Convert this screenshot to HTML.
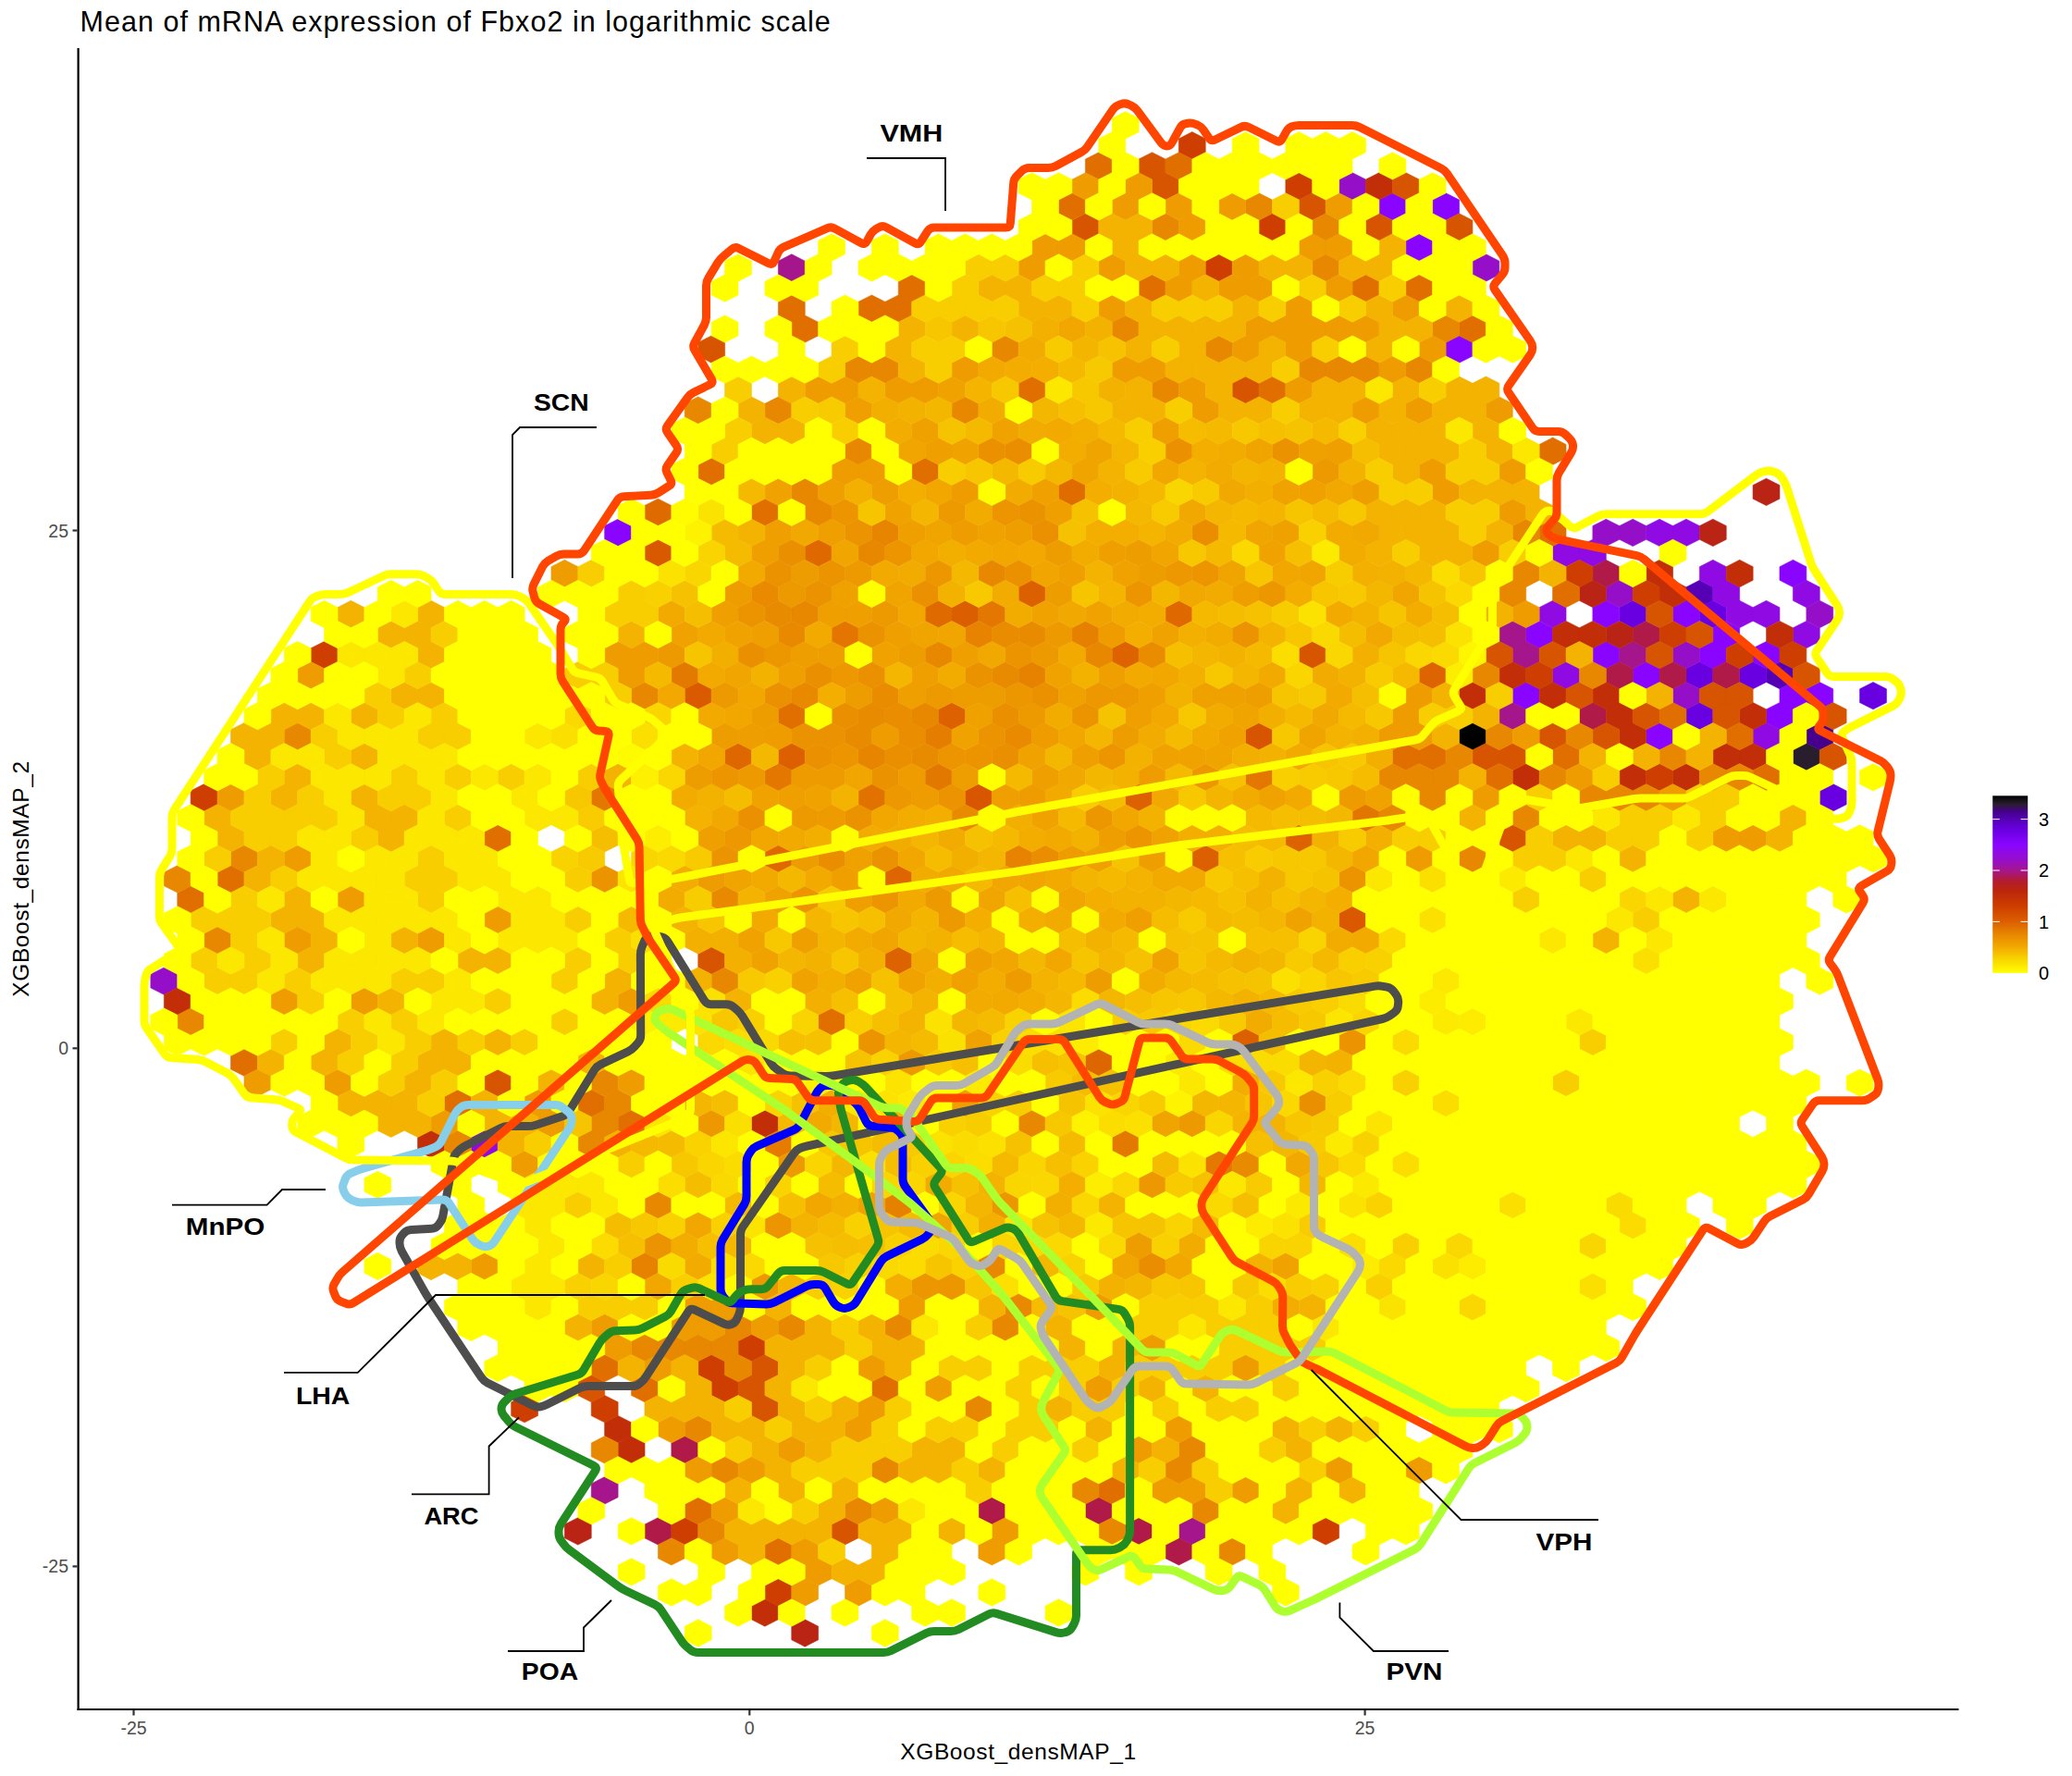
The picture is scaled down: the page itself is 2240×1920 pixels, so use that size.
<!DOCTYPE html>
<html><head><meta charset="utf-8"><title>Fbxo2</title>
<style>
html,body{margin:0;padding:0;background:#fff}
svg{display:block}
text{font-family:"Liberation Sans",sans-serif}
.tk{font-size:19.5px;fill:#4d4d4d}
.ax{font-size:24.5px;fill:#000;letter-spacing:0.6px}
.lb{font-size:26.5px;font-weight:bold;fill:#000}
.lg{font-size:20px;fill:#000}
</style></head><body>
<svg width="2240" height="1920" viewBox="0 0 2240 1920">
<rect width="2240" height="1920" fill="#fff"/>
<g stroke-width="0.6" stroke-linejoin="round">
<path fill="#000000" stroke="#000000" d="M1592.0,781.5l14.44,7.34v14.69l-14.44,7.34l-14.44,-7.34v-14.69z"/>
<path fill="#281e2d" stroke="#281e2d" d="M1952.8,803.5l14.44,7.34v14.69l-14.44,7.34l-14.44,-7.34v-14.69z"/>
<path fill="#46008c" stroke="#46008c" d="M1967.3,781.5l14.44,7.34v14.69l-14.44,7.34l-14.44,-7.34v-14.69z"/>
<path fill="#5500b4" stroke="#5500b4" d="M1837.4,627.3l14.44,7.34v14.69l-14.44,7.34l-14.44,-7.34v-14.69zM1924.0,715.4l14.44,7.34v14.69l-14.44,7.34l-14.44,-7.34v-14.69z"/>
<path fill="#6900e1" stroke="#6900e1" d="M1765.2,649.3l14.44,7.34v14.69l-14.44,7.34l-14.44,-7.34v-14.69zM1851.8,649.3l14.44,7.34v14.69l-14.44,7.34l-14.44,-7.34v-14.69zM1837.4,715.4l14.44,7.34v14.69l-14.44,7.34l-14.44,-7.34v-14.69zM1895.1,715.4l14.44,7.34v14.69l-14.44,7.34l-14.44,-7.34v-14.69zM2025.0,737.5l14.44,7.34v14.69l-14.44,7.34l-14.44,-7.34v-14.69zM1837.4,759.5l14.44,7.34v14.69l-14.44,7.34l-14.44,-7.34v-14.69zM1981.7,847.6l14.44,7.34v14.69l-14.44,7.34l-14.44,-7.34v-14.69z"/>
<path fill="#8a05ff" stroke="#8a05ff" d="M1505.4,208.7l14.44,7.34v14.69l-14.44,7.34l-14.44,-7.34v-14.69zM1563.1,208.7l14.44,7.34v14.69l-14.44,7.34l-14.44,-7.34v-14.69zM1534.2,252.8l14.44,7.34v14.69l-14.44,7.34l-14.44,-7.34v-14.69zM1577.5,362.9l14.44,7.34v14.69l-14.44,7.34l-14.44,-7.34v-14.69zM668.1,561.2l14.44,7.34v14.69l-14.44,7.34l-14.44,-7.34v-14.69zM1938.4,605.3l14.44,7.34v14.69l-14.44,7.34l-14.44,-7.34v-14.69zM1736.3,649.3l14.44,7.34v14.69l-14.44,7.34l-14.44,-7.34v-14.69zM1822.9,649.3l14.44,7.34v14.69l-14.44,7.34l-14.44,-7.34v-14.69zM1664.1,671.4l14.44,7.34v14.69l-14.44,7.34l-14.44,-7.34v-14.69zM1866.2,671.4l14.44,7.34v14.69l-14.44,7.34l-14.44,-7.34v-14.69zM1736.3,693.4l14.44,7.34v14.69l-14.44,7.34l-14.44,-7.34v-14.69zM1851.8,693.4l14.44,7.34v14.69l-14.44,7.34l-14.44,-7.34v-14.69zM1909.5,693.4l14.44,7.34v14.69l-14.44,7.34l-14.44,-7.34v-14.69zM1779.6,715.4l14.44,7.34v14.69l-14.44,7.34l-14.44,-7.34v-14.69zM1649.7,737.5l14.44,7.34v14.69l-14.44,7.34l-14.44,-7.34v-14.69zM1938.4,737.5l14.44,7.34v14.69l-14.44,7.34l-14.44,-7.34v-14.69zM1967.3,737.5l14.44,7.34v14.69l-14.44,7.34l-14.44,-7.34v-14.69zM1924.0,759.5l14.44,7.34v14.69l-14.44,7.34l-14.44,-7.34v-14.69zM1794.1,781.5l14.44,7.34v14.69l-14.44,7.34l-14.44,-7.34v-14.69z"/>
<path fill="#900ae4" stroke="#900ae4" d="M1794.1,561.2l14.44,7.34v14.69l-14.44,7.34l-14.44,-7.34v-14.69zM1822.9,561.2l14.44,7.34v14.69l-14.44,7.34l-14.44,-7.34v-14.69zM1693.0,583.2l14.44,7.34v14.69l-14.44,7.34l-14.44,-7.34v-14.69zM1721.9,583.2l14.44,7.34v14.69l-14.44,7.34l-14.44,-7.34v-14.69zM1851.8,605.3l14.44,7.34v14.69l-14.44,7.34l-14.44,-7.34v-14.69zM1866.2,627.3l14.44,7.34v14.69l-14.44,7.34l-14.44,-7.34v-14.69zM1952.8,627.3l14.44,7.34v14.69l-14.44,7.34l-14.44,-7.34v-14.69zM1678.6,649.3l14.44,7.34v14.69l-14.44,7.34l-14.44,-7.34v-14.69zM1880.7,649.3l14.44,7.34v14.69l-14.44,7.34l-14.44,-7.34v-14.69zM1909.5,649.3l14.44,7.34v14.69l-14.44,7.34l-14.44,-7.34v-14.69zM1952.8,671.4l14.44,7.34v14.69l-14.44,7.34l-14.44,-7.34v-14.69zM1693.0,715.4l14.44,7.34v14.69l-14.44,7.34l-14.44,-7.34v-14.69zM1909.5,781.5l14.44,7.34v14.69l-14.44,7.34l-14.44,-7.34v-14.69zM523.8,1222.1l14.44,7.34v14.69l-14.44,7.34l-14.44,-7.34v-14.69z"/>
<path fill="#960fc8" stroke="#960fc8" d="M1462.1,186.7l14.44,7.34v14.69l-14.44,7.34l-14.44,-7.34v-14.69zM1606.4,274.8l14.44,7.34v14.69l-14.44,7.34l-14.44,-7.34v-14.69zM1736.3,561.2l14.44,7.34v14.69l-14.44,7.34l-14.44,-7.34v-14.69zM1765.2,561.2l14.44,7.34v14.69l-14.44,7.34l-14.44,-7.34v-14.69zM1750.8,627.3l14.44,7.34v14.69l-14.44,7.34l-14.44,-7.34v-14.69zM1967.3,649.3l14.44,7.34v14.69l-14.44,7.34l-14.44,-7.34v-14.69zM1822.9,693.4l14.44,7.34v14.69l-14.44,7.34l-14.44,-7.34v-14.69zM1822.9,737.5l14.44,7.34v14.69l-14.44,7.34l-14.44,-7.34v-14.69zM177.3,1045.9l14.44,7.34v14.69l-14.44,7.34l-14.44,-7.34v-14.69z"/>
<path fill="#a5168c" stroke="#a5168c" d="M855.8,274.8l14.44,7.34v14.69l-14.44,7.34l-14.44,-7.34v-14.69zM1635.3,671.4l14.44,7.34v14.69l-14.44,7.34l-14.44,-7.34v-14.69zM1649.7,693.4l14.44,7.34v14.69l-14.44,7.34l-14.44,-7.34v-14.69zM1765.2,693.4l14.44,7.34v14.69l-14.44,7.34l-14.44,-7.34v-14.69zM1635.3,759.5l14.44,7.34v14.69l-14.44,7.34l-14.44,-7.34v-14.69zM653.7,1596.6l14.44,7.34v14.69l-14.44,7.34l-14.44,-7.34v-14.69zM1288.8,1640.7l14.44,7.34v14.69l-14.44,7.34l-14.44,-7.34v-14.69z"/>
<path fill="#af1a49" stroke="#af1a49" d="M1736.3,605.3l14.44,7.34v14.69l-14.44,7.34l-14.44,-7.34v-14.69zM1779.6,671.4l14.44,7.34v14.69l-14.44,7.34l-14.44,-7.34v-14.69zM1750.8,715.4l14.44,7.34v14.69l-14.44,7.34l-14.44,-7.34v-14.69zM1808.5,715.4l14.44,7.34v14.69l-14.44,7.34l-14.44,-7.34v-14.69zM1866.2,715.4l14.44,7.34v14.69l-14.44,7.34l-14.44,-7.34v-14.69zM1721.9,759.5l14.44,7.34v14.69l-14.44,7.34l-14.44,-7.34v-14.69zM740.3,1552.6l14.44,7.34v14.69l-14.44,7.34l-14.44,-7.34v-14.69zM1072.3,1618.7l14.44,7.34v14.69l-14.44,7.34l-14.44,-7.34v-14.69zM1187.8,1618.7l14.44,7.34v14.69l-14.44,7.34l-14.44,-7.34v-14.69zM711.4,1640.7l14.44,7.34v14.69l-14.44,7.34l-14.44,-7.34v-14.69zM1231.1,1640.7l14.44,7.34v14.69l-14.44,7.34l-14.44,-7.34v-14.69zM1274.4,1662.7l14.44,7.34v14.69l-14.44,7.34l-14.44,-7.34v-14.69z"/>
<path fill="#ba2414" stroke="#ba2414" d="M1909.5,517.2l14.44,7.34v14.69l-14.44,7.34l-14.44,-7.34v-14.69zM1851.8,561.2l14.44,7.34v14.69l-14.44,7.34l-14.44,-7.34v-14.69zM1721.9,627.3l14.44,7.34v14.69l-14.44,7.34l-14.44,-7.34v-14.69zM1750.8,671.4l14.44,7.34v14.69l-14.44,7.34l-14.44,-7.34v-14.69zM624.8,1640.7l14.44,7.34v14.69l-14.44,7.34l-14.44,-7.34v-14.69zM870.2,1750.8l14.44,7.34v14.69l-14.44,7.34l-14.44,-7.34v-14.69z"/>
<path fill="#c22e07" stroke="#c22e07" d="M1490.9,186.7l14.44,7.34v14.69l-14.44,7.34l-14.44,-7.34v-14.69zM1794.1,605.3l14.44,7.34v14.69l-14.44,7.34l-14.44,-7.34v-14.69zM1880.7,605.3l14.44,7.34v14.69l-14.44,7.34l-14.44,-7.34v-14.69zM1808.5,627.3l14.44,7.34v14.69l-14.44,7.34l-14.44,-7.34v-14.69zM1693.0,671.4l14.44,7.34v14.69l-14.44,7.34l-14.44,-7.34v-14.69zM1721.9,671.4l14.44,7.34v14.69l-14.44,7.34l-14.44,-7.34v-14.69zM1924.0,671.4l14.44,7.34v14.69l-14.44,7.34l-14.44,-7.34v-14.69zM1635.3,715.4l14.44,7.34v14.69l-14.44,7.34l-14.44,-7.34v-14.69zM1592.0,737.5l14.44,7.34v14.69l-14.44,7.34l-14.44,-7.34v-14.69zM1678.6,737.5l14.44,7.34v14.69l-14.44,7.34l-14.44,-7.34v-14.69zM1736.3,737.5l14.44,7.34v14.69l-14.44,7.34l-14.44,-7.34v-14.69zM1750.8,759.5l14.44,7.34v14.69l-14.44,7.34l-14.44,-7.34v-14.69zM1895.1,759.5l14.44,7.34v14.69l-14.44,7.34l-14.44,-7.34v-14.69zM1765.2,781.5l14.44,7.34v14.69l-14.44,7.34l-14.44,-7.34v-14.69zM1866.2,803.5l14.44,7.34v14.69l-14.44,7.34l-14.44,-7.34v-14.69zM1895.1,803.5l14.44,7.34v14.69l-14.44,7.34l-14.44,-7.34v-14.69zM1649.7,825.6l14.44,7.34v14.69l-14.44,7.34l-14.44,-7.34v-14.69zM1765.2,825.6l14.44,7.34v14.69l-14.44,7.34l-14.44,-7.34v-14.69zM1822.9,825.6l14.44,7.34v14.69l-14.44,7.34l-14.44,-7.34v-14.69zM191.8,1067.9l14.44,7.34v14.69l-14.44,7.34l-14.44,-7.34v-14.69zM826.9,1200.1l14.44,7.34v14.69l-14.44,7.34l-14.44,-7.34v-14.69zM466.0,1222.1l14.44,7.34v14.69l-14.44,7.34l-14.44,-7.34v-14.69zM668.1,1530.5l14.44,7.34v14.69l-14.44,7.34l-14.44,-7.34v-14.69zM682.6,1552.6l14.44,7.34v14.69l-14.44,7.34l-14.44,-7.34v-14.69zM826.9,1728.8l14.44,7.34v14.69l-14.44,7.34l-14.44,-7.34v-14.69z"/>
<path fill="#cd3e00" stroke="#cd3e00" d="M1288.8,142.6l14.44,7.34v14.69l-14.44,7.34l-14.44,-7.34v-14.69zM1404.3,186.7l14.44,7.34v14.69l-14.44,7.34l-14.44,-7.34v-14.69zM1375.4,230.8l14.44,7.34v14.69l-14.44,7.34l-14.44,-7.34v-14.69zM1317.7,274.8l14.44,7.34v14.69l-14.44,7.34l-14.44,-7.34v-14.69zM1707.5,605.3l14.44,7.34v14.69l-14.44,7.34l-14.44,-7.34v-14.69zM1779.6,627.3l14.44,7.34v14.69l-14.44,7.34l-14.44,-7.34v-14.69zM1808.5,671.4l14.44,7.34v14.69l-14.44,7.34l-14.44,-7.34v-14.69zM350.6,693.4l14.44,7.34v14.69l-14.44,7.34l-14.44,-7.34v-14.69zM1880.7,693.4l14.44,7.34v14.69l-14.44,7.34l-14.44,-7.34v-14.69zM1938.4,693.4l14.44,7.34v14.69l-14.44,7.34l-14.44,-7.34v-14.69zM1664.1,715.4l14.44,7.34v14.69l-14.44,7.34l-14.44,-7.34v-14.69zM1794.1,825.6l14.44,7.34v14.69l-14.44,7.34l-14.44,-7.34v-14.69zM220.6,847.6l14.44,7.34v14.69l-14.44,7.34l-14.44,-7.34v-14.69zM812.5,1442.4l14.44,7.34v14.69l-14.44,7.34l-14.44,-7.34v-14.69zM769.2,1464.4l14.44,7.34v14.69l-14.44,7.34l-14.44,-7.34v-14.69zM783.6,1486.5l14.44,7.34v14.69l-14.44,7.34l-14.44,-7.34v-14.69zM567.1,1508.5l14.44,7.34v14.69l-14.44,7.34l-14.44,-7.34v-14.69zM653.7,1508.5l14.44,7.34v14.69l-14.44,7.34l-14.44,-7.34v-14.69zM740.3,1640.7l14.44,7.34v14.69l-14.44,7.34l-14.44,-7.34v-14.69zM1433.2,1640.7l14.44,7.34v14.69l-14.44,7.34l-14.44,-7.34v-14.69zM841.4,1706.8l14.44,7.34v14.69l-14.44,7.34l-14.44,-7.34v-14.69z"/>
<path fill="#d75400" stroke="#d75400" d="M1245.5,164.7l14.44,7.34v14.69l-14.44,7.34l-14.44,-7.34v-14.69zM1260.0,186.7l14.44,7.34v14.69l-14.44,7.34l-14.44,-7.34v-14.69zM1519.8,186.7l14.44,7.34v14.69l-14.44,7.34l-14.44,-7.34v-14.69zM1418.8,208.7l14.44,7.34v14.69l-14.44,7.34l-14.44,-7.34v-14.69zM1173.4,230.8l14.44,7.34v14.69l-14.44,7.34l-14.44,-7.34v-14.69zM1490.9,230.8l14.44,7.34v14.69l-14.44,7.34l-14.44,-7.34v-14.69zM1577.5,230.8l14.44,7.34v14.69l-14.44,7.34l-14.44,-7.34v-14.69zM769.2,362.9l14.44,7.34v14.69l-14.44,7.34l-14.44,-7.34v-14.69zM1346.6,407.0l14.44,7.34v14.69l-14.44,7.34l-14.44,-7.34v-14.69zM1794.1,649.3l14.44,7.34v14.69l-14.44,7.34l-14.44,-7.34v-14.69zM1837.4,671.4l14.44,7.34v14.69l-14.44,7.34l-14.44,-7.34v-14.69zM1620.8,693.4l14.44,7.34v14.69l-14.44,7.34l-14.44,-7.34v-14.69zM1678.6,693.4l14.44,7.34v14.69l-14.44,7.34l-14.44,-7.34v-14.69zM1794.1,693.4l14.44,7.34v14.69l-14.44,7.34l-14.44,-7.34v-14.69zM1952.8,715.4l14.44,7.34v14.69l-14.44,7.34l-14.44,-7.34v-14.69zM1707.5,737.5l14.44,7.34v14.69l-14.44,7.34l-14.44,-7.34v-14.69zM1851.8,737.5l14.44,7.34v14.69l-14.44,7.34l-14.44,-7.34v-14.69zM1880.7,737.5l14.44,7.34v14.69l-14.44,7.34l-14.44,-7.34v-14.69zM1779.6,759.5l14.44,7.34v14.69l-14.44,7.34l-14.44,-7.34v-14.69zM1866.2,759.5l14.44,7.34v14.69l-14.44,7.34l-14.44,-7.34v-14.69zM1981.7,759.5l14.44,7.34v14.69l-14.44,7.34l-14.44,-7.34v-14.69zM1361.0,781.5l14.44,7.34v14.69l-14.44,7.34l-14.44,-7.34v-14.69zM1678.6,781.5l14.44,7.34v14.69l-14.44,7.34l-14.44,-7.34v-14.69zM1736.3,781.5l14.44,7.34v14.69l-14.44,7.34l-14.44,-7.34v-14.69zM1606.4,803.5l14.44,7.34v14.69l-14.44,7.34l-14.44,-7.34v-14.69zM1635.3,803.5l14.44,7.34v14.69l-14.44,7.34l-14.44,-7.34v-14.69zM1981.7,803.5l14.44,7.34v14.69l-14.44,7.34l-14.44,-7.34v-14.69zM1635.3,891.7l14.44,7.34v14.69l-14.44,7.34l-14.44,-7.34v-14.69zM769.2,1023.8l14.44,7.34v14.69l-14.44,7.34l-14.44,-7.34v-14.69zM538.2,1156.0l14.44,7.34v14.69l-14.44,7.34l-14.44,-7.34v-14.69zM826.9,1464.4l14.44,7.34v14.69l-14.44,7.34l-14.44,-7.34v-14.69zM639.3,1486.5l14.44,7.34v14.69l-14.44,7.34l-14.44,-7.34v-14.69zM812.5,1486.5l14.44,7.34v14.69l-14.44,7.34l-14.44,-7.34v-14.69zM826.9,1508.5l14.44,7.34v14.69l-14.44,7.34l-14.44,-7.34v-14.69zM913.5,1640.7l14.44,7.34v14.69l-14.44,7.34l-14.44,-7.34v-14.69z"/>
<path fill="#d85500" stroke="#d85500" d="M1418.8,693.4l14.44,7.34v14.69l-14.44,7.34l-14.44,-7.34v-14.69z"/>
<path fill="#d85600" stroke="#d85600" d="M1057.9,847.6l14.44,7.34v14.69l-14.44,7.34l-14.44,-7.34v-14.69z"/>
<path fill="#d95800" stroke="#d95800" d="M1462.1,979.8l14.44,7.34v14.69l-14.44,7.34l-14.44,-7.34v-14.69z"/>
<path fill="#d95900" stroke="#d95900" d="M711.4,583.2l14.44,7.34v14.69l-14.44,7.34l-14.44,-7.34v-14.69z"/>
<path fill="#da5a00" stroke="#da5a00" d="M754.7,737.5l14.44,7.34v14.69l-14.44,7.34l-14.44,-7.34v-14.69z"/>
<path fill="#db5e00" stroke="#db5e00" d="M1043.4,649.3l14.44,7.34v14.69l-14.44,7.34l-14.44,-7.34v-14.69z"/>
<path fill="#dc5f00" stroke="#dc5f00" d="M855.8,803.5l14.44,7.34v14.69l-14.44,7.34l-14.44,-7.34v-14.69z"/>
<path fill="#dc6000" stroke="#dc6000" d="M1115.6,627.3l14.44,7.34v14.69l-14.44,7.34l-14.44,-7.34v-14.69zM1303.3,913.7l14.44,7.34v14.69l-14.44,7.34l-14.44,-7.34v-14.69zM1346.6,1112.0l14.44,7.34v14.69l-14.44,7.34l-14.44,-7.34v-14.69z"/>
<path fill="#dd6100" stroke="#dd6100" d="M1029.0,759.5l14.44,7.34v14.69l-14.44,7.34l-14.44,-7.34v-14.69zM1231.1,847.6l14.44,7.34v14.69l-14.44,7.34l-14.44,-7.34v-14.69z"/>
<path fill="#dd6300" stroke="#dd6300" d="M1216.7,693.4l14.44,7.34v14.69l-14.44,7.34l-14.44,-7.34v-14.69zM1404.3,891.7l14.44,7.34v14.69l-14.44,7.34l-14.44,-7.34v-14.69zM971.3,1023.8l14.44,7.34v14.69l-14.44,7.34l-14.44,-7.34v-14.69z"/>
<path fill="#dd6400" stroke="#dd6400" d="M1548.7,715.4l14.44,7.34v14.69l-14.44,7.34l-14.44,-7.34v-14.69z"/>
<path fill="#de6500" stroke="#de6500" d="M971.3,935.7l14.44,7.34v14.69l-14.44,7.34l-14.44,-7.34v-14.69z"/>
<path fill="#de6600" stroke="#de6600" d="M1187.8,1134.0l14.44,7.34v14.69l-14.44,7.34l-14.44,-7.34v-14.69z"/>
<path fill="#de6700" stroke="#de6700" d="M798.0,803.5l14.44,7.34v14.69l-14.44,7.34l-14.44,-7.34v-14.69z"/>
<path fill="#df6800" stroke="#df6800" d="M884.7,583.2l14.44,7.34v14.69l-14.44,7.34l-14.44,-7.34v-14.69z"/>
<path fill="#df6900" stroke="#df6900" d="M1274.4,649.3l14.44,7.34v14.69l-14.44,7.34l-14.44,-7.34v-14.69zM841.4,913.7l14.44,7.34v14.69l-14.44,7.34l-14.44,-7.34v-14.69z"/>
<path fill="#df6a00" stroke="#df6a00" d="M711.4,539.2l14.44,7.34v14.69l-14.44,7.34l-14.44,-7.34v-14.69zM1014.6,649.3l14.44,7.34v14.69l-14.44,7.34l-14.44,-7.34v-14.69z"/>
<path fill="#e06c00" stroke="#e06c00" d="M1158.9,517.2l14.44,7.34v14.69l-14.44,7.34l-14.44,-7.34v-14.69z"/>
<path fill="#e16f00" stroke="#e16f00" d="M1187.8,164.7l14.44,7.34v14.69l-14.44,7.34l-14.44,-7.34v-14.69zM1274.4,164.7l14.44,7.34v14.69l-14.44,7.34l-14.44,-7.34v-14.69zM1158.9,208.7l14.44,7.34v14.69l-14.44,7.34l-14.44,-7.34v-14.69zM985.7,296.9l14.44,7.34v14.69l-14.44,7.34l-14.44,-7.34v-14.69zM1245.5,296.9l14.44,7.34v14.69l-14.44,7.34l-14.44,-7.34v-14.69zM1476.5,296.9l14.44,7.34v14.69l-14.44,7.34l-14.44,-7.34v-14.69zM1534.2,296.9l14.44,7.34v14.69l-14.44,7.34l-14.44,-7.34v-14.69zM855.8,318.9l14.44,7.34v14.69l-14.44,7.34l-14.44,-7.34v-14.69zM942.4,318.9l14.44,7.34v14.69l-14.44,7.34l-14.44,-7.34v-14.69zM971.3,318.9l14.44,7.34v14.69l-14.44,7.34l-14.44,-7.34v-14.69zM870.2,340.9l14.44,7.34v14.69l-14.44,7.34l-14.44,-7.34v-14.69zM1592.0,340.9l14.44,7.34v14.69l-14.44,7.34l-14.44,-7.34v-14.69zM1115.6,407.0l14.44,7.34v14.69l-14.44,7.34l-14.44,-7.34v-14.69zM1375.4,407.0l14.44,7.34v14.69l-14.44,7.34l-14.44,-7.34v-14.69zM1678.6,473.1l14.44,7.34v14.69l-14.44,7.34l-14.44,-7.34v-14.69zM769.2,495.1l14.44,7.34v14.69l-14.44,7.34l-14.44,-7.34v-14.69zM1000.1,495.1l14.44,7.34v14.69l-14.44,7.34l-14.44,-7.34v-14.69zM826.9,539.2l14.44,7.34v14.69l-14.44,7.34l-14.44,-7.34v-14.69zM1678.6,561.2l14.44,7.34v14.69l-14.44,7.34l-14.44,-7.34v-14.69zM1693.0,627.3l14.44,7.34v14.69l-14.44,7.34l-14.44,-7.34v-14.69zM855.8,759.5l14.44,7.34v14.69l-14.44,7.34l-14.44,-7.34v-14.69zM1808.5,759.5l14.44,7.34v14.69l-14.44,7.34l-14.44,-7.34v-14.69zM1880.7,781.5l14.44,7.34v14.69l-14.44,7.34l-14.44,-7.34v-14.69zM1519.8,803.5l14.44,7.34v14.69l-14.44,7.34l-14.44,-7.34v-14.69zM1548.7,803.5l14.44,7.34v14.69l-14.44,7.34l-14.44,-7.34v-14.69zM1693.0,803.5l14.44,7.34v14.69l-14.44,7.34l-14.44,-7.34v-14.69zM1620.8,825.6l14.44,7.34v14.69l-14.44,7.34l-14.44,-7.34v-14.69zM1909.5,825.6l14.44,7.34v14.69l-14.44,7.34l-14.44,-7.34v-14.69zM538.2,891.7l14.44,7.34v14.69l-14.44,7.34l-14.44,-7.34v-14.69zM249.5,935.7l14.44,7.34v14.69l-14.44,7.34l-14.44,-7.34v-14.69zM206.2,957.8l14.44,7.34v14.69l-14.44,7.34l-14.44,-7.34v-14.69zM899.1,1089.9l14.44,7.34v14.69l-14.44,7.34l-14.44,-7.34v-14.69zM263.9,1134.0l14.44,7.34v14.69l-14.44,7.34l-14.44,-7.34v-14.69zM494.9,1178.1l14.44,7.34v14.69l-14.44,7.34l-14.44,-7.34v-14.69zM639.3,1178.1l14.44,7.34v14.69l-14.44,7.34l-14.44,-7.34v-14.69zM682.6,1200.1l14.44,7.34v14.69l-14.44,7.34l-14.44,-7.34v-14.69zM653.7,1464.4l14.44,7.34v14.69l-14.44,7.34l-14.44,-7.34v-14.69zM697.0,1486.5l14.44,7.34v14.69l-14.44,7.34l-14.44,-7.34v-14.69zM956.8,1486.5l14.44,7.34v14.69l-14.44,7.34l-14.44,-7.34v-14.69zM1202.2,1596.6l14.44,7.34v14.69l-14.44,7.34l-14.44,-7.34v-14.69zM754.7,1618.7l14.44,7.34v14.69l-14.44,7.34l-14.44,-7.34v-14.69zM841.4,1662.7l14.44,7.34v14.69l-14.44,7.34l-14.44,-7.34v-14.69z"/>
<path fill="#e27200" stroke="#e27200" d="M942.4,847.6l14.44,7.34v14.69l-14.44,7.34l-14.44,-7.34v-14.69z"/>
<path fill="#e37500" stroke="#e37500" d="M913.5,671.4l14.44,7.34v14.69l-14.44,7.34l-14.44,-7.34v-14.69z"/>
<path fill="#e37600" stroke="#e37600" d="M1476.5,869.6l14.44,7.34v14.69l-14.44,7.34l-14.44,-7.34v-14.69z"/>
<path fill="#e37700" stroke="#e37700" d="M1072.3,649.3l14.44,7.34v14.69l-14.44,7.34l-14.44,-7.34v-14.69zM841.4,825.6l14.44,7.34v14.69l-14.44,7.34l-14.44,-7.34v-14.69zM1361.0,825.6l14.44,7.34v14.69l-14.44,7.34l-14.44,-7.34v-14.69zM653.7,847.6l14.44,7.34v14.69l-14.44,7.34l-14.44,-7.34v-14.69z"/>
<path fill="#e37800" stroke="#e37800" d="M1014.6,825.6l14.44,7.34v14.69l-14.44,7.34l-14.44,-7.34v-14.69z"/>
<path fill="#e47800" stroke="#e47800" d="M1317.7,1244.1l14.44,7.34v14.69l-14.44,7.34l-14.44,-7.34v-14.69z"/>
<path fill="#e47900" stroke="#e47900" d="M740.3,715.4l14.44,7.34v14.69l-14.44,7.34l-14.44,-7.34v-14.69zM1216.7,1222.1l14.44,7.34v14.69l-14.44,7.34l-14.44,-7.34v-14.69z"/>
<path fill="#e57c00" stroke="#e57c00" d="M841.4,1222.1l14.44,7.34v14.69l-14.44,7.34l-14.44,-7.34v-14.69z"/>
<path fill="#e57d00" stroke="#e57d00" d="M1014.6,781.5l14.44,7.34v14.69l-14.44,7.34l-14.44,-7.34v-14.69z"/>
<path fill="#e68000" stroke="#e68000" d="M1173.4,671.4l14.44,7.34v14.69l-14.44,7.34l-14.44,-7.34v-14.69z"/>
<path fill="#e68100" stroke="#e68100" d="M971.3,1288.2l14.44,7.34v14.69l-14.44,7.34l-14.44,-7.34v-14.69z"/>
<path fill="#e68200" stroke="#e68200" d="M697.0,1354.3l14.44,7.34v14.69l-14.44,7.34l-14.44,-7.34v-14.69z"/>
<path fill="#e78200" stroke="#e78200" d="M1115.6,715.4l14.44,7.34v14.69l-14.44,7.34l-14.44,-7.34v-14.69z"/>
<path fill="#e78300" stroke="#e78300" d="M1057.9,671.4l14.44,7.34v14.69l-14.44,7.34l-14.44,-7.34v-14.69zM1101.2,913.7l14.44,7.34v14.69l-14.44,7.34l-14.44,-7.34v-14.69z"/>
<path fill="#e78400" stroke="#e78400" d="M942.4,803.5l14.44,7.34v14.69l-14.44,7.34l-14.44,-7.34v-14.69z"/>
<path fill="#e78500" stroke="#e78500" d="M956.8,561.2l14.44,7.34v14.69l-14.44,7.34l-14.44,-7.34v-14.69z"/>
<path fill="#e88700" stroke="#e88700" d="M1361.0,208.7l14.44,7.34v14.69l-14.44,7.34l-14.44,-7.34v-14.69zM1260.0,230.8l14.44,7.34v14.69l-14.44,7.34l-14.44,-7.34v-14.69zM1433.2,230.8l14.44,7.34v14.69l-14.44,7.34l-14.44,-7.34v-14.69zM1433.2,274.8l14.44,7.34v14.69l-14.44,7.34l-14.44,-7.34v-14.69zM1216.7,340.9l14.44,7.34v14.69l-14.44,7.34l-14.44,-7.34v-14.69zM1563.1,340.9l14.44,7.34v14.69l-14.44,7.34l-14.44,-7.34v-14.69zM1086.7,362.9l14.44,7.34v14.69l-14.44,7.34l-14.44,-7.34v-14.69zM1317.7,362.9l14.44,7.34v14.69l-14.44,7.34l-14.44,-7.34v-14.69zM928.0,385.0l14.44,7.34v14.69l-14.44,7.34l-14.44,-7.34v-14.69zM956.8,385.0l14.44,7.34v14.69l-14.44,7.34l-14.44,-7.34v-14.69zM1418.8,385.0l14.44,7.34v14.69l-14.44,7.34l-14.44,-7.34v-14.69zM1447.6,385.0l14.44,7.34v14.69l-14.44,7.34l-14.44,-7.34v-14.69zM1476.5,385.0l14.44,7.34v14.69l-14.44,7.34l-14.44,-7.34v-14.69zM1534.2,385.0l14.44,7.34v14.69l-14.44,7.34l-14.44,-7.34v-14.69zM1260.0,407.0l14.44,7.34v14.69l-14.44,7.34l-14.44,-7.34v-14.69zM754.7,429.0l14.44,7.34v14.69l-14.44,7.34l-14.44,-7.34v-14.69zM841.4,429.0l14.44,7.34v14.69l-14.44,7.34l-14.44,-7.34v-14.69zM1043.4,429.0l14.44,7.34v14.69l-14.44,7.34l-14.44,-7.34v-14.69zM928.0,473.1l14.44,7.34v14.69l-14.44,7.34l-14.44,-7.34v-14.69zM870.2,517.2l14.44,7.34v14.69l-14.44,7.34l-14.44,-7.34v-14.69zM884.7,539.2l14.44,7.34v14.69l-14.44,7.34l-14.44,-7.34v-14.69zM1649.7,561.2l14.44,7.34v14.69l-14.44,7.34l-14.44,-7.34v-14.69zM942.4,583.2l14.44,7.34v14.69l-14.44,7.34l-14.44,-7.34v-14.69zM1649.7,605.3l14.44,7.34v14.69l-14.44,7.34l-14.44,-7.34v-14.69zM1635.3,627.3l14.44,7.34v14.69l-14.44,7.34l-14.44,-7.34v-14.69zM870.2,649.3l14.44,7.34v14.69l-14.44,7.34l-14.44,-7.34v-14.69zM1014.6,693.4l14.44,7.34v14.69l-14.44,7.34l-14.44,-7.34v-14.69zM1606.4,715.4l14.44,7.34v14.69l-14.44,7.34l-14.44,-7.34v-14.69zM1721.9,715.4l14.44,7.34v14.69l-14.44,7.34l-14.44,-7.34v-14.69zM697.0,737.5l14.44,7.34v14.69l-14.44,7.34l-14.44,-7.34v-14.69zM1000.1,759.5l14.44,7.34v14.69l-14.44,7.34l-14.44,-7.34v-14.69zM321.7,781.5l14.44,7.34v14.69l-14.44,7.34l-14.44,-7.34v-14.69zM1620.8,781.5l14.44,7.34v14.69l-14.44,7.34l-14.44,-7.34v-14.69zM1707.5,781.5l14.44,7.34v14.69l-14.44,7.34l-14.44,-7.34v-14.69zM1577.5,803.5l14.44,7.34v14.69l-14.44,7.34l-14.44,-7.34v-14.69zM1808.5,803.5l14.44,7.34v14.69l-14.44,7.34l-14.44,-7.34v-14.69zM1505.4,825.6l14.44,7.34v14.69l-14.44,7.34l-14.44,-7.34v-14.69zM1534.2,825.6l14.44,7.34v14.69l-14.44,7.34l-14.44,-7.34v-14.69zM1563.1,825.6l14.44,7.34v14.69l-14.44,7.34l-14.44,-7.34v-14.69zM1678.6,825.6l14.44,7.34v14.69l-14.44,7.34l-14.44,-7.34v-14.69zM1851.8,825.6l14.44,7.34v14.69l-14.44,7.34l-14.44,-7.34v-14.69zM1880.7,825.6l14.44,7.34v14.69l-14.44,7.34l-14.44,-7.34v-14.69zM1548.7,847.6l14.44,7.34v14.69l-14.44,7.34l-14.44,-7.34v-14.69zM1721.9,847.6l14.44,7.34v14.69l-14.44,7.34l-14.44,-7.34v-14.69zM1750.8,847.6l14.44,7.34v14.69l-14.44,7.34l-14.44,-7.34v-14.69zM1779.6,847.6l14.44,7.34v14.69l-14.44,7.34l-14.44,-7.34v-14.69zM1505.4,869.6l14.44,7.34v14.69l-14.44,7.34l-14.44,-7.34v-14.69zM1649.7,869.6l14.44,7.34v14.69l-14.44,7.34l-14.44,-7.34v-14.69zM263.9,913.7l14.44,7.34v14.69l-14.44,7.34l-14.44,-7.34v-14.69zM1592.0,913.7l14.44,7.34v14.69l-14.44,7.34l-14.44,-7.34v-14.69zM191.8,935.7l14.44,7.34v14.69l-14.44,7.34l-14.44,-7.34v-14.69zM235.1,1001.8l14.44,7.34v14.69l-14.44,7.34l-14.44,-7.34v-14.69zM783.6,1045.9l14.44,7.34v14.69l-14.44,7.34l-14.44,-7.34v-14.69zM206.2,1089.9l14.44,7.34v14.69l-14.44,7.34l-14.44,-7.34v-14.69zM653.7,1156.0l14.44,7.34v14.69l-14.44,7.34l-14.44,-7.34v-14.69zM668.1,1178.1l14.44,7.34v14.69l-14.44,7.34l-14.44,-7.34v-14.69zM653.7,1200.1l14.44,7.34v14.69l-14.44,7.34l-14.44,-7.34v-14.69zM494.9,1222.1l14.44,7.34v14.69l-14.44,7.34l-14.44,-7.34v-14.69zM639.3,1222.1l14.44,7.34v14.69l-14.44,7.34l-14.44,-7.34v-14.69zM711.4,1288.2l14.44,7.34v14.69l-14.44,7.34l-14.44,-7.34v-14.69zM798.0,1420.4l14.44,7.34v14.69l-14.44,7.34l-14.44,-7.34v-14.69zM855.8,1420.4l14.44,7.34v14.69l-14.44,7.34l-14.44,-7.34v-14.69zM971.3,1420.4l14.44,7.34v14.69l-14.44,7.34l-14.44,-7.34v-14.69zM1086.7,1420.4l14.44,7.34v14.69l-14.44,7.34l-14.44,-7.34v-14.69zM697.0,1442.4l14.44,7.34v14.69l-14.44,7.34l-14.44,-7.34v-14.69zM725.9,1442.4l14.44,7.34v14.69l-14.44,7.34l-14.44,-7.34v-14.69zM754.7,1442.4l14.44,7.34v14.69l-14.44,7.34l-14.44,-7.34v-14.69zM783.6,1442.4l14.44,7.34v14.69l-14.44,7.34l-14.44,-7.34v-14.69zM798.0,1464.4l14.44,7.34v14.69l-14.44,7.34l-14.44,-7.34v-14.69zM1057.9,1508.5l14.44,7.34v14.69l-14.44,7.34l-14.44,-7.34v-14.69zM754.7,1530.5l14.44,7.34v14.69l-14.44,7.34l-14.44,-7.34v-14.69zM653.7,1552.6l14.44,7.34v14.69l-14.44,7.34l-14.44,-7.34v-14.69zM1288.8,1552.6l14.44,7.34v14.69l-14.44,7.34l-14.44,-7.34v-14.69zM783.6,1574.6l14.44,7.34v14.69l-14.44,7.34l-14.44,-7.34v-14.69zM956.8,1574.6l14.44,7.34v14.69l-14.44,7.34l-14.44,-7.34v-14.69zM1274.4,1574.6l14.44,7.34v14.69l-14.44,7.34l-14.44,-7.34v-14.69zM1173.4,1596.6l14.44,7.34v14.69l-14.44,7.34l-14.44,-7.34v-14.69zM928.0,1618.7l14.44,7.34v14.69l-14.44,7.34l-14.44,-7.34v-14.69zM1303.3,1618.7l14.44,7.34v14.69l-14.44,7.34l-14.44,-7.34v-14.69zM769.2,1640.7l14.44,7.34v14.69l-14.44,7.34l-14.44,-7.34v-14.69zM1202.2,1640.7l14.44,7.34v14.69l-14.44,7.34l-14.44,-7.34v-14.69zM725.9,1662.7l14.44,7.34v14.69l-14.44,7.34l-14.44,-7.34v-14.69zM1332.1,1662.7l14.44,7.34v14.69l-14.44,7.34l-14.44,-7.34v-14.69z"/>
<path fill="#e88800" stroke="#e88800" d="M1072.3,605.3l14.44,7.34v14.69l-14.44,7.34l-14.44,-7.34v-14.69zM1187.8,693.4l14.44,7.34v14.69l-14.44,7.34l-14.44,-7.34v-14.69zM1115.6,1200.1l14.44,7.34v14.69l-14.44,7.34l-14.44,-7.34v-14.69zM1072.3,1354.3l14.44,7.34v14.69l-14.44,7.34l-14.44,-7.34v-14.69z"/>
<path fill="#e88900" stroke="#e88900" d="M855.8,671.4l14.44,7.34v14.69l-14.44,7.34l-14.44,-7.34v-14.69zM1101.2,1398.4l14.44,7.34v14.69l-14.44,7.34l-14.44,-7.34v-14.69z"/>
<path fill="#e98900" stroke="#e98900" d="M870.2,737.5l14.44,7.34v14.69l-14.44,7.34l-14.44,-7.34v-14.69zM783.6,957.8l14.44,7.34v14.69l-14.44,7.34l-14.44,-7.34v-14.69z"/>
<path fill="#e98a00" stroke="#e98a00" d="M826.9,627.3l14.44,7.34v14.69l-14.44,7.34l-14.44,-7.34v-14.69zM1101.2,781.5l14.44,7.34v14.69l-14.44,7.34l-14.44,-7.34v-14.69z"/>
<path fill="#e98b00" stroke="#e98b00" d="M841.4,649.3l14.44,7.34v14.69l-14.44,7.34l-14.44,-7.34v-14.69zM1115.6,671.4l14.44,7.34v14.69l-14.44,7.34l-14.44,-7.34v-14.69zM1086.7,715.4l14.44,7.34v14.69l-14.44,7.34l-14.44,-7.34v-14.69zM942.4,759.5l14.44,7.34v14.69l-14.44,7.34l-14.44,-7.34v-14.69zM928.0,781.5l14.44,7.34v14.69l-14.44,7.34l-14.44,-7.34v-14.69zM1000.1,803.5l14.44,7.34v14.69l-14.44,7.34l-14.44,-7.34v-14.69zM1043.4,869.6l14.44,7.34v14.69l-14.44,7.34l-14.44,-7.34v-14.69zM1346.6,1244.1l14.44,7.34v14.69l-14.44,7.34l-14.44,-7.34v-14.69z"/>
<path fill="#e98c00" stroke="#e98c00" d="M1086.7,671.4l14.44,7.34v14.69l-14.44,7.34l-14.44,-7.34v-14.69zM956.8,737.5l14.44,7.34v14.69l-14.44,7.34l-14.44,-7.34v-14.69z"/>
<path fill="#ea8c00" stroke="#ea8c00" d="M1245.5,693.4l14.44,7.34v14.69l-14.44,7.34l-14.44,-7.34v-14.69z"/>
<path fill="#ea8d00" stroke="#ea8d00" d="M971.3,759.5l14.44,7.34v14.69l-14.44,7.34l-14.44,-7.34v-14.69zM985.7,781.5l14.44,7.34v14.69l-14.44,7.34l-14.44,-7.34v-14.69zM1130.0,913.7l14.44,7.34v14.69l-14.44,7.34l-14.44,-7.34v-14.69zM1245.5,1354.3l14.44,7.34v14.69l-14.44,7.34l-14.44,-7.34v-14.69z"/>
<path fill="#ea8e00" stroke="#ea8e00" d="M1101.2,473.1l14.44,7.34v14.69l-14.44,7.34l-14.44,-7.34v-14.69zM1303.3,561.2l14.44,7.34v14.69l-14.44,7.34l-14.44,-7.34v-14.69zM899.1,913.7l14.44,7.34v14.69l-14.44,7.34l-14.44,-7.34v-14.69z"/>
<path fill="#ea8f00" stroke="#ea8f00" d="M855.8,583.2l14.44,7.34v14.69l-14.44,7.34l-14.44,-7.34v-14.69zM812.5,693.4l14.44,7.34v14.69l-14.44,7.34l-14.44,-7.34v-14.69zM884.7,715.4l14.44,7.34v14.69l-14.44,7.34l-14.44,-7.34v-14.69zM913.5,759.5l14.44,7.34v14.69l-14.44,7.34l-14.44,-7.34v-14.69zM971.3,803.5l14.44,7.34v14.69l-14.44,7.34l-14.44,-7.34v-14.69zM1086.7,803.5l14.44,7.34v14.69l-14.44,7.34l-14.44,-7.34v-14.69zM1418.8,1178.1l14.44,7.34v14.69l-14.44,7.34l-14.44,-7.34v-14.69z"/>
<path fill="#ea9000" stroke="#ea9000" d="M1086.7,759.5l14.44,7.34v14.69l-14.44,7.34l-14.44,-7.34v-14.69z"/>
<path fill="#eb9000" stroke="#eb9000" d="M1274.4,473.1l14.44,7.34v14.69l-14.44,7.34l-14.44,-7.34v-14.69zM1130.0,561.2l14.44,7.34v14.69l-14.44,7.34l-14.44,-7.34v-14.69zM1000.1,627.3l14.44,7.34v14.69l-14.44,7.34l-14.44,-7.34v-14.69zM942.4,715.4l14.44,7.34v14.69l-14.44,7.34l-14.44,-7.34v-14.69zM841.4,737.5l14.44,7.34v14.69l-14.44,7.34l-14.44,-7.34v-14.69zM884.7,803.5l14.44,7.34v14.69l-14.44,7.34l-14.44,-7.34v-14.69zM812.5,869.6l14.44,7.34v14.69l-14.44,7.34l-14.44,-7.34v-14.69z"/>
<path fill="#eb9100" stroke="#eb9100" d="M1072.3,473.1l14.44,7.34v14.69l-14.44,7.34l-14.44,-7.34v-14.69zM1101.2,605.3l14.44,7.34v14.69l-14.44,7.34l-14.44,-7.34v-14.69zM1130.0,737.5l14.44,7.34v14.69l-14.44,7.34l-14.44,-7.34v-14.69z"/>
<path fill="#eb9200" stroke="#eb9200" d="M1389.9,473.1l14.44,7.34v14.69l-14.44,7.34l-14.44,-7.34v-14.69zM1115.6,539.2l14.44,7.34v14.69l-14.44,7.34l-14.44,-7.34v-14.69zM841.4,605.3l14.44,7.34v14.69l-14.44,7.34l-14.44,-7.34v-14.69zM884.7,627.3l14.44,7.34v14.69l-14.44,7.34l-14.44,-7.34v-14.69zM942.4,671.4l14.44,7.34v14.69l-14.44,7.34l-14.44,-7.34v-14.69zM1057.9,715.4l14.44,7.34v14.69l-14.44,7.34l-14.44,-7.34v-14.69zM870.2,781.5l14.44,7.34v14.69l-14.44,7.34l-14.44,-7.34v-14.69zM899.1,781.5l14.44,7.34v14.69l-14.44,7.34l-14.44,-7.34v-14.69zM956.8,825.6l14.44,7.34v14.69l-14.44,7.34l-14.44,-7.34v-14.69zM928.0,869.6l14.44,7.34v14.69l-14.44,7.34l-14.44,-7.34v-14.69zM956.8,913.7l14.44,7.34v14.69l-14.44,7.34l-14.44,-7.34v-14.69z"/>
<path fill="#eb9300" stroke="#eb9300" d="M928.0,561.2l14.44,7.34v14.69l-14.44,7.34l-14.44,-7.34v-14.69zM1346.6,671.4l14.44,7.34v14.69l-14.44,7.34l-14.44,-7.34v-14.69zM1072.3,781.5l14.44,7.34v14.69l-14.44,7.34l-14.44,-7.34v-14.69zM1029.0,847.6l14.44,7.34v14.69l-14.44,7.34l-14.44,-7.34v-14.69zM783.6,913.7l14.44,7.34v14.69l-14.44,7.34l-14.44,-7.34v-14.69zM1462.1,1112.0l14.44,7.34v14.69l-14.44,7.34l-14.44,-7.34v-14.69zM711.4,1332.3l14.44,7.34v14.69l-14.44,7.34l-14.44,-7.34v-14.69z"/>
<path fill="#ec9300" stroke="#ec9300" d="M1057.9,803.5l14.44,7.34v14.69l-14.44,7.34l-14.44,-7.34v-14.69z"/>
<path fill="#ec9400" stroke="#ec9400" d="M899.1,605.3l14.44,7.34v14.69l-14.44,7.34l-14.44,-7.34v-14.69zM812.5,649.3l14.44,7.34v14.69l-14.44,7.34l-14.44,-7.34v-14.69zM1101.2,693.4l14.44,7.34v14.69l-14.44,7.34l-14.44,-7.34v-14.69zM1173.4,759.5l14.44,7.34v14.69l-14.44,7.34l-14.44,-7.34v-14.69zM653.7,935.7l14.44,7.34v14.69l-14.44,7.34l-14.44,-7.34v-14.69zM1462.1,935.7l14.44,7.34v14.69l-14.44,7.34l-14.44,-7.34v-14.69zM942.4,1112.0l14.44,7.34v14.69l-14.44,7.34l-14.44,-7.34v-14.69z"/>
<path fill="#ec9500" stroke="#ec9500" d="M913.5,539.2l14.44,7.34v14.69l-14.44,7.34l-14.44,-7.34v-14.69zM1086.7,539.2l14.44,7.34v14.69l-14.44,7.34l-14.44,-7.34v-14.69zM971.3,583.2l14.44,7.34v14.69l-14.44,7.34l-14.44,-7.34v-14.69zM1303.3,605.3l14.44,7.34v14.69l-14.44,7.34l-14.44,-7.34v-14.69zM1231.1,627.3l14.44,7.34v14.69l-14.44,7.34l-14.44,-7.34v-14.69zM913.5,803.5l14.44,7.34v14.69l-14.44,7.34l-14.44,-7.34v-14.69zM1029.0,803.5l14.44,7.34v14.69l-14.44,7.34l-14.44,-7.34v-14.69zM1202.2,803.5l14.44,7.34v14.69l-14.44,7.34l-14.44,-7.34v-14.69zM783.6,825.6l14.44,7.34v14.69l-14.44,7.34l-14.44,-7.34v-14.69zM1231.1,891.7l14.44,7.34v14.69l-14.44,7.34l-14.44,-7.34v-14.69zM870.2,957.8l14.44,7.34v14.69l-14.44,7.34l-14.44,-7.34v-14.69zM956.8,957.8l14.44,7.34v14.69l-14.44,7.34l-14.44,-7.34v-14.69zM841.4,1310.2l14.44,7.34v14.69l-14.44,7.34l-14.44,-7.34v-14.69z"/>
<path fill="#ec9600" stroke="#ec9600" d="M1014.6,605.3l14.44,7.34v14.69l-14.44,7.34l-14.44,-7.34v-14.69zM1375.4,627.3l14.44,7.34v14.69l-14.44,7.34l-14.44,-7.34v-14.69zM1101.2,737.5l14.44,7.34v14.69l-14.44,7.34l-14.44,-7.34v-14.69zM1187.8,869.6l14.44,7.34v14.69l-14.44,7.34l-14.44,-7.34v-14.69zM1000.1,1376.3l14.44,7.34v14.69l-14.44,7.34l-14.44,-7.34v-14.69zM1029.0,1376.3l14.44,7.34v14.69l-14.44,7.34l-14.44,-7.34v-14.69z"/>
<path fill="#ec9700" stroke="#ec9700" d="M841.4,693.4l14.44,7.34v14.69l-14.44,7.34l-14.44,-7.34v-14.69zM1086.7,1288.2l14.44,7.34v14.69l-14.44,7.34l-14.44,-7.34v-14.69z"/>
<path fill="#ed9700" stroke="#ed9700" d="M1303.3,825.6l14.44,7.34v14.69l-14.44,7.34l-14.44,-7.34v-14.69z"/>
<path fill="#ed9800" stroke="#ed9800" d="M1274.4,605.3l14.44,7.34v14.69l-14.44,7.34l-14.44,-7.34v-14.69zM913.5,715.4l14.44,7.34v14.69l-14.44,7.34l-14.44,-7.34v-14.69zM1187.8,737.5l14.44,7.34v14.69l-14.44,7.34l-14.44,-7.34v-14.69zM1216.7,737.5l14.44,7.34v14.69l-14.44,7.34l-14.44,-7.34v-14.69zM971.3,847.6l14.44,7.34v14.69l-14.44,7.34l-14.44,-7.34v-14.69zM798.0,891.7l14.44,7.34v14.69l-14.44,7.34l-14.44,-7.34v-14.69zM769.2,1200.1l14.44,7.34v14.69l-14.44,7.34l-14.44,-7.34v-14.69zM1245.5,1266.2l14.44,7.34v14.69l-14.44,7.34l-14.44,-7.34v-14.69zM826.9,1376.3l14.44,7.34v14.69l-14.44,7.34l-14.44,-7.34v-14.69z"/>
<path fill="#ed9900" stroke="#ed9900" d="M1029.0,539.2l14.44,7.34v14.69l-14.44,7.34l-14.44,-7.34v-14.69zM956.8,649.3l14.44,7.34v14.69l-14.44,7.34l-14.44,-7.34v-14.69zM1144.5,671.4l14.44,7.34v14.69l-14.44,7.34l-14.44,-7.34v-14.69zM783.6,737.5l14.44,7.34v14.69l-14.44,7.34l-14.44,-7.34v-14.69zM1014.6,737.5l14.44,7.34v14.69l-14.44,7.34l-14.44,-7.34v-14.69zM1115.6,759.5l14.44,7.34v14.69l-14.44,7.34l-14.44,-7.34v-14.69zM812.5,825.6l14.44,7.34v14.69l-14.44,7.34l-14.44,-7.34v-14.69zM1014.6,957.8l14.44,7.34v14.69l-14.44,7.34l-14.44,-7.34v-14.69zM1029.0,979.8l14.44,7.34v14.69l-14.44,7.34l-14.44,-7.34v-14.69zM985.7,1134.0l14.44,7.34v14.69l-14.44,7.34l-14.44,-7.34v-14.69zM1288.8,1200.1l14.44,7.34v14.69l-14.44,7.34l-14.44,-7.34v-14.69zM855.8,1244.1l14.44,7.34v14.69l-14.44,7.34l-14.44,-7.34v-14.69z"/>
<path fill="#ed9a00" stroke="#ed9a00" d="M1433.2,495.1l14.44,7.34v14.69l-14.44,7.34l-14.44,-7.34v-14.69zM928.0,605.3l14.44,7.34v14.69l-14.44,7.34l-14.44,-7.34v-14.69zM855.8,627.3l14.44,7.34v14.69l-14.44,7.34l-14.44,-7.34v-14.69zM725.9,693.4l14.44,7.34v14.69l-14.44,7.34l-14.44,-7.34v-14.69zM1130.0,693.4l14.44,7.34v14.69l-14.44,7.34l-14.44,-7.34v-14.69zM870.2,869.6l14.44,7.34v14.69l-14.44,7.34l-14.44,-7.34v-14.69z"/>
<path fill="#ee9b00" stroke="#ee9b00" d="M870.2,825.6l14.44,7.34v14.69l-14.44,7.34l-14.44,-7.34v-14.69zM899.1,825.6l14.44,7.34v14.69l-14.44,7.34l-14.44,-7.34v-14.69zM1462.1,847.6l14.44,7.34v14.69l-14.44,7.34l-14.44,-7.34v-14.69zM899.1,869.6l14.44,7.34v14.69l-14.44,7.34l-14.44,-7.34v-14.69zM1101.2,1045.9l14.44,7.34v14.69l-14.44,7.34l-14.44,-7.34v-14.69z"/>
<path fill="#ee9c00" stroke="#ee9c00" d="M1173.4,186.7l14.44,7.34v14.69l-14.44,7.34l-14.44,-7.34v-14.69zM1231.1,186.7l14.44,7.34v14.69l-14.44,7.34l-14.44,-7.34v-14.69zM1216.7,208.7l14.44,7.34v14.69l-14.44,7.34l-14.44,-7.34v-14.69zM1274.4,208.7l14.44,7.34v14.69l-14.44,7.34l-14.44,-7.34v-14.69zM1332.1,208.7l14.44,7.34v14.69l-14.44,7.34l-14.44,-7.34v-14.69zM1447.6,208.7l14.44,7.34v14.69l-14.44,7.34l-14.44,-7.34v-14.69zM1288.8,230.8l14.44,7.34v14.69l-14.44,7.34l-14.44,-7.34v-14.69zM1130.0,252.8l14.44,7.34v14.69l-14.44,7.34l-14.44,-7.34v-14.69zM1158.9,252.8l14.44,7.34v14.69l-14.44,7.34l-14.44,-7.34v-14.69zM1418.8,252.8l14.44,7.34v14.69l-14.44,7.34l-14.44,-7.34v-14.69zM1447.6,252.8l14.44,7.34v14.69l-14.44,7.34l-14.44,-7.34v-14.69zM1115.6,274.8l14.44,7.34v14.69l-14.44,7.34l-14.44,-7.34v-14.69zM1202.2,274.8l14.44,7.34v14.69l-14.44,7.34l-14.44,-7.34v-14.69zM1288.8,274.8l14.44,7.34v14.69l-14.44,7.34l-14.44,-7.34v-14.69zM1346.6,274.8l14.44,7.34v14.69l-14.44,7.34l-14.44,-7.34v-14.69zM1274.4,296.9l14.44,7.34v14.69l-14.44,7.34l-14.44,-7.34v-14.69zM1332.1,296.9l14.44,7.34v14.69l-14.44,7.34l-14.44,-7.34v-14.69zM1361.0,296.9l14.44,7.34v14.69l-14.44,7.34l-14.44,-7.34v-14.69zM1447.6,296.9l14.44,7.34v14.69l-14.44,7.34l-14.44,-7.34v-14.69zM1202.2,318.9l14.44,7.34v14.69l-14.44,7.34l-14.44,-7.34v-14.69zM1404.3,318.9l14.44,7.34v14.69l-14.44,7.34l-14.44,-7.34v-14.69zM1519.8,318.9l14.44,7.34v14.69l-14.44,7.34l-14.44,-7.34v-14.69zM1361.0,340.9l14.44,7.34v14.69l-14.44,7.34l-14.44,-7.34v-14.69zM1389.9,340.9l14.44,7.34v14.69l-14.44,7.34l-14.44,-7.34v-14.69zM1418.8,340.9l14.44,7.34v14.69l-14.44,7.34l-14.44,-7.34v-14.69zM1447.6,340.9l14.44,7.34v14.69l-14.44,7.34l-14.44,-7.34v-14.69zM1476.5,340.9l14.44,7.34v14.69l-14.44,7.34l-14.44,-7.34v-14.69zM1346.6,362.9l14.44,7.34v14.69l-14.44,7.34l-14.44,-7.34v-14.69zM1404.3,362.9l14.44,7.34v14.69l-14.44,7.34l-14.44,-7.34v-14.69zM1548.7,362.9l14.44,7.34v14.69l-14.44,7.34l-14.44,-7.34v-14.69zM1043.4,385.0l14.44,7.34v14.69l-14.44,7.34l-14.44,-7.34v-14.69zM1216.7,385.0l14.44,7.34v14.69l-14.44,7.34l-14.44,-7.34v-14.69zM1245.5,385.0l14.44,7.34v14.69l-14.44,7.34l-14.44,-7.34v-14.69zM1505.4,385.0l14.44,7.34v14.69l-14.44,7.34l-14.44,-7.34v-14.69zM884.7,407.0l14.44,7.34v14.69l-14.44,7.34l-14.44,-7.34v-14.69zM913.5,407.0l14.44,7.34v14.69l-14.44,7.34l-14.44,-7.34v-14.69zM971.3,407.0l14.44,7.34v14.69l-14.44,7.34l-14.44,-7.34v-14.69zM1000.1,407.0l14.44,7.34v14.69l-14.44,7.34l-14.44,-7.34v-14.69zM1288.8,407.0l14.44,7.34v14.69l-14.44,7.34l-14.44,-7.34v-14.69zM1404.3,407.0l14.44,7.34v14.69l-14.44,7.34l-14.44,-7.34v-14.69zM1303.3,429.0l14.44,7.34v14.69l-14.44,7.34l-14.44,-7.34v-14.69zM1476.5,429.0l14.44,7.34v14.69l-14.44,7.34l-14.44,-7.34v-14.69zM1534.2,429.0l14.44,7.34v14.69l-14.44,7.34l-14.44,-7.34v-14.69zM1620.8,429.0l14.44,7.34v14.69l-14.44,7.34l-14.44,-7.34v-14.69zM913.5,495.1l14.44,7.34v14.69l-14.44,7.34l-14.44,-7.34v-14.69zM942.4,495.1l14.44,7.34v14.69l-14.44,7.34l-14.44,-7.34v-14.69zM1548.7,495.1l14.44,7.34v14.69l-14.44,7.34l-14.44,-7.34v-14.69zM1635.3,495.1l14.44,7.34v14.69l-14.44,7.34l-14.44,-7.34v-14.69zM1043.4,517.2l14.44,7.34v14.69l-14.44,7.34l-14.44,-7.34v-14.69zM1563.1,517.2l14.44,7.34v14.69l-14.44,7.34l-14.44,-7.34v-14.69zM1635.3,539.2l14.44,7.34v14.69l-14.44,7.34l-14.44,-7.34v-14.69zM1043.4,561.2l14.44,7.34v14.69l-14.44,7.34l-14.44,-7.34v-14.69zM1606.4,583.2l14.44,7.34v14.69l-14.44,7.34l-14.44,-7.34v-14.69zM610.4,605.3l14.44,7.34v14.69l-14.44,7.34l-14.44,-7.34v-14.69zM1649.7,649.3l14.44,7.34v14.69l-14.44,7.34l-14.44,-7.34v-14.69zM1202.2,671.4l14.44,7.34v14.69l-14.44,7.34l-14.44,-7.34v-14.69zM668.1,693.4l14.44,7.34v14.69l-14.44,7.34l-14.44,-7.34v-14.69zM697.0,693.4l14.44,7.34v14.69l-14.44,7.34l-14.44,-7.34v-14.69zM336.1,715.4l14.44,7.34v14.69l-14.44,7.34l-14.44,-7.34v-14.69zM682.6,715.4l14.44,7.34v14.69l-14.44,7.34l-14.44,-7.34v-14.69zM1534.2,737.5l14.44,7.34v14.69l-14.44,7.34l-14.44,-7.34v-14.69zM1519.8,759.5l14.44,7.34v14.69l-14.44,7.34l-14.44,-7.34v-14.69zM841.4,781.5l14.44,7.34v14.69l-14.44,7.34l-14.44,-7.34v-14.69zM956.8,781.5l14.44,7.34v14.69l-14.44,7.34l-14.44,-7.34v-14.69zM1130.0,781.5l14.44,7.34v14.69l-14.44,7.34l-14.44,-7.34v-14.69zM1505.4,781.5l14.44,7.34v14.69l-14.44,7.34l-14.44,-7.34v-14.69zM1534.2,781.5l14.44,7.34v14.69l-14.44,7.34l-14.44,-7.34v-14.69zM1649.7,781.5l14.44,7.34v14.69l-14.44,7.34l-14.44,-7.34v-14.69zM985.7,825.6l14.44,7.34v14.69l-14.44,7.34l-14.44,-7.34v-14.69zM1245.5,825.6l14.44,7.34v14.69l-14.44,7.34l-14.44,-7.34v-14.69zM1707.5,825.6l14.44,7.34v14.69l-14.44,7.34l-14.44,-7.34v-14.69zM249.5,847.6l14.44,7.34v14.69l-14.44,7.34l-14.44,-7.34v-14.69zM1000.1,847.6l14.44,7.34v14.69l-14.44,7.34l-14.44,-7.34v-14.69zM1115.6,847.6l14.44,7.34v14.69l-14.44,7.34l-14.44,-7.34v-14.69zM1606.4,847.6l14.44,7.34v14.69l-14.44,7.34l-14.44,-7.34v-14.69zM1808.5,847.6l14.44,7.34v14.69l-14.44,7.34l-14.44,-7.34v-14.69zM1866.2,891.7l14.44,7.34v14.69l-14.44,7.34l-14.44,-7.34v-14.69zM1895.1,891.7l14.44,7.34v14.69l-14.44,7.34l-14.44,-7.34v-14.69zM321.7,913.7l14.44,7.34v14.69l-14.44,7.34l-14.44,-7.34v-14.69zM1534.2,913.7l14.44,7.34v14.69l-14.44,7.34l-14.44,-7.34v-14.69zM379.4,957.8l14.44,7.34v14.69l-14.44,7.34l-14.44,-7.34v-14.69zM538.2,979.8l14.44,7.34v14.69l-14.44,7.34l-14.44,-7.34v-14.69zM321.7,1001.8l14.44,7.34v14.69l-14.44,7.34l-14.44,-7.34v-14.69zM466.0,1001.8l14.44,7.34v14.69l-14.44,7.34l-14.44,-7.34v-14.69zM307.3,1067.9l14.44,7.34v14.69l-14.44,7.34l-14.44,-7.34v-14.69zM393.9,1067.9l14.44,7.34v14.69l-14.44,7.34l-14.44,-7.34v-14.69zM682.6,1067.9l14.44,7.34v14.69l-14.44,7.34l-14.44,-7.34v-14.69zM278.4,1156.0l14.44,7.34v14.69l-14.44,7.34l-14.44,-7.34v-14.69zM365.0,1156.0l14.44,7.34v14.69l-14.44,7.34l-14.44,-7.34v-14.69zM682.6,1156.0l14.44,7.34v14.69l-14.44,7.34l-14.44,-7.34v-14.69zM581.5,1178.1l14.44,7.34v14.69l-14.44,7.34l-14.44,-7.34v-14.69zM480.5,1200.1l14.44,7.34v14.69l-14.44,7.34l-14.44,-7.34v-14.69zM596.0,1200.1l14.44,7.34v14.69l-14.44,7.34l-14.44,-7.34v-14.69zM567.1,1244.1l14.44,7.34v14.69l-14.44,7.34l-14.44,-7.34v-14.69zM523.8,1354.3l14.44,7.34v14.69l-14.44,7.34l-14.44,-7.34v-14.69zM754.7,1398.4l14.44,7.34v14.69l-14.44,7.34l-14.44,-7.34v-14.69zM783.6,1398.4l14.44,7.34v14.69l-14.44,7.34l-14.44,-7.34v-14.69zM985.7,1398.4l14.44,7.34v14.69l-14.44,7.34l-14.44,-7.34v-14.69zM1187.8,1398.4l14.44,7.34v14.69l-14.44,7.34l-14.44,-7.34v-14.69zM653.7,1420.4l14.44,7.34v14.69l-14.44,7.34l-14.44,-7.34v-14.69zM740.3,1420.4l14.44,7.34v14.69l-14.44,7.34l-14.44,-7.34v-14.69zM769.2,1420.4l14.44,7.34v14.69l-14.44,7.34l-14.44,-7.34v-14.69zM826.9,1420.4l14.44,7.34v14.69l-14.44,7.34l-14.44,-7.34v-14.69zM668.1,1442.4l14.44,7.34v14.69l-14.44,7.34l-14.44,-7.34v-14.69zM1245.5,1442.4l14.44,7.34v14.69l-14.44,7.34l-14.44,-7.34v-14.69zM711.4,1464.4l14.44,7.34v14.69l-14.44,7.34l-14.44,-7.34v-14.69zM942.4,1464.4l14.44,7.34v14.69l-14.44,7.34l-14.44,-7.34v-14.69zM1346.6,1464.4l14.44,7.34v14.69l-14.44,7.34l-14.44,-7.34v-14.69zM1014.6,1486.5l14.44,7.34v14.69l-14.44,7.34l-14.44,-7.34v-14.69zM1187.8,1486.5l14.44,7.34v14.69l-14.44,7.34l-14.44,-7.34v-14.69zM942.4,1508.5l14.44,7.34v14.69l-14.44,7.34l-14.44,-7.34v-14.69zM725.9,1530.5l14.44,7.34v14.69l-14.44,7.34l-14.44,-7.34v-14.69zM928.0,1530.5l14.44,7.34v14.69l-14.44,7.34l-14.44,-7.34v-14.69zM1274.4,1530.5l14.44,7.34v14.69l-14.44,7.34l-14.44,-7.34v-14.69zM855.8,1552.6l14.44,7.34v14.69l-14.44,7.34l-14.44,-7.34v-14.69zM1231.1,1552.6l14.44,7.34v14.69l-14.44,7.34l-14.44,-7.34v-14.69zM754.7,1574.6l14.44,7.34v14.69l-14.44,7.34l-14.44,-7.34v-14.69zM812.5,1574.6l14.44,7.34v14.69l-14.44,7.34l-14.44,-7.34v-14.69zM1447.6,1574.6l14.44,7.34v14.69l-14.44,7.34l-14.44,-7.34v-14.69zM1534.2,1574.6l14.44,7.34v14.69l-14.44,7.34l-14.44,-7.34v-14.69zM1260.0,1596.6l14.44,7.34v14.69l-14.44,7.34l-14.44,-7.34v-14.69zM1288.8,1596.6l14.44,7.34v14.69l-14.44,7.34l-14.44,-7.34v-14.69zM1346.6,1596.6l14.44,7.34v14.69l-14.44,7.34l-14.44,-7.34v-14.69zM783.6,1618.7l14.44,7.34v14.69l-14.44,7.34l-14.44,-7.34v-14.69zM956.8,1618.7l14.44,7.34v14.69l-14.44,7.34l-14.44,-7.34v-14.69zM1086.7,1640.7l14.44,7.34v14.69l-14.44,7.34l-14.44,-7.34v-14.69zM783.6,1662.7l14.44,7.34v14.69l-14.44,7.34l-14.44,-7.34v-14.69zM870.2,1662.7l14.44,7.34v14.69l-14.44,7.34l-14.44,-7.34v-14.69zM1072.3,1662.7l14.44,7.34v14.69l-14.44,7.34l-14.44,-7.34v-14.69zM884.7,1684.7l14.44,7.34v14.69l-14.44,7.34l-14.44,-7.34v-14.69zM870.2,1706.8l14.44,7.34v14.69l-14.44,7.34l-14.44,-7.34v-14.69zM928.0,1706.8l14.44,7.34v14.69l-14.44,7.34l-14.44,-7.34v-14.69z"/>
<path fill="#ee9d00" stroke="#ee9d00" d="M1144.5,583.2l14.44,7.34v14.69l-14.44,7.34l-14.44,-7.34v-14.69zM1231.1,583.2l14.44,7.34v14.69l-14.44,7.34l-14.44,-7.34v-14.69zM870.2,605.3l14.44,7.34v14.69l-14.44,7.34l-14.44,-7.34v-14.69zM1245.5,605.3l14.44,7.34v14.69l-14.44,7.34l-14.44,-7.34v-14.69zM798.0,627.3l14.44,7.34v14.69l-14.44,7.34l-14.44,-7.34v-14.69zM1144.5,627.3l14.44,7.34v14.69l-14.44,7.34l-14.44,-7.34v-14.69zM985.7,693.4l14.44,7.34v14.69l-14.44,7.34l-14.44,-7.34v-14.69zM928.0,737.5l14.44,7.34v14.69l-14.44,7.34l-14.44,-7.34v-14.69zM1043.4,737.5l14.44,7.34v14.69l-14.44,7.34l-14.44,-7.34v-14.69zM1072.3,737.5l14.44,7.34v14.69l-14.44,7.34l-14.44,-7.34v-14.69zM826.9,759.5l14.44,7.34v14.69l-14.44,7.34l-14.44,-7.34v-14.69zM783.6,781.5l14.44,7.34v14.69l-14.44,7.34l-14.44,-7.34v-14.69zM1216.7,781.5l14.44,7.34v14.69l-14.44,7.34l-14.44,-7.34v-14.69zM754.7,825.6l14.44,7.34v14.69l-14.44,7.34l-14.44,-7.34v-14.69zM870.2,913.7l14.44,7.34v14.69l-14.44,7.34l-14.44,-7.34v-14.69zM1158.9,913.7l14.44,7.34v14.69l-14.44,7.34l-14.44,-7.34v-14.69zM769.2,935.7l14.44,7.34v14.69l-14.44,7.34l-14.44,-7.34v-14.69zM1187.8,1045.9l14.44,7.34v14.69l-14.44,7.34l-14.44,-7.34v-14.69zM1231.1,1332.3l14.44,7.34v14.69l-14.44,7.34l-14.44,-7.34v-14.69z"/>
<path fill="#ee9e00" stroke="#ee9e00" d="M956.8,517.2l14.44,7.34v14.69l-14.44,7.34l-14.44,-7.34v-14.69zM899.1,693.4l14.44,7.34v14.69l-14.44,7.34l-14.44,-7.34v-14.69zM812.5,781.5l14.44,7.34v14.69l-14.44,7.34l-14.44,-7.34v-14.69zM1043.4,825.6l14.44,7.34v14.69l-14.44,7.34l-14.44,-7.34v-14.69z"/>
<path fill="#ef9e00" stroke="#ef9e00" d="M1476.5,517.2l14.44,7.34v14.69l-14.44,7.34l-14.44,-7.34v-14.69zM1101.2,561.2l14.44,7.34v14.69l-14.44,7.34l-14.44,-7.34v-14.69zM1346.6,627.3l14.44,7.34v14.69l-14.44,7.34l-14.44,-7.34v-14.69zM870.2,693.4l14.44,7.34v14.69l-14.44,7.34l-14.44,-7.34v-14.69zM1361.0,737.5l14.44,7.34v14.69l-14.44,7.34l-14.44,-7.34v-14.69zM1202.2,891.7l14.44,7.34v14.69l-14.44,7.34l-14.44,-7.34v-14.69zM1245.5,913.7l14.44,7.34v14.69l-14.44,7.34l-14.44,-7.34v-14.69z"/>
<path fill="#ef9f00" stroke="#ef9f00" d="M1260.0,451.1l14.44,7.34v14.69l-14.44,7.34l-14.44,-7.34v-14.69zM1014.6,473.1l14.44,7.34v14.69l-14.44,7.34l-14.44,-7.34v-14.69zM1447.6,473.1l14.44,7.34v14.69l-14.44,7.34l-14.44,-7.34v-14.69zM899.1,561.2l14.44,7.34v14.69l-14.44,7.34l-14.44,-7.34v-14.69zM1158.9,605.3l14.44,7.34v14.69l-14.44,7.34l-14.44,-7.34v-14.69zM783.6,649.3l14.44,7.34v14.69l-14.44,7.34l-14.44,-7.34v-14.69zM899.1,649.3l14.44,7.34v14.69l-14.44,7.34l-14.44,-7.34v-14.69zM928.0,649.3l14.44,7.34v14.69l-14.44,7.34l-14.44,-7.34v-14.69zM1043.4,693.4l14.44,7.34v14.69l-14.44,7.34l-14.44,-7.34v-14.69zM1000.1,715.4l14.44,7.34v14.69l-14.44,7.34l-14.44,-7.34v-14.69zM985.7,737.5l14.44,7.34v14.69l-14.44,7.34l-14.44,-7.34v-14.69zM1245.5,737.5l14.44,7.34v14.69l-14.44,7.34l-14.44,-7.34v-14.69zM1231.1,759.5l14.44,7.34v14.69l-14.44,7.34l-14.44,-7.34v-14.69zM855.8,847.6l14.44,7.34v14.69l-14.44,7.34l-14.44,-7.34v-14.69zM1086.7,847.6l14.44,7.34v14.69l-14.44,7.34l-14.44,-7.34v-14.69zM769.2,891.7l14.44,7.34v14.69l-14.44,7.34l-14.44,-7.34v-14.69zM870.2,1001.8l14.44,7.34v14.69l-14.44,7.34l-14.44,-7.34v-14.69zM1057.9,1023.8l14.44,7.34v14.69l-14.44,7.34l-14.44,-7.34v-14.69z"/>
<path fill="#efa000" stroke="#efa000" d="M928.0,429.0l14.44,7.34v14.69l-14.44,7.34l-14.44,-7.34v-14.69zM899.1,517.2l14.44,7.34v14.69l-14.44,7.34l-14.44,-7.34v-14.69zM1144.5,539.2l14.44,7.34v14.69l-14.44,7.34l-14.44,-7.34v-14.69zM841.4,561.2l14.44,7.34v14.69l-14.44,7.34l-14.44,-7.34v-14.69zM985.7,561.2l14.44,7.34v14.69l-14.44,7.34l-14.44,-7.34v-14.69zM826.9,583.2l14.44,7.34v14.69l-14.44,7.34l-14.44,-7.34v-14.69zM1202.2,583.2l14.44,7.34v14.69l-14.44,7.34l-14.44,-7.34v-14.69zM826.9,671.4l14.44,7.34v14.69l-14.44,7.34l-14.44,-7.34v-14.69zM971.3,671.4l14.44,7.34v14.69l-14.44,7.34l-14.44,-7.34v-14.69zM855.8,715.4l14.44,7.34v14.69l-14.44,7.34l-14.44,-7.34v-14.69zM1202.2,715.4l14.44,7.34v14.69l-14.44,7.34l-14.44,-7.34v-14.69zM1173.4,803.5l14.44,7.34v14.69l-14.44,7.34l-14.44,-7.34v-14.69zM1130.0,825.6l14.44,7.34v14.69l-14.44,7.34l-14.44,-7.34v-14.69zM913.5,935.7l14.44,7.34v14.69l-14.44,7.34l-14.44,-7.34v-14.69zM928.0,957.8l14.44,7.34v14.69l-14.44,7.34l-14.44,-7.34v-14.69zM1231.1,979.8l14.44,7.34v14.69l-14.44,7.34l-14.44,-7.34v-14.69zM1043.4,1178.1l14.44,7.34v14.69l-14.44,7.34l-14.44,-7.34v-14.69z"/>
<path fill="#efa100" stroke="#efa100" d="M1000.1,451.1l14.44,7.34v14.69l-14.44,7.34l-14.44,-7.34v-14.69zM1418.8,473.1l14.44,7.34v14.69l-14.44,7.34l-14.44,-7.34v-14.69zM1389.9,561.2l14.44,7.34v14.69l-14.44,7.34l-14.44,-7.34v-14.69zM913.5,627.3l14.44,7.34v14.69l-14.44,7.34l-14.44,-7.34v-14.69zM1158.9,737.5l14.44,7.34v14.69l-14.44,7.34l-14.44,-7.34v-14.69zM1303.3,737.5l14.44,7.34v14.69l-14.44,7.34l-14.44,-7.34v-14.69zM1332.1,737.5l14.44,7.34v14.69l-14.44,7.34l-14.44,-7.34v-14.69zM1057.9,759.5l14.44,7.34v14.69l-14.44,7.34l-14.44,-7.34v-14.69zM928.0,913.7l14.44,7.34v14.69l-14.44,7.34l-14.44,-7.34v-14.69zM1187.8,913.7l14.44,7.34v14.69l-14.44,7.34l-14.44,-7.34v-14.69z"/>
<path fill="#f0a100" stroke="#f0a100" d="M1130.0,517.2l14.44,7.34v14.69l-14.44,7.34l-14.44,-7.34v-14.69zM1418.8,517.2l14.44,7.34v14.69l-14.44,7.34l-14.44,-7.34v-14.69zM1043.4,1045.9l14.44,7.34v14.69l-14.44,7.34l-14.44,-7.34v-14.69z"/>
<path fill="#f0a200" stroke="#f0a200" d="M1029.0,407.0l14.44,7.34v14.69l-14.44,7.34l-14.44,-7.34v-14.69zM1086.7,451.1l14.44,7.34v14.69l-14.44,7.34l-14.44,-7.34v-14.69zM1389.9,517.2l14.44,7.34v14.69l-14.44,7.34l-14.44,-7.34v-14.69zM1072.3,561.2l14.44,7.34v14.69l-14.44,7.34l-14.44,-7.34v-14.69zM1375.4,583.2l14.44,7.34v14.69l-14.44,7.34l-14.44,-7.34v-14.69zM1130.0,649.3l14.44,7.34v14.69l-14.44,7.34l-14.44,-7.34v-14.69zM1187.8,649.3l14.44,7.34v14.69l-14.44,7.34l-14.44,-7.34v-14.69zM1260.0,671.4l14.44,7.34v14.69l-14.44,7.34l-14.44,-7.34v-14.69zM956.8,693.4l14.44,7.34v14.69l-14.44,7.34l-14.44,-7.34v-14.69zM1260.0,803.5l14.44,7.34v14.69l-14.44,7.34l-14.44,-7.34v-14.69zM1375.4,847.6l14.44,7.34v14.69l-14.44,7.34l-14.44,-7.34v-14.69zM841.4,957.8l14.44,7.34v14.69l-14.44,7.34l-14.44,-7.34v-14.69zM812.5,1001.8l14.44,7.34v14.69l-14.44,7.34l-14.44,-7.34v-14.69zM1260.0,1023.8l14.44,7.34v14.69l-14.44,7.34l-14.44,-7.34v-14.69zM870.2,1045.9l14.44,7.34v14.69l-14.44,7.34l-14.44,-7.34v-14.69zM928.0,1045.9l14.44,7.34v14.69l-14.44,7.34l-14.44,-7.34v-14.69zM985.7,1045.9l14.44,7.34v14.69l-14.44,7.34l-14.44,-7.34v-14.69zM1057.9,1112.0l14.44,7.34v14.69l-14.44,7.34l-14.44,-7.34v-14.69z"/>
<path fill="#f0a300" stroke="#f0a300" d="M1043.4,473.1l14.44,7.34v14.69l-14.44,7.34l-14.44,-7.34v-14.69zM841.4,517.2l14.44,7.34v14.69l-14.44,7.34l-14.44,-7.34v-14.69zM971.3,539.2l14.44,7.34v14.69l-14.44,7.34l-14.44,-7.34v-14.69zM1216.7,605.3l14.44,7.34v14.69l-14.44,7.34l-14.44,-7.34v-14.69zM740.3,671.4l14.44,7.34v14.69l-14.44,7.34l-14.44,-7.34v-14.69zM798.0,671.4l14.44,7.34v14.69l-14.44,7.34l-14.44,-7.34v-14.69zM1144.5,715.4l14.44,7.34v14.69l-14.44,7.34l-14.44,-7.34v-14.69zM1043.4,781.5l14.44,7.34v14.69l-14.44,7.34l-14.44,-7.34v-14.69zM1332.1,781.5l14.44,7.34v14.69l-14.44,7.34l-14.44,-7.34v-14.69zM1115.6,803.5l14.44,7.34v14.69l-14.44,7.34l-14.44,-7.34v-14.69zM1288.8,803.5l14.44,7.34v14.69l-14.44,7.34l-14.44,-7.34v-14.69zM826.9,847.6l14.44,7.34v14.69l-14.44,7.34l-14.44,-7.34v-14.69zM884.7,847.6l14.44,7.34v14.69l-14.44,7.34l-14.44,-7.34v-14.69zM1490.9,847.6l14.44,7.34v14.69l-14.44,7.34l-14.44,-7.34v-14.69zM1130.0,869.6l14.44,7.34v14.69l-14.44,7.34l-14.44,-7.34v-14.69zM1260.0,891.7l14.44,7.34v14.69l-14.44,7.34l-14.44,-7.34v-14.69zM1404.3,979.8l14.44,7.34v14.69l-14.44,7.34l-14.44,-7.34v-14.69zM826.9,1023.8l14.44,7.34v14.69l-14.44,7.34l-14.44,-7.34v-14.69zM942.4,1288.2l14.44,7.34v14.69l-14.44,7.34l-14.44,-7.34v-14.69zM1389.9,1354.3l14.44,7.34v14.69l-14.44,7.34l-14.44,-7.34v-14.69z"/>
<path fill="#f0a400" stroke="#f0a400" d="M1187.8,473.1l14.44,7.34v14.69l-14.44,7.34l-14.44,-7.34v-14.69zM1361.0,473.1l14.44,7.34v14.69l-14.44,7.34l-14.44,-7.34v-14.69zM1173.4,495.1l14.44,7.34v14.69l-14.44,7.34l-14.44,-7.34v-14.69zM1014.6,561.2l14.44,7.34v14.69l-14.44,7.34l-14.44,-7.34v-14.69zM1332.1,605.3l14.44,7.34v14.69l-14.44,7.34l-14.44,-7.34v-14.69zM971.3,627.3l14.44,7.34v14.69l-14.44,7.34l-14.44,-7.34v-14.69zM1000.1,671.4l14.44,7.34v14.69l-14.44,7.34l-14.44,-7.34v-14.69zM1346.6,759.5l14.44,7.34v14.69l-14.44,7.34l-14.44,-7.34v-14.69zM1418.8,781.5l14.44,7.34v14.69l-14.44,7.34l-14.44,-7.34v-14.69zM1317.7,803.5l14.44,7.34v14.69l-14.44,7.34l-14.44,-7.34v-14.69zM798.0,935.7l14.44,7.34v14.69l-14.44,7.34l-14.44,-7.34v-14.69zM1260.0,1200.1l14.44,7.34v14.69l-14.44,7.34l-14.44,-7.34v-14.69z"/>
<path fill="#f0a500" stroke="#f0a500" d="M1361.0,561.2l14.44,7.34v14.69l-14.44,7.34l-14.44,-7.34v-14.69zM1418.8,605.3l14.44,7.34v14.69l-14.44,7.34l-14.44,-7.34v-14.69zM928.0,825.6l14.44,7.34v14.69l-14.44,7.34l-14.44,-7.34v-14.69zM956.8,1001.8l14.44,7.34v14.69l-14.44,7.34l-14.44,-7.34v-14.69z"/>
<path fill="#f1a500" stroke="#f1a500" d="M985.7,473.1l14.44,7.34v14.69l-14.44,7.34l-14.44,-7.34v-14.69zM913.5,583.2l14.44,7.34v14.69l-14.44,7.34l-14.44,-7.34v-14.69zM1260.0,583.2l14.44,7.34v14.69l-14.44,7.34l-14.44,-7.34v-14.69zM1130.0,605.3l14.44,7.34v14.69l-14.44,7.34l-14.44,-7.34v-14.69zM1519.8,627.3l14.44,7.34v14.69l-14.44,7.34l-14.44,-7.34v-14.69zM1029.0,671.4l14.44,7.34v14.69l-14.44,7.34l-14.44,-7.34v-14.69zM798.0,715.4l14.44,7.34v14.69l-14.44,7.34l-14.44,-7.34v-14.69zM1115.6,935.7l14.44,7.34v14.69l-14.44,7.34l-14.44,-7.34v-14.69zM1072.3,957.8l14.44,7.34v14.69l-14.44,7.34l-14.44,-7.34v-14.69zM1158.9,957.8l14.44,7.34v14.69l-14.44,7.34l-14.44,-7.34v-14.69zM1014.6,1310.2l14.44,7.34v14.69l-14.44,7.34l-14.44,-7.34v-14.69zM1216.7,1354.3l14.44,7.34v14.69l-14.44,7.34l-14.44,-7.34v-14.69z"/>
<path fill="#f1a600" stroke="#f1a600" d="M1000.1,583.2l14.44,7.34v14.69l-14.44,7.34l-14.44,-7.34v-14.69zM1086.7,583.2l14.44,7.34v14.69l-14.44,7.34l-14.44,-7.34v-14.69zM1389.9,605.3l14.44,7.34v14.69l-14.44,7.34l-14.44,-7.34v-14.69zM1260.0,715.4l14.44,7.34v14.69l-14.44,7.34l-14.44,-7.34v-14.69zM798.0,759.5l14.44,7.34v14.69l-14.44,7.34l-14.44,-7.34v-14.69zM769.2,803.5l14.44,7.34v14.69l-14.44,7.34l-14.44,-7.34v-14.69zM956.8,869.6l14.44,7.34v14.69l-14.44,7.34l-14.44,-7.34v-14.69zM1216.7,869.6l14.44,7.34v14.69l-14.44,7.34l-14.44,-7.34v-14.69zM826.9,891.7l14.44,7.34v14.69l-14.44,7.34l-14.44,-7.34v-14.69zM1476.5,913.7l14.44,7.34v14.69l-14.44,7.34l-14.44,-7.34v-14.69zM1086.7,935.7l14.44,7.34v14.69l-14.44,7.34l-14.44,-7.34v-14.69zM1086.7,1023.8l14.44,7.34v14.69l-14.44,7.34l-14.44,-7.34v-14.69zM754.7,1310.2l14.44,7.34v14.69l-14.44,7.34l-14.44,-7.34v-14.69zM1274.4,1354.3l14.44,7.34v14.69l-14.44,7.34l-14.44,-7.34v-14.69z"/>
<path fill="#f1a700" stroke="#f1a700" d="M1158.9,340.9l14.44,7.34v14.69l-14.44,7.34l-14.44,-7.34v-14.69zM1260.0,495.1l14.44,7.34v14.69l-14.44,7.34l-14.44,-7.34v-14.69zM1014.6,517.2l14.44,7.34v14.69l-14.44,7.34l-14.44,-7.34v-14.69zM985.7,649.3l14.44,7.34v14.69l-14.44,7.34l-14.44,-7.34v-14.69zM812.5,737.5l14.44,7.34v14.69l-14.44,7.34l-14.44,-7.34v-14.69zM1158.9,781.5l14.44,7.34v14.69l-14.44,7.34l-14.44,-7.34v-14.69zM985.7,913.7l14.44,7.34v14.69l-14.44,7.34l-14.44,-7.34v-14.69zM1144.5,1023.8l14.44,7.34v14.69l-14.44,7.34l-14.44,-7.34v-14.69zM884.7,1288.2l14.44,7.34v14.69l-14.44,7.34l-14.44,-7.34v-14.69zM711.4,1376.3l14.44,7.34v14.69l-14.44,7.34l-14.44,-7.34v-14.69z"/>
<path fill="#f1a800" stroke="#f1a800" d="M1332.1,517.2l14.44,7.34v14.69l-14.44,7.34l-14.44,-7.34v-14.69zM1447.6,517.2l14.44,7.34v14.69l-14.44,7.34l-14.44,-7.34v-14.69zM1288.8,539.2l14.44,7.34v14.69l-14.44,7.34l-14.44,-7.34v-14.69zM870.2,561.2l14.44,7.34v14.69l-14.44,7.34l-14.44,-7.34v-14.69zM1476.5,561.2l14.44,7.34v14.69l-14.44,7.34l-14.44,-7.34v-14.69zM1288.8,627.3l14.44,7.34v14.69l-14.44,7.34l-14.44,-7.34v-14.69zM1158.9,649.3l14.44,7.34v14.69l-14.44,7.34l-14.44,-7.34v-14.69zM1490.9,671.4l14.44,7.34v14.69l-14.44,7.34l-14.44,-7.34v-14.69zM1072.3,693.4l14.44,7.34v14.69l-14.44,7.34l-14.44,-7.34v-14.69zM1433.2,759.5l14.44,7.34v14.69l-14.44,7.34l-14.44,-7.34v-14.69zM1158.9,825.6l14.44,7.34v14.69l-14.44,7.34l-14.44,-7.34v-14.69zM1260.0,847.6l14.44,7.34v14.69l-14.44,7.34l-14.44,-7.34v-14.69zM783.6,869.6l14.44,7.34v14.69l-14.44,7.34l-14.44,-7.34v-14.69zM1029.0,935.7l14.44,7.34v14.69l-14.44,7.34l-14.44,-7.34v-14.69zM971.3,979.8l14.44,7.34v14.69l-14.44,7.34l-14.44,-7.34v-14.69zM1000.1,1023.8l14.44,7.34v14.69l-14.44,7.34l-14.44,-7.34v-14.69zM1404.3,1244.1l14.44,7.34v14.69l-14.44,7.34l-14.44,-7.34v-14.69z"/>
<path fill="#f2a800" stroke="#f2a800" d="M1115.6,583.2l14.44,7.34v14.69l-14.44,7.34l-14.44,-7.34v-14.69zM725.9,737.5l14.44,7.34v14.69l-14.44,7.34l-14.44,-7.34v-14.69zM1260.0,759.5l14.44,7.34v14.69l-14.44,7.34l-14.44,-7.34v-14.69z"/>
<path fill="#f2a900" stroke="#f2a900" d="M1144.5,451.1l14.44,7.34v14.69l-14.44,7.34l-14.44,-7.34v-14.69zM769.2,671.4l14.44,7.34v14.69l-14.44,7.34l-14.44,-7.34v-14.69zM769.2,715.4l14.44,7.34v14.69l-14.44,7.34l-14.44,-7.34v-14.69zM1231.1,715.4l14.44,7.34v14.69l-14.44,7.34l-14.44,-7.34v-14.69zM1447.6,737.5l14.44,7.34v14.69l-14.44,7.34l-14.44,-7.34v-14.69zM1404.3,847.6l14.44,7.34v14.69l-14.44,7.34l-14.44,-7.34v-14.69zM855.8,891.7l14.44,7.34v14.69l-14.44,7.34l-14.44,-7.34v-14.69zM1144.5,891.7l14.44,7.34v14.69l-14.44,7.34l-14.44,-7.34v-14.69zM1144.5,935.7l14.44,7.34v14.69l-14.44,7.34l-14.44,-7.34v-14.69zM1144.5,979.8l14.44,7.34v14.69l-14.44,7.34l-14.44,-7.34v-14.69zM1202.2,979.8l14.44,7.34v14.69l-14.44,7.34l-14.44,-7.34v-14.69zM1476.5,1001.8l14.44,7.34v14.69l-14.44,7.34l-14.44,-7.34v-14.69zM1086.7,1067.9l14.44,7.34v14.69l-14.44,7.34l-14.44,-7.34v-14.69z"/>
<path fill="#f2aa00" stroke="#f2aa00" d="M1072.3,385.0l14.44,7.34v14.69l-14.44,7.34l-14.44,-7.34v-14.69zM1057.9,583.2l14.44,7.34v14.69l-14.44,7.34l-14.44,-7.34v-14.69zM812.5,605.3l14.44,7.34v14.69l-14.44,7.34l-14.44,-7.34v-14.69zM956.8,605.3l14.44,7.34v14.69l-14.44,7.34l-14.44,-7.34v-14.69zM725.9,649.3l14.44,7.34v14.69l-14.44,7.34l-14.44,-7.34v-14.69zM1447.6,649.3l14.44,7.34v14.69l-14.44,7.34l-14.44,-7.34v-14.69zM884.7,671.4l14.44,7.34v14.69l-14.44,7.34l-14.44,-7.34v-14.69zM1158.9,693.4l14.44,7.34v14.69l-14.44,7.34l-14.44,-7.34v-14.69zM1375.4,715.4l14.44,7.34v14.69l-14.44,7.34l-14.44,-7.34v-14.69zM769.2,759.5l14.44,7.34v14.69l-14.44,7.34l-14.44,-7.34v-14.69zM1303.3,781.5l14.44,7.34v14.69l-14.44,7.34l-14.44,-7.34v-14.69zM1404.3,803.5l14.44,7.34v14.69l-14.44,7.34l-14.44,-7.34v-14.69zM1144.5,847.6l14.44,7.34v14.69l-14.44,7.34l-14.44,-7.34v-14.69zM826.9,935.7l14.44,7.34v14.69l-14.44,7.34l-14.44,-7.34v-14.69zM884.7,935.7l14.44,7.34v14.69l-14.44,7.34l-14.44,-7.34v-14.69zM1260.0,935.7l14.44,7.34v14.69l-14.44,7.34l-14.44,-7.34v-14.69zM1288.8,935.7l14.44,7.34v14.69l-14.44,7.34l-14.44,-7.34v-14.69zM985.7,957.8l14.44,7.34v14.69l-14.44,7.34l-14.44,-7.34v-14.69zM826.9,979.8l14.44,7.34v14.69l-14.44,7.34l-14.44,-7.34v-14.69zM884.7,1200.1l14.44,7.34v14.69l-14.44,7.34l-14.44,-7.34v-14.69z"/>
<path fill="#f2ab00" stroke="#f2ab00" d="M1115.6,362.9l14.44,7.34v14.69l-14.44,7.34l-14.44,-7.34v-14.69zM1115.6,451.1l14.44,7.34v14.69l-14.44,7.34l-14.44,-7.34v-14.69zM1317.7,495.1l14.44,7.34v14.69l-14.44,7.34l-14.44,-7.34v-14.69zM1101.2,517.2l14.44,7.34v14.69l-14.44,7.34l-14.44,-7.34v-14.69zM1274.4,561.2l14.44,7.34v14.69l-14.44,7.34l-14.44,-7.34v-14.69zM985.7,605.3l14.44,7.34v14.69l-14.44,7.34l-14.44,-7.34v-14.69zM1086.7,627.3l14.44,7.34v14.69l-14.44,7.34l-14.44,-7.34v-14.69zM1317.7,627.3l14.44,7.34v14.69l-14.44,7.34l-14.44,-7.34v-14.69zM1216.7,649.3l14.44,7.34v14.69l-14.44,7.34l-14.44,-7.34v-14.69zM1433.2,715.4l14.44,7.34v14.69l-14.44,7.34l-14.44,-7.34v-14.69zM1245.5,781.5l14.44,7.34v14.69l-14.44,7.34l-14.44,-7.34v-14.69zM942.4,891.7l14.44,7.34v14.69l-14.44,7.34l-14.44,-7.34v-14.69zM1029.0,891.7l14.44,7.34v14.69l-14.44,7.34l-14.44,-7.34v-14.69zM928.0,1001.8l14.44,7.34v14.69l-14.44,7.34l-14.44,-7.34v-14.69zM754.7,1354.3l14.44,7.34v14.69l-14.44,7.34l-14.44,-7.34v-14.69z"/>
<path fill="#f2ac00" stroke="#f2ac00" d="M1072.3,429.0l14.44,7.34v14.69l-14.44,7.34l-14.44,-7.34v-14.69zM1332.1,473.1l14.44,7.34v14.69l-14.44,7.34l-14.44,-7.34v-14.69zM1057.9,539.2l14.44,7.34v14.69l-14.44,7.34l-14.44,-7.34v-14.69zM1447.6,561.2l14.44,7.34v14.69l-14.44,7.34l-14.44,-7.34v-14.69zM1173.4,583.2l14.44,7.34v14.69l-14.44,7.34l-14.44,-7.34v-14.69zM1462.1,583.2l14.44,7.34v14.69l-14.44,7.34l-14.44,-7.34v-14.69zM1101.2,649.3l14.44,7.34v14.69l-14.44,7.34l-14.44,-7.34v-14.69zM1317.7,671.4l14.44,7.34v14.69l-14.44,7.34l-14.44,-7.34v-14.69zM1029.0,715.4l14.44,7.34v14.69l-14.44,7.34l-14.44,-7.34v-14.69zM1144.5,759.5l14.44,7.34v14.69l-14.44,7.34l-14.44,-7.34v-14.69zM1317.7,759.5l14.44,7.34v14.69l-14.44,7.34l-14.44,-7.34v-14.69zM740.3,847.6l14.44,7.34v14.69l-14.44,7.34l-14.44,-7.34v-14.69zM1346.6,847.6l14.44,7.34v14.69l-14.44,7.34l-14.44,-7.34v-14.69zM971.3,891.7l14.44,7.34v14.69l-14.44,7.34l-14.44,-7.34v-14.69zM1000.1,935.7l14.44,7.34v14.69l-14.44,7.34l-14.44,-7.34v-14.69zM725.9,957.8l14.44,7.34v14.69l-14.44,7.34l-14.44,-7.34v-14.69zM1447.6,1001.8l14.44,7.34v14.69l-14.44,7.34l-14.44,-7.34v-14.69zM1245.5,1045.9l14.44,7.34v14.69l-14.44,7.34l-14.44,-7.34v-14.69zM1057.9,1067.9l14.44,7.34v14.69l-14.44,7.34l-14.44,-7.34v-14.69zM1361.0,1089.9l14.44,7.34v14.69l-14.44,7.34l-14.44,-7.34v-14.69zM1014.6,1266.2l14.44,7.34v14.69l-14.44,7.34l-14.44,-7.34v-14.69zM1288.8,1332.3l14.44,7.34v14.69l-14.44,7.34l-14.44,-7.34v-14.69z"/>
<path fill="#f2ad00" stroke="#f2ad00" d="M971.3,451.1l14.44,7.34v14.69l-14.44,7.34l-14.44,-7.34v-14.69zM1404.3,627.3l14.44,7.34v14.69l-14.44,7.34l-14.44,-7.34v-14.69zM1534.2,649.3l14.44,7.34v14.69l-14.44,7.34l-14.44,-7.34v-14.69zM740.3,935.7l14.44,7.34v14.69l-14.44,7.34l-14.44,-7.34v-14.69zM1072.3,1045.9l14.44,7.34v14.69l-14.44,7.34l-14.44,-7.34v-14.69z"/>
<path fill="#f3ad00" stroke="#f3ad00" d="M1101.2,385.0l14.44,7.34v14.69l-14.44,7.34l-14.44,-7.34v-14.69zM1158.9,473.1l14.44,7.34v14.69l-14.44,7.34l-14.44,-7.34v-14.69zM1245.5,649.3l14.44,7.34v14.69l-14.44,7.34l-14.44,-7.34v-14.69zM985.7,869.6l14.44,7.34v14.69l-14.44,7.34l-14.44,-7.34v-14.69zM1115.6,891.7l14.44,7.34v14.69l-14.44,7.34l-14.44,-7.34v-14.69zM1115.6,1067.9l14.44,7.34v14.69l-14.44,7.34l-14.44,-7.34v-14.69zM1346.6,1156.0l14.44,7.34v14.69l-14.44,7.34l-14.44,-7.34v-14.69zM740.3,1332.3l14.44,7.34v14.69l-14.44,7.34l-14.44,-7.34v-14.69zM1389.9,1398.4l14.44,7.34v14.69l-14.44,7.34l-14.44,-7.34v-14.69z"/>
<path fill="#f3ae00" stroke="#f3ae00" d="M1130.0,385.0l14.44,7.34v14.69l-14.44,7.34l-14.44,-7.34v-14.69zM1303.3,473.1l14.44,7.34v14.69l-14.44,7.34l-14.44,-7.34v-14.69zM985.7,517.2l14.44,7.34v14.69l-14.44,7.34l-14.44,-7.34v-14.69zM1187.8,517.2l14.44,7.34v14.69l-14.44,7.34l-14.44,-7.34v-14.69zM1187.8,561.2l14.44,7.34v14.69l-14.44,7.34l-14.44,-7.34v-14.69zM1216.7,561.2l14.44,7.34v14.69l-14.44,7.34l-14.44,-7.34v-14.69zM1231.1,671.4l14.44,7.34v14.69l-14.44,7.34l-14.44,-7.34v-14.69zM899.1,737.5l14.44,7.34v14.69l-14.44,7.34l-14.44,-7.34v-14.69zM1014.6,869.6l14.44,7.34v14.69l-14.44,7.34l-14.44,-7.34v-14.69zM1288.8,891.7l14.44,7.34v14.69l-14.44,7.34l-14.44,-7.34v-14.69zM1317.7,891.7l14.44,7.34v14.69l-14.44,7.34l-14.44,-7.34v-14.69zM1187.8,957.8l14.44,7.34v14.69l-14.44,7.34l-14.44,-7.34v-14.69zM1447.6,957.8l14.44,7.34v14.69l-14.44,7.34l-14.44,-7.34v-14.69zM1057.9,979.8l14.44,7.34v14.69l-14.44,7.34l-14.44,-7.34v-14.69zM1115.6,979.8l14.44,7.34v14.69l-14.44,7.34l-14.44,-7.34v-14.69zM1158.9,1266.2l14.44,7.34v14.69l-14.44,7.34l-14.44,-7.34v-14.69zM971.3,1376.3l14.44,7.34v14.69l-14.44,7.34l-14.44,-7.34v-14.69z"/>
<path fill="#f3af00" stroke="#f3af00" d="M956.8,429.0l14.44,7.34v14.69l-14.44,7.34l-14.44,-7.34v-14.69zM1173.4,451.1l14.44,7.34v14.69l-14.44,7.34l-14.44,-7.34v-14.69zM1361.0,517.2l14.44,7.34v14.69l-14.44,7.34l-14.44,-7.34v-14.69zM1029.0,583.2l14.44,7.34v14.69l-14.44,7.34l-14.44,-7.34v-14.69zM783.6,693.4l14.44,7.34v14.69l-14.44,7.34l-14.44,-7.34v-14.69zM1375.4,759.5l14.44,7.34v14.69l-14.44,7.34l-14.44,-7.34v-14.69zM1346.6,803.5l14.44,7.34v14.69l-14.44,7.34l-14.44,-7.34v-14.69zM1490.9,803.5l14.44,7.34v14.69l-14.44,7.34l-14.44,-7.34v-14.69zM1101.2,869.6l14.44,7.34v14.69l-14.44,7.34l-14.44,-7.34v-14.69zM884.7,891.7l14.44,7.34v14.69l-14.44,7.34l-14.44,-7.34v-14.69zM1043.4,913.7l14.44,7.34v14.69l-14.44,7.34l-14.44,-7.34v-14.69zM899.1,1045.9l14.44,7.34v14.69l-14.44,7.34l-14.44,-7.34v-14.69zM1014.6,1045.9l14.44,7.34v14.69l-14.44,7.34l-14.44,-7.34v-14.69zM899.1,1178.1l14.44,7.34v14.69l-14.44,7.34l-14.44,-7.34v-14.69zM1144.5,1288.2l14.44,7.34v14.69l-14.44,7.34l-14.44,-7.34v-14.69z"/>
<path fill="#f3b000" stroke="#f3b000" d="M1130.0,340.9l14.44,7.34v14.69l-14.44,7.34l-14.44,-7.34v-14.69zM928.0,517.2l14.44,7.34v14.69l-14.44,7.34l-14.44,-7.34v-14.69zM1476.5,605.3l14.44,7.34v14.69l-14.44,7.34l-14.44,-7.34v-14.69zM1288.8,671.4l14.44,7.34v14.69l-14.44,7.34l-14.44,-7.34v-14.69zM1476.5,693.4l14.44,7.34v14.69l-14.44,7.34l-14.44,-7.34v-14.69zM1288.8,715.4l14.44,7.34v14.69l-14.44,7.34l-14.44,-7.34v-14.69zM1476.5,781.5l14.44,7.34v14.69l-14.44,7.34l-14.44,-7.34v-14.69zM1490.9,891.7l14.44,7.34v14.69l-14.44,7.34l-14.44,-7.34v-14.69zM754.7,1001.8l14.44,7.34v14.69l-14.44,7.34l-14.44,-7.34v-14.69zM783.6,1001.8l14.44,7.34v14.69l-14.44,7.34l-14.44,-7.34v-14.69zM798.0,1023.8l14.44,7.34v14.69l-14.44,7.34l-14.44,-7.34v-14.69zM942.4,1023.8l14.44,7.34v14.69l-14.44,7.34l-14.44,-7.34v-14.69zM884.7,1067.9l14.44,7.34v14.69l-14.44,7.34l-14.44,-7.34v-14.69zM913.5,1288.2l14.44,7.34v14.69l-14.44,7.34l-14.44,-7.34v-14.69zM1072.3,1310.2l14.44,7.34v14.69l-14.44,7.34l-14.44,-7.34v-14.69z"/>
<path fill="#f3b100" stroke="#f3b100" d="M1187.8,340.9l14.44,7.34v14.69l-14.44,7.34l-14.44,-7.34v-14.69zM985.7,429.0l14.44,7.34v14.69l-14.44,7.34l-14.44,-7.34v-14.69zM1505.4,605.3l14.44,7.34v14.69l-14.44,7.34l-14.44,-7.34v-14.69zM1332.1,693.4l14.44,7.34v14.69l-14.44,7.34l-14.44,-7.34v-14.69zM826.9,715.4l14.44,7.34v14.69l-14.44,7.34l-14.44,-7.34v-14.69zM1375.4,803.5l14.44,7.34v14.69l-14.44,7.34l-14.44,-7.34v-14.69zM769.2,847.6l14.44,7.34v14.69l-14.44,7.34l-14.44,-7.34v-14.69zM1245.5,869.6l14.44,7.34v14.69l-14.44,7.34l-14.44,-7.34v-14.69zM1173.4,891.7l14.44,7.34v14.69l-14.44,7.34l-14.44,-7.34v-14.69zM1216.7,957.8l14.44,7.34v14.69l-14.44,7.34l-14.44,-7.34v-14.69zM1245.5,957.8l14.44,7.34v14.69l-14.44,7.34l-14.44,-7.34v-14.69zM1014.6,1001.8l14.44,7.34v14.69l-14.44,7.34l-14.44,-7.34v-14.69zM1187.8,1001.8l14.44,7.34v14.69l-14.44,7.34l-14.44,-7.34v-14.69zM1346.6,1023.8l14.44,7.34v14.69l-14.44,7.34l-14.44,-7.34v-14.69zM754.7,1045.9l14.44,7.34v14.69l-14.44,7.34l-14.44,-7.34v-14.69z"/>
<path fill="#f3b200" stroke="#f3b200" d="M1202.2,407.0l14.44,7.34v14.69l-14.44,7.34l-14.44,-7.34v-14.69zM1375.4,495.1l14.44,7.34v14.69l-14.44,7.34l-14.44,-7.34v-14.69zM1462.1,495.1l14.44,7.34v14.69l-14.44,7.34l-14.44,-7.34v-14.69zM1029.0,627.3l14.44,7.34v14.69l-14.44,7.34l-14.44,-7.34v-14.69zM1476.5,649.3l14.44,7.34v14.69l-14.44,7.34l-14.44,-7.34v-14.69zM1173.4,715.4l14.44,7.34v14.69l-14.44,7.34l-14.44,-7.34v-14.69zM1462.1,715.4l14.44,7.34v14.69l-14.44,7.34l-14.44,-7.34v-14.69zM1274.4,737.5l14.44,7.34v14.69l-14.44,7.34l-14.44,-7.34v-14.69zM1231.1,803.5l14.44,7.34v14.69l-14.44,7.34l-14.44,-7.34v-14.69zM1216.7,825.6l14.44,7.34v14.69l-14.44,7.34l-14.44,-7.34v-14.69zM1433.2,891.7l14.44,7.34v14.69l-14.44,7.34l-14.44,-7.34v-14.69zM1375.4,935.7l14.44,7.34v14.69l-14.44,7.34l-14.44,-7.34v-14.69zM1361.0,957.8l14.44,7.34v14.69l-14.44,7.34l-14.44,-7.34v-14.69zM1433.2,979.8l14.44,7.34v14.69l-14.44,7.34l-14.44,-7.34v-14.69zM884.7,1023.8l14.44,7.34v14.69l-14.44,7.34l-14.44,-7.34v-14.69zM1346.6,1067.9l14.44,7.34v14.69l-14.44,7.34l-14.44,-7.34v-14.69zM1447.6,1134.0l14.44,7.34v14.69l-14.44,7.34l-14.44,-7.34v-14.69zM1361.0,1354.3l14.44,7.34v14.69l-14.44,7.34l-14.44,-7.34v-14.69zM1202.2,1376.3l14.44,7.34v14.69l-14.44,7.34l-14.44,-7.34v-14.69z"/>
<path fill="#f4b200" stroke="#f4b200" d="M1216.7,517.2l14.44,7.34v14.69l-14.44,7.34l-14.44,-7.34v-14.69z"/>
<path fill="#f4b300" stroke="#f4b300" d="M1202.2,230.8l14.44,7.34v14.69l-14.44,7.34l-14.44,-7.34v-14.69zM1231.1,230.8l14.44,7.34v14.69l-14.44,7.34l-14.44,-7.34v-14.69zM1216.7,252.8l14.44,7.34v14.69l-14.44,7.34l-14.44,-7.34v-14.69zM1505.4,252.8l14.44,7.34v14.69l-14.44,7.34l-14.44,-7.34v-14.69zM1231.1,274.8l14.44,7.34v14.69l-14.44,7.34l-14.44,-7.34v-14.69zM1260.0,274.8l14.44,7.34v14.69l-14.44,7.34l-14.44,-7.34v-14.69zM1375.4,274.8l14.44,7.34v14.69l-14.44,7.34l-14.44,-7.34v-14.69zM1404.3,274.8l14.44,7.34v14.69l-14.44,7.34l-14.44,-7.34v-14.69zM1462.1,274.8l14.44,7.34v14.69l-14.44,7.34l-14.44,-7.34v-14.69zM1490.9,274.8l14.44,7.34v14.69l-14.44,7.34l-14.44,-7.34v-14.69zM1072.3,296.9l14.44,7.34v14.69l-14.44,7.34l-14.44,-7.34v-14.69zM1101.2,296.9l14.44,7.34v14.69l-14.44,7.34l-14.44,-7.34v-14.69zM1303.3,296.9l14.44,7.34v14.69l-14.44,7.34l-14.44,-7.34v-14.69zM1115.6,318.9l14.44,7.34v14.69l-14.44,7.34l-14.44,-7.34v-14.69zM1144.5,318.9l14.44,7.34v14.69l-14.44,7.34l-14.44,-7.34v-14.69zM1231.1,318.9l14.44,7.34v14.69l-14.44,7.34l-14.44,-7.34v-14.69zM1346.6,318.9l14.44,7.34v14.69l-14.44,7.34l-14.44,-7.34v-14.69zM1490.9,318.9l14.44,7.34v14.69l-14.44,7.34l-14.44,-7.34v-14.69zM1577.5,318.9l14.44,7.34v14.69l-14.44,7.34l-14.44,-7.34v-14.69zM985.7,340.9l14.44,7.34v14.69l-14.44,7.34l-14.44,-7.34v-14.69zM1043.4,340.9l14.44,7.34v14.69l-14.44,7.34l-14.44,-7.34v-14.69zM1245.5,340.9l14.44,7.34v14.69l-14.44,7.34l-14.44,-7.34v-14.69zM1274.4,340.9l14.44,7.34v14.69l-14.44,7.34l-14.44,-7.34v-14.69zM1303.3,340.9l14.44,7.34v14.69l-14.44,7.34l-14.44,-7.34v-14.69zM1332.1,340.9l14.44,7.34v14.69l-14.44,7.34l-14.44,-7.34v-14.69zM1505.4,340.9l14.44,7.34v14.69l-14.44,7.34l-14.44,-7.34v-14.69zM1534.2,340.9l14.44,7.34v14.69l-14.44,7.34l-14.44,-7.34v-14.69zM971.3,362.9l14.44,7.34v14.69l-14.44,7.34l-14.44,-7.34v-14.69zM1231.1,362.9l14.44,7.34v14.69l-14.44,7.34l-14.44,-7.34v-14.69zM1288.8,362.9l14.44,7.34v14.69l-14.44,7.34l-14.44,-7.34v-14.69zM1375.4,362.9l14.44,7.34v14.69l-14.44,7.34l-14.44,-7.34v-14.69zM1490.9,362.9l14.44,7.34v14.69l-14.44,7.34l-14.44,-7.34v-14.69zM985.7,385.0l14.44,7.34v14.69l-14.44,7.34l-14.44,-7.34v-14.69zM1274.4,385.0l14.44,7.34v14.69l-14.44,7.34l-14.44,-7.34v-14.69zM1303.3,385.0l14.44,7.34v14.69l-14.44,7.34l-14.44,-7.34v-14.69zM1332.1,385.0l14.44,7.34v14.69l-14.44,7.34l-14.44,-7.34v-14.69zM1361.0,385.0l14.44,7.34v14.69l-14.44,7.34l-14.44,-7.34v-14.69zM855.8,407.0l14.44,7.34v14.69l-14.44,7.34l-14.44,-7.34v-14.69zM942.4,407.0l14.44,7.34v14.69l-14.44,7.34l-14.44,-7.34v-14.69zM1231.1,407.0l14.44,7.34v14.69l-14.44,7.34l-14.44,-7.34v-14.69zM1317.7,407.0l14.44,7.34v14.69l-14.44,7.34l-14.44,-7.34v-14.69zM1433.2,407.0l14.44,7.34v14.69l-14.44,7.34l-14.44,-7.34v-14.69zM1462.1,407.0l14.44,7.34v14.69l-14.44,7.34l-14.44,-7.34v-14.69zM1519.8,407.0l14.44,7.34v14.69l-14.44,7.34l-14.44,-7.34v-14.69zM1577.5,407.0l14.44,7.34v14.69l-14.44,7.34l-14.44,-7.34v-14.69zM1606.4,407.0l14.44,7.34v14.69l-14.44,7.34l-14.44,-7.34v-14.69zM812.5,429.0l14.44,7.34v14.69l-14.44,7.34l-14.44,-7.34v-14.69zM1216.7,429.0l14.44,7.34v14.69l-14.44,7.34l-14.44,-7.34v-14.69zM1245.5,429.0l14.44,7.34v14.69l-14.44,7.34l-14.44,-7.34v-14.69zM1332.1,429.0l14.44,7.34v14.69l-14.44,7.34l-14.44,-7.34v-14.69zM1361.0,429.0l14.44,7.34v14.69l-14.44,7.34l-14.44,-7.34v-14.69zM1418.8,429.0l14.44,7.34v14.69l-14.44,7.34l-14.44,-7.34v-14.69zM1447.6,429.0l14.44,7.34v14.69l-14.44,7.34l-14.44,-7.34v-14.69zM1505.4,429.0l14.44,7.34v14.69l-14.44,7.34l-14.44,-7.34v-14.69zM1563.1,429.0l14.44,7.34v14.69l-14.44,7.34l-14.44,-7.34v-14.69zM1592.0,429.0l14.44,7.34v14.69l-14.44,7.34l-14.44,-7.34v-14.69zM826.9,451.1l14.44,7.34v14.69l-14.44,7.34l-14.44,-7.34v-14.69zM855.8,451.1l14.44,7.34v14.69l-14.44,7.34l-14.44,-7.34v-14.69zM1490.9,451.1l14.44,7.34v14.69l-14.44,7.34l-14.44,-7.34v-14.69zM1519.8,451.1l14.44,7.34v14.69l-14.44,7.34l-14.44,-7.34v-14.69zM1548.7,451.1l14.44,7.34v14.69l-14.44,7.34l-14.44,-7.34v-14.69zM1606.4,451.1l14.44,7.34v14.69l-14.44,7.34l-14.44,-7.34v-14.69zM1505.4,473.1l14.44,7.34v14.69l-14.44,7.34l-14.44,-7.34v-14.69zM1534.2,473.1l14.44,7.34v14.69l-14.44,7.34l-14.44,-7.34v-14.69zM1563.1,473.1l14.44,7.34v14.69l-14.44,7.34l-14.44,-7.34v-14.69zM1620.8,473.1l14.44,7.34v14.69l-14.44,7.34l-14.44,-7.34v-14.69zM1202.2,495.1l14.44,7.34v14.69l-14.44,7.34l-14.44,-7.34v-14.69zM1288.8,495.1l14.44,7.34v14.69l-14.44,7.34l-14.44,-7.34v-14.69zM1519.8,495.1l14.44,7.34v14.69l-14.44,7.34l-14.44,-7.34v-14.69zM1592.0,517.2l14.44,7.34v14.69l-14.44,7.34l-14.44,-7.34v-14.69zM1620.8,517.2l14.44,7.34v14.69l-14.44,7.34l-14.44,-7.34v-14.69zM1649.7,517.2l14.44,7.34v14.69l-14.44,7.34l-14.44,-7.34v-14.69zM1490.9,539.2l14.44,7.34v14.69l-14.44,7.34l-14.44,-7.34v-14.69zM1519.8,539.2l14.44,7.34v14.69l-14.44,7.34l-14.44,-7.34v-14.69zM1548.7,539.2l14.44,7.34v14.69l-14.44,7.34l-14.44,-7.34v-14.69zM1664.1,539.2l14.44,7.34v14.69l-14.44,7.34l-14.44,-7.34v-14.69zM812.5,561.2l14.44,7.34v14.69l-14.44,7.34l-14.44,-7.34v-14.69zM1505.4,561.2l14.44,7.34v14.69l-14.44,7.34l-14.44,-7.34v-14.69zM1534.2,561.2l14.44,7.34v14.69l-14.44,7.34l-14.44,-7.34v-14.69zM1563.1,561.2l14.44,7.34v14.69l-14.44,7.34l-14.44,-7.34v-14.69zM1620.8,561.2l14.44,7.34v14.69l-14.44,7.34l-14.44,-7.34v-14.69zM1490.9,583.2l14.44,7.34v14.69l-14.44,7.34l-14.44,-7.34v-14.69zM1548.7,583.2l14.44,7.34v14.69l-14.44,7.34l-14.44,-7.34v-14.69zM1577.5,583.2l14.44,7.34v14.69l-14.44,7.34l-14.44,-7.34v-14.69zM1187.8,605.3l14.44,7.34v14.69l-14.44,7.34l-14.44,-7.34v-14.69zM1678.6,605.3l14.44,7.34v14.69l-14.44,7.34l-14.44,-7.34v-14.69zM379.4,649.3l14.44,7.34v14.69l-14.44,7.34l-14.44,-7.34v-14.69zM466.0,649.3l14.44,7.34v14.69l-14.44,7.34l-14.44,-7.34v-14.69zM1620.8,649.3l14.44,7.34v14.69l-14.44,7.34l-14.44,-7.34v-14.69zM422.7,671.4l14.44,7.34v14.69l-14.44,7.34l-14.44,-7.34v-14.69zM451.6,671.4l14.44,7.34v14.69l-14.44,7.34l-14.44,-7.34v-14.69zM682.6,671.4l14.44,7.34v14.69l-14.44,7.34l-14.44,-7.34v-14.69zM1375.4,671.4l14.44,7.34v14.69l-14.44,7.34l-14.44,-7.34v-14.69zM466.0,693.4l14.44,7.34v14.69l-14.44,7.34l-14.44,-7.34v-14.69zM1707.5,693.4l14.44,7.34v14.69l-14.44,7.34l-14.44,-7.34v-14.69zM437.2,737.5l14.44,7.34v14.69l-14.44,7.34l-14.44,-7.34v-14.69zM466.0,737.5l14.44,7.34v14.69l-14.44,7.34l-14.44,-7.34v-14.69zM1563.1,737.5l14.44,7.34v14.69l-14.44,7.34l-14.44,-7.34v-14.69zM1794.1,737.5l14.44,7.34v14.69l-14.44,7.34l-14.44,-7.34v-14.69zM307.3,759.5l14.44,7.34v14.69l-14.44,7.34l-14.44,-7.34v-14.69zM336.1,759.5l14.44,7.34v14.69l-14.44,7.34l-14.44,-7.34v-14.69zM393.9,759.5l14.44,7.34v14.69l-14.44,7.34l-14.44,-7.34v-14.69zM1606.4,759.5l14.44,7.34v14.69l-14.44,7.34l-14.44,-7.34v-14.69zM263.9,781.5l14.44,7.34v14.69l-14.44,7.34l-14.44,-7.34v-14.69zM292.8,781.5l14.44,7.34v14.69l-14.44,7.34l-14.44,-7.34v-14.69zM1447.6,781.5l14.44,7.34v14.69l-14.44,7.34l-14.44,-7.34v-14.69zM1563.1,781.5l14.44,7.34v14.69l-14.44,7.34l-14.44,-7.34v-14.69zM1851.8,781.5l14.44,7.34v14.69l-14.44,7.34l-14.44,-7.34v-14.69zM278.4,803.5l14.44,7.34v14.69l-14.44,7.34l-14.44,-7.34v-14.69zM393.9,803.5l14.44,7.34v14.69l-14.44,7.34l-14.44,-7.34v-14.69zM740.3,803.5l14.44,7.34v14.69l-14.44,7.34l-14.44,-7.34v-14.69zM1721.9,803.5l14.44,7.34v14.69l-14.44,7.34l-14.44,-7.34v-14.69zM1779.6,803.5l14.44,7.34v14.69l-14.44,7.34l-14.44,-7.34v-14.69zM1837.4,803.5l14.44,7.34v14.69l-14.44,7.34l-14.44,-7.34v-14.69zM321.7,825.6l14.44,7.34v14.69l-14.44,7.34l-14.44,-7.34v-14.69zM668.1,825.6l14.44,7.34v14.69l-14.44,7.34l-14.44,-7.34v-14.69zM1592.0,825.6l14.44,7.34v14.69l-14.44,7.34l-14.44,-7.34v-14.69zM307.3,847.6l14.44,7.34v14.69l-14.44,7.34l-14.44,-7.34v-14.69zM393.9,847.6l14.44,7.34v14.69l-14.44,7.34l-14.44,-7.34v-14.69zM913.5,847.6l14.44,7.34v14.69l-14.44,7.34l-14.44,-7.34v-14.69zM235.1,869.6l14.44,7.34v14.69l-14.44,7.34l-14.44,-7.34v-14.69zM408.3,869.6l14.44,7.34v14.69l-14.44,7.34l-14.44,-7.34v-14.69zM437.2,869.6l14.44,7.34v14.69l-14.44,7.34l-14.44,-7.34v-14.69zM754.7,869.6l14.44,7.34v14.69l-14.44,7.34l-14.44,-7.34v-14.69zM1592.0,869.6l14.44,7.34v14.69l-14.44,7.34l-14.44,-7.34v-14.69zM1938.4,869.6l14.44,7.34v14.69l-14.44,7.34l-14.44,-7.34v-14.69zM249.5,891.7l14.44,7.34v14.69l-14.44,7.34l-14.44,-7.34v-14.69zM422.7,891.7l14.44,7.34v14.69l-14.44,7.34l-14.44,-7.34v-14.69zM1693.0,891.7l14.44,7.34v14.69l-14.44,7.34l-14.44,-7.34v-14.69zM1721.9,891.7l14.44,7.34v14.69l-14.44,7.34l-14.44,-7.34v-14.69zM1924.0,891.7l14.44,7.34v14.69l-14.44,7.34l-14.44,-7.34v-14.69zM292.8,913.7l14.44,7.34v14.69l-14.44,7.34l-14.44,-7.34v-14.69zM1765.2,913.7l14.44,7.34v14.69l-14.44,7.34l-14.44,-7.34v-14.69zM278.4,935.7l14.44,7.34v14.69l-14.44,7.34l-14.44,-7.34v-14.69zM1231.1,935.7l14.44,7.34v14.69l-14.44,7.34l-14.44,-7.34v-14.69zM321.7,957.8l14.44,7.34v14.69l-14.44,7.34l-14.44,-7.34v-14.69zM812.5,957.8l14.44,7.34v14.69l-14.44,7.34l-14.44,-7.34v-14.69zM1822.9,957.8l14.44,7.34v14.69l-14.44,7.34l-14.44,-7.34v-14.69zM307.3,979.8l14.44,7.34v14.69l-14.44,7.34l-14.44,-7.34v-14.69zM336.1,979.8l14.44,7.34v14.69l-14.44,7.34l-14.44,-7.34v-14.69zM740.3,979.8l14.44,7.34v14.69l-14.44,7.34l-14.44,-7.34v-14.69zM350.6,1001.8l14.44,7.34v14.69l-14.44,7.34l-14.44,-7.34v-14.69zM437.2,1001.8l14.44,7.34v14.69l-14.44,7.34l-14.44,-7.34v-14.69zM1736.3,1001.8l14.44,7.34v14.69l-14.44,7.34l-14.44,-7.34v-14.69zM336.1,1023.8l14.44,7.34v14.69l-14.44,7.34l-14.44,-7.34v-14.69zM509.3,1023.8l14.44,7.34v14.69l-14.44,7.34l-14.44,-7.34v-14.69zM538.2,1023.8l14.44,7.34v14.69l-14.44,7.34l-14.44,-7.34v-14.69zM668.1,1045.9l14.44,7.34v14.69l-14.44,7.34l-14.44,-7.34v-14.69zM1130.0,1045.9l14.44,7.34v14.69l-14.44,7.34l-14.44,-7.34v-14.69zM422.7,1067.9l14.44,7.34v14.69l-14.44,7.34l-14.44,-7.34v-14.69zM653.7,1067.9l14.44,7.34v14.69l-14.44,7.34l-14.44,-7.34v-14.69zM798.0,1067.9l14.44,7.34v14.69l-14.44,7.34l-14.44,-7.34v-14.69zM1000.1,1067.9l14.44,7.34v14.69l-14.44,7.34l-14.44,-7.34v-14.69zM985.7,1089.9l14.44,7.34v14.69l-14.44,7.34l-14.44,-7.34v-14.69zM365.0,1112.0l14.44,7.34v14.69l-14.44,7.34l-14.44,-7.34v-14.69zM480.5,1112.0l14.44,7.34v14.69l-14.44,7.34l-14.44,-7.34v-14.69zM538.2,1112.0l14.44,7.34v14.69l-14.44,7.34l-14.44,-7.34v-14.69zM292.8,1134.0l14.44,7.34v14.69l-14.44,7.34l-14.44,-7.34v-14.69zM350.6,1134.0l14.44,7.34v14.69l-14.44,7.34l-14.44,-7.34v-14.69zM466.0,1134.0l14.44,7.34v14.69l-14.44,7.34l-14.44,-7.34v-14.69zM494.9,1134.0l14.44,7.34v14.69l-14.44,7.34l-14.44,-7.34v-14.69zM639.3,1134.0l14.44,7.34v14.69l-14.44,7.34l-14.44,-7.34v-14.69zM451.6,1156.0l14.44,7.34v14.69l-14.44,7.34l-14.44,-7.34v-14.69zM596.0,1156.0l14.44,7.34v14.69l-14.44,7.34l-14.44,-7.34v-14.69zM379.4,1178.1l14.44,7.34v14.69l-14.44,7.34l-14.44,-7.34v-14.69zM408.3,1178.1l14.44,7.34v14.69l-14.44,7.34l-14.44,-7.34v-14.69zM437.2,1178.1l14.44,7.34v14.69l-14.44,7.34l-14.44,-7.34v-14.69zM523.8,1178.1l14.44,7.34v14.69l-14.44,7.34l-14.44,-7.34v-14.69zM422.7,1200.1l14.44,7.34v14.69l-14.44,7.34l-14.44,-7.34v-14.69zM451.6,1200.1l14.44,7.34v14.69l-14.44,7.34l-14.44,-7.34v-14.69zM538.2,1200.1l14.44,7.34v14.69l-14.44,7.34l-14.44,-7.34v-14.69zM567.1,1200.1l14.44,7.34v14.69l-14.44,7.34l-14.44,-7.34v-14.69zM1375.4,1200.1l14.44,7.34v14.69l-14.44,7.34l-14.44,-7.34v-14.69zM552.6,1222.1l14.44,7.34v14.69l-14.44,7.34l-14.44,-7.34v-14.69zM668.1,1222.1l14.44,7.34v14.69l-14.44,7.34l-14.44,-7.34v-14.69zM1072.3,1266.2l14.44,7.34v14.69l-14.44,7.34l-14.44,-7.34v-14.69zM1202.2,1288.2l14.44,7.34v14.69l-14.44,7.34l-14.44,-7.34v-14.69zM870.2,1310.2l14.44,7.34v14.69l-14.44,7.34l-14.44,-7.34v-14.69zM466.0,1354.3l14.44,7.34v14.69l-14.44,7.34l-14.44,-7.34v-14.69zM494.9,1354.3l14.44,7.34v14.69l-14.44,7.34l-14.44,-7.34v-14.69zM639.3,1354.3l14.44,7.34v14.69l-14.44,7.34l-14.44,-7.34v-14.69zM841.4,1398.4l14.44,7.34v14.69l-14.44,7.34l-14.44,-7.34v-14.69zM1072.3,1398.4l14.44,7.34v14.69l-14.44,7.34l-14.44,-7.34v-14.69zM1418.8,1398.4l14.44,7.34v14.69l-14.44,7.34l-14.44,-7.34v-14.69zM624.8,1420.4l14.44,7.34v14.69l-14.44,7.34l-14.44,-7.34v-14.69zM884.7,1420.4l14.44,7.34v14.69l-14.44,7.34l-14.44,-7.34v-14.69zM942.4,1420.4l14.44,7.34v14.69l-14.44,7.34l-14.44,-7.34v-14.69zM1144.5,1420.4l14.44,7.34v14.69l-14.44,7.34l-14.44,-7.34v-14.69zM841.4,1442.4l14.44,7.34v14.69l-14.44,7.34l-14.44,-7.34v-14.69zM870.2,1442.4l14.44,7.34v14.69l-14.44,7.34l-14.44,-7.34v-14.69zM899.1,1442.4l14.44,7.34v14.69l-14.44,7.34l-14.44,-7.34v-14.69zM956.8,1442.4l14.44,7.34v14.69l-14.44,7.34l-14.44,-7.34v-14.69zM985.7,1442.4l14.44,7.34v14.69l-14.44,7.34l-14.44,-7.34v-14.69zM1158.9,1442.4l14.44,7.34v14.69l-14.44,7.34l-14.44,-7.34v-14.69zM1216.7,1442.4l14.44,7.34v14.69l-14.44,7.34l-14.44,-7.34v-14.69zM682.6,1464.4l14.44,7.34v14.69l-14.44,7.34l-14.44,-7.34v-14.69zM740.3,1464.4l14.44,7.34v14.69l-14.44,7.34l-14.44,-7.34v-14.69zM855.8,1464.4l14.44,7.34v14.69l-14.44,7.34l-14.44,-7.34v-14.69zM971.3,1464.4l14.44,7.34v14.69l-14.44,7.34l-14.44,-7.34v-14.69zM1202.2,1464.4l14.44,7.34v14.69l-14.44,7.34l-14.44,-7.34v-14.69zM754.7,1486.5l14.44,7.34v14.69l-14.44,7.34l-14.44,-7.34v-14.69zM841.4,1486.5l14.44,7.34v14.69l-14.44,7.34l-14.44,-7.34v-14.69zM1245.5,1486.5l14.44,7.34v14.69l-14.44,7.34l-14.44,-7.34v-14.69zM1303.3,1486.5l14.44,7.34v14.69l-14.44,7.34l-14.44,-7.34v-14.69zM711.4,1508.5l14.44,7.34v14.69l-14.44,7.34l-14.44,-7.34v-14.69zM740.3,1508.5l14.44,7.34v14.69l-14.44,7.34l-14.44,-7.34v-14.69zM769.2,1508.5l14.44,7.34v14.69l-14.44,7.34l-14.44,-7.34v-14.69zM855.8,1508.5l14.44,7.34v14.69l-14.44,7.34l-14.44,-7.34v-14.69zM913.5,1508.5l14.44,7.34v14.69l-14.44,7.34l-14.44,-7.34v-14.69zM1144.5,1508.5l14.44,7.34v14.69l-14.44,7.34l-14.44,-7.34v-14.69zM783.6,1530.5l14.44,7.34v14.69l-14.44,7.34l-14.44,-7.34v-14.69zM812.5,1530.5l14.44,7.34v14.69l-14.44,7.34l-14.44,-7.34v-14.69zM870.2,1530.5l14.44,7.34v14.69l-14.44,7.34l-14.44,-7.34v-14.69zM899.1,1530.5l14.44,7.34v14.69l-14.44,7.34l-14.44,-7.34v-14.69zM1187.8,1530.5l14.44,7.34v14.69l-14.44,7.34l-14.44,-7.34v-14.69zM1389.9,1530.5l14.44,7.34v14.69l-14.44,7.34l-14.44,-7.34v-14.69zM1447.6,1530.5l14.44,7.34v14.69l-14.44,7.34l-14.44,-7.34v-14.69zM826.9,1552.6l14.44,7.34v14.69l-14.44,7.34l-14.44,-7.34v-14.69zM884.7,1552.6l14.44,7.34v14.69l-14.44,7.34l-14.44,-7.34v-14.69zM1000.1,1552.6l14.44,7.34v14.69l-14.44,7.34l-14.44,-7.34v-14.69zM1029.0,1552.6l14.44,7.34v14.69l-14.44,7.34l-14.44,-7.34v-14.69zM1260.0,1552.6l14.44,7.34v14.69l-14.44,7.34l-14.44,-7.34v-14.69zM1404.3,1552.6l14.44,7.34v14.69l-14.44,7.34l-14.44,-7.34v-14.69zM841.4,1574.6l14.44,7.34v14.69l-14.44,7.34l-14.44,-7.34v-14.69zM985.7,1574.6l14.44,7.34v14.69l-14.44,7.34l-14.44,-7.34v-14.69zM1014.6,1574.6l14.44,7.34v14.69l-14.44,7.34l-14.44,-7.34v-14.69zM1072.3,1574.6l14.44,7.34v14.69l-14.44,7.34l-14.44,-7.34v-14.69zM1216.7,1574.6l14.44,7.34v14.69l-14.44,7.34l-14.44,-7.34v-14.69zM798.0,1596.6l14.44,7.34v14.69l-14.44,7.34l-14.44,-7.34v-14.69zM855.8,1596.6l14.44,7.34v14.69l-14.44,7.34l-14.44,-7.34v-14.69zM913.5,1596.6l14.44,7.34v14.69l-14.44,7.34l-14.44,-7.34v-14.69zM1404.3,1596.6l14.44,7.34v14.69l-14.44,7.34l-14.44,-7.34v-14.69zM1462.1,1596.6l14.44,7.34v14.69l-14.44,7.34l-14.44,-7.34v-14.69zM899.1,1618.7l14.44,7.34v14.69l-14.44,7.34l-14.44,-7.34v-14.69zM1389.9,1618.7l14.44,7.34v14.69l-14.44,7.34l-14.44,-7.34v-14.69zM798.0,1640.7l14.44,7.34v14.69l-14.44,7.34l-14.44,-7.34v-14.69zM826.9,1640.7l14.44,7.34v14.69l-14.44,7.34l-14.44,-7.34v-14.69zM855.8,1640.7l14.44,7.34v14.69l-14.44,7.34l-14.44,-7.34v-14.69zM884.7,1640.7l14.44,7.34v14.69l-14.44,7.34l-14.44,-7.34v-14.69zM942.4,1640.7l14.44,7.34v14.69l-14.44,7.34l-14.44,-7.34v-14.69zM971.3,1640.7l14.44,7.34v14.69l-14.44,7.34l-14.44,-7.34v-14.69zM1029.0,1640.7l14.44,7.34v14.69l-14.44,7.34l-14.44,-7.34v-14.69zM812.5,1662.7l14.44,7.34v14.69l-14.44,7.34l-14.44,-7.34v-14.69zM956.8,1662.7l14.44,7.34v14.69l-14.44,7.34l-14.44,-7.34v-14.69zM913.5,1684.7l14.44,7.34v14.69l-14.44,7.34l-14.44,-7.34v-14.69zM942.4,1684.7l14.44,7.34v14.69l-14.44,7.34l-14.44,-7.34v-14.69z"/>
<path fill="#f4b400" stroke="#f4b400" d="M1057.9,407.0l14.44,7.34v14.69l-14.44,7.34l-14.44,-7.34v-14.69zM1375.4,539.2l14.44,7.34v14.69l-14.44,7.34l-14.44,-7.34v-14.69zM1245.5,561.2l14.44,7.34v14.69l-14.44,7.34l-14.44,-7.34v-14.69zM1202.2,627.3l14.44,7.34v14.69l-14.44,7.34l-14.44,-7.34v-14.69zM1346.6,1200.1l14.44,7.34v14.69l-14.44,7.34l-14.44,-7.34v-14.69z"/>
<path fill="#f4b500" stroke="#f4b500" d="M1173.4,362.9l14.44,7.34v14.69l-14.44,7.34l-14.44,-7.34v-14.69zM1346.6,495.1l14.44,7.34v14.69l-14.44,7.34l-14.44,-7.34v-14.69zM1317.7,847.6l14.44,7.34v14.69l-14.44,7.34l-14.44,-7.34v-14.69zM1173.4,935.7l14.44,7.34v14.69l-14.44,7.34l-14.44,-7.34v-14.69zM1000.1,979.8l14.44,7.34v14.69l-14.44,7.34l-14.44,-7.34v-14.69zM899.1,1001.8l14.44,7.34v14.69l-14.44,7.34l-14.44,-7.34v-14.69zM1418.8,1134.0l14.44,7.34v14.69l-14.44,7.34l-14.44,-7.34v-14.69zM855.8,1376.3l14.44,7.34v14.69l-14.44,7.34l-14.44,-7.34v-14.69z"/>
<path fill="#f4b600" stroke="#f4b600" d="M1216.7,473.1l14.44,7.34v14.69l-14.44,7.34l-14.44,-7.34v-14.69zM1000.1,539.2l14.44,7.34v14.69l-14.44,7.34l-14.44,-7.34v-14.69zM1317.7,539.2l14.44,7.34v14.69l-14.44,7.34l-14.44,-7.34v-14.69zM1303.3,693.4l14.44,7.34v14.69l-14.44,7.34l-14.44,-7.34v-14.69zM971.3,715.4l14.44,7.34v14.69l-14.44,7.34l-14.44,-7.34v-14.69zM1346.6,715.4l14.44,7.34v14.69l-14.44,7.34l-14.44,-7.34v-14.69zM1187.8,781.5l14.44,7.34v14.69l-14.44,7.34l-14.44,-7.34v-14.69zM1000.1,891.7l14.44,7.34v14.69l-14.44,7.34l-14.44,-7.34v-14.69zM1072.3,913.7l14.44,7.34v14.69l-14.44,7.34l-14.44,-7.34v-14.69zM1418.8,957.8l14.44,7.34v14.69l-14.44,7.34l-14.44,-7.34v-14.69zM884.7,979.8l14.44,7.34v14.69l-14.44,7.34l-14.44,-7.34v-14.69zM1375.4,979.8l14.44,7.34v14.69l-14.44,7.34l-14.44,-7.34v-14.69zM1072.3,1001.8l14.44,7.34v14.69l-14.44,7.34l-14.44,-7.34v-14.69zM855.8,1023.8l14.44,7.34v14.69l-14.44,7.34l-14.44,-7.34v-14.69zM1202.2,1023.8l14.44,7.34v14.69l-14.44,7.34l-14.44,-7.34v-14.69zM1144.5,1067.9l14.44,7.34v14.69l-14.44,7.34l-14.44,-7.34v-14.69zM971.3,1112.0l14.44,7.34v14.69l-14.44,7.34l-14.44,-7.34v-14.69zM754.7,1178.1l14.44,7.34v14.69l-14.44,7.34l-14.44,-7.34v-14.69zM1332.1,1178.1l14.44,7.34v14.69l-14.44,7.34l-14.44,-7.34v-14.69zM971.3,1200.1l14.44,7.34v14.69l-14.44,7.34l-14.44,-7.34v-14.69zM1057.9,1288.2l14.44,7.34v14.69l-14.44,7.34l-14.44,-7.34v-14.69z"/>
<path fill="#f4b700" stroke="#f4b700" d="M1014.6,429.0l14.44,7.34v14.69l-14.44,7.34l-14.44,-7.34v-14.69zM1130.0,429.0l14.44,7.34v14.69l-14.44,7.34l-14.44,-7.34v-14.69zM1144.5,495.1l14.44,7.34v14.69l-14.44,7.34l-14.44,-7.34v-14.69zM1260.0,627.3l14.44,7.34v14.69l-14.44,7.34l-14.44,-7.34v-14.69zM1490.9,627.3l14.44,7.34v14.69l-14.44,7.34l-14.44,-7.34v-14.69zM1144.5,803.5l14.44,7.34v14.69l-14.44,7.34l-14.44,-7.34v-14.69zM1187.8,825.6l14.44,7.34v14.69l-14.44,7.34l-14.44,-7.34v-14.69zM1447.6,913.7l14.44,7.34v14.69l-14.44,7.34l-14.44,-7.34v-14.69zM1274.4,957.8l14.44,7.34v14.69l-14.44,7.34l-14.44,-7.34v-14.69zM985.7,1001.8l14.44,7.34v14.69l-14.44,7.34l-14.44,-7.34v-14.69zM1375.4,1023.8l14.44,7.34v14.69l-14.44,7.34l-14.44,-7.34v-14.69zM1202.2,1067.9l14.44,7.34v14.69l-14.44,7.34l-14.44,-7.34v-14.69zM1043.4,1089.9l14.44,7.34v14.69l-14.44,7.34l-14.44,-7.34v-14.69zM1303.3,1178.1l14.44,7.34v14.69l-14.44,7.34l-14.44,-7.34v-14.69zM913.5,1200.1l14.44,7.34v14.69l-14.44,7.34l-14.44,-7.34v-14.69zM1389.9,1222.1l14.44,7.34v14.69l-14.44,7.34l-14.44,-7.34v-14.69zM913.5,1244.1l14.44,7.34v14.69l-14.44,7.34l-14.44,-7.34v-14.69zM1418.8,1266.2l14.44,7.34v14.69l-14.44,7.34l-14.44,-7.34v-14.69zM1231.1,1376.3l14.44,7.34v14.69l-14.44,7.34l-14.44,-7.34v-14.69z"/>
<path fill="#f4b800" stroke="#f4b800" d="M1086.7,495.1l14.44,7.34v14.69l-14.44,7.34l-14.44,-7.34v-14.69zM1043.4,605.3l14.44,7.34v14.69l-14.44,7.34l-14.44,-7.34v-14.69zM1534.2,605.3l14.44,7.34v14.69l-14.44,7.34l-14.44,-7.34v-14.69zM855.8,935.7l14.44,7.34v14.69l-14.44,7.34l-14.44,-7.34v-14.69zM1115.6,1023.8l14.44,7.34v14.69l-14.44,7.34l-14.44,-7.34v-14.69zM1317.7,1067.9l14.44,7.34v14.69l-14.44,7.34l-14.44,-7.34v-14.69zM798.0,1332.3l14.44,7.34v14.69l-14.44,7.34l-14.44,-7.34v-14.69zM1130.0,1354.3l14.44,7.34v14.69l-14.44,7.34l-14.44,-7.34v-14.69z"/>
<path fill="#f5b800" stroke="#f5b800" d="M1231.1,539.2l14.44,7.34v14.69l-14.44,7.34l-14.44,-7.34v-14.69zM826.9,803.5l14.44,7.34v14.69l-14.44,7.34l-14.44,-7.34v-14.69zM1447.6,869.6l14.44,7.34v14.69l-14.44,7.34l-14.44,-7.34v-14.69zM1274.4,1045.9l14.44,7.34v14.69l-14.44,7.34l-14.44,-7.34v-14.69zM1158.9,1310.2l14.44,7.34v14.69l-14.44,7.34l-14.44,-7.34v-14.69z"/>
<path fill="#f5b900" stroke="#f5b900" d="M1158.9,385.0l14.44,7.34v14.69l-14.44,7.34l-14.44,-7.34v-14.69zM1202.2,451.1l14.44,7.34v14.69l-14.44,7.34l-14.44,-7.34v-14.69zM812.5,517.2l14.44,7.34v14.69l-14.44,7.34l-14.44,-7.34v-14.69zM1245.5,517.2l14.44,7.34v14.69l-14.44,7.34l-14.44,-7.34v-14.69zM1346.6,539.2l14.44,7.34v14.69l-14.44,7.34l-14.44,-7.34v-14.69zM1317.7,583.2l14.44,7.34v14.69l-14.44,7.34l-14.44,-7.34v-14.69zM711.4,715.4l14.44,7.34v14.69l-14.44,7.34l-14.44,-7.34v-14.69zM1519.8,715.4l14.44,7.34v14.69l-14.44,7.34l-14.44,-7.34v-14.69zM1404.3,759.5l14.44,7.34v14.69l-14.44,7.34l-14.44,-7.34v-14.69zM1462.1,759.5l14.44,7.34v14.69l-14.44,7.34l-14.44,-7.34v-14.69zM1101.2,825.6l14.44,7.34v14.69l-14.44,7.34l-14.44,-7.34v-14.69zM1202.2,935.7l14.44,7.34v14.69l-14.44,7.34l-14.44,-7.34v-14.69zM682.6,979.8l14.44,7.34v14.69l-14.44,7.34l-14.44,-7.34v-14.69zM1317.7,1023.8l14.44,7.34v14.69l-14.44,7.34l-14.44,-7.34v-14.69zM1433.2,1023.8l14.44,7.34v14.69l-14.44,7.34l-14.44,-7.34v-14.69zM855.8,1200.1l14.44,7.34v14.69l-14.44,7.34l-14.44,-7.34v-14.69zM697.0,1222.1l14.44,7.34v14.69l-14.44,7.34l-14.44,-7.34v-14.69zM1086.7,1244.1l14.44,7.34v14.69l-14.44,7.34l-14.44,-7.34v-14.69zM798.0,1288.2l14.44,7.34v14.69l-14.44,7.34l-14.44,-7.34v-14.69z"/>
<path fill="#f5ba00" stroke="#f5ba00" d="M1057.9,451.1l14.44,7.34v14.69l-14.44,7.34l-14.44,-7.34v-14.69zM1317.7,451.1l14.44,7.34v14.69l-14.44,7.34l-14.44,-7.34v-14.69zM1433.2,451.1l14.44,7.34v14.69l-14.44,7.34l-14.44,-7.34v-14.69zM1332.1,561.2l14.44,7.34v14.69l-14.44,7.34l-14.44,-7.34v-14.69zM1303.3,649.3l14.44,7.34v14.69l-14.44,7.34l-14.44,-7.34v-14.69zM1361.0,693.4l14.44,7.34v14.69l-14.44,7.34l-14.44,-7.34v-14.69zM1274.4,825.6l14.44,7.34v14.69l-14.44,7.34l-14.44,-7.34v-14.69zM1158.9,869.6l14.44,7.34v14.69l-14.44,7.34l-14.44,-7.34v-14.69zM1361.0,869.6l14.44,7.34v14.69l-14.44,7.34l-14.44,-7.34v-14.69zM1086.7,891.7l14.44,7.34v14.69l-14.44,7.34l-14.44,-7.34v-14.69zM1375.4,891.7l14.44,7.34v14.69l-14.44,7.34l-14.44,-7.34v-14.69zM1057.9,935.7l14.44,7.34v14.69l-14.44,7.34l-14.44,-7.34v-14.69zM1303.3,957.8l14.44,7.34v14.69l-14.44,7.34l-14.44,-7.34v-14.69zM1317.7,979.8l14.44,7.34v14.69l-14.44,7.34l-14.44,-7.34v-14.69zM1216.7,1001.8l14.44,7.34v14.69l-14.44,7.34l-14.44,-7.34v-14.69zM1158.9,1045.9l14.44,7.34v14.69l-14.44,7.34l-14.44,-7.34v-14.69zM1375.4,1067.9l14.44,7.34v14.69l-14.44,7.34l-14.44,-7.34v-14.69z"/>
<path fill="#f5bb00" stroke="#f5bb00" d="M1433.2,539.2l14.44,7.34v14.69l-14.44,7.34l-14.44,-7.34v-14.69zM783.6,561.2l14.44,7.34v14.69l-14.44,7.34l-14.44,-7.34v-14.69zM798.0,583.2l14.44,7.34v14.69l-14.44,7.34l-14.44,-7.34v-14.69zM1274.4,781.5l14.44,7.34v14.69l-14.44,7.34l-14.44,-7.34v-14.69zM1303.3,1045.9l14.44,7.34v14.69l-14.44,7.34l-14.44,-7.34v-14.69zM1072.3,1089.9l14.44,7.34v14.69l-14.44,7.34l-14.44,-7.34v-14.69zM1000.1,1112.0l14.44,7.34v14.69l-14.44,7.34l-14.44,-7.34v-14.69zM725.9,1222.1l14.44,7.34v14.69l-14.44,7.34l-14.44,-7.34v-14.69zM1158.9,1222.1l14.44,7.34v14.69l-14.44,7.34l-14.44,-7.34v-14.69zM1260.0,1244.1l14.44,7.34v14.69l-14.44,7.34l-14.44,-7.34v-14.69zM899.1,1310.2l14.44,7.34v14.69l-14.44,7.34l-14.44,-7.34v-14.69zM985.7,1310.2l14.44,7.34v14.69l-14.44,7.34l-14.44,-7.34v-14.69zM1303.3,1310.2l14.44,7.34v14.69l-14.44,7.34l-14.44,-7.34v-14.69z"/>
<path fill="#f5bc00" stroke="#f5bc00" d="M1288.8,451.1l14.44,7.34v14.69l-14.44,7.34l-14.44,-7.34v-14.69zM1476.5,825.6l14.44,7.34v14.69l-14.44,7.34l-14.44,-7.34v-14.69zM1014.6,913.7l14.44,7.34v14.69l-14.44,7.34l-14.44,-7.34v-14.69zM1260.0,979.8l14.44,7.34v14.69l-14.44,7.34l-14.44,-7.34v-14.69zM1043.4,1001.8l14.44,7.34v14.69l-14.44,7.34l-14.44,-7.34v-14.69zM1389.9,1089.9l14.44,7.34v14.69l-14.44,7.34l-14.44,-7.34v-14.69zM899.1,1266.2l14.44,7.34v14.69l-14.44,7.34l-14.44,-7.34v-14.69zM1130.0,1398.4l14.44,7.34v14.69l-14.44,7.34l-14.44,-7.34v-14.69z"/>
<path fill="#f5bd00" stroke="#f5bd00" d="M1332.1,649.3l14.44,7.34v14.69l-14.44,7.34l-14.44,-7.34v-14.69zM1462.1,671.4l14.44,7.34v14.69l-14.44,7.34l-14.44,-7.34v-14.69zM1519.8,671.4l14.44,7.34v14.69l-14.44,7.34l-14.44,-7.34v-14.69zM798.0,847.6l14.44,7.34v14.69l-14.44,7.34l-14.44,-7.34v-14.69zM1202.2,847.6l14.44,7.34v14.69l-14.44,7.34l-14.44,-7.34v-14.69zM1418.8,869.6l14.44,7.34v14.69l-14.44,7.34l-14.44,-7.34v-14.69zM1346.6,979.8l14.44,7.34v14.69l-14.44,7.34l-14.44,-7.34v-14.69zM1375.4,1112.0l14.44,7.34v14.69l-14.44,7.34l-14.44,-7.34v-14.69zM1173.4,1156.0l14.44,7.34v14.69l-14.44,7.34l-14.44,-7.34v-14.69zM956.8,1222.1l14.44,7.34v14.69l-14.44,7.34l-14.44,-7.34v-14.69zM754.7,1266.2l14.44,7.34v14.69l-14.44,7.34l-14.44,-7.34v-14.69zM668.1,1310.2l14.44,7.34v14.69l-14.44,7.34l-14.44,-7.34v-14.69z"/>
<path fill="#f5be00" stroke="#f5be00" d="M754.7,649.3l14.44,7.34v14.69l-14.44,7.34l-14.44,-7.34v-14.69zM1548.7,671.4l14.44,7.34v14.69l-14.44,7.34l-14.44,-7.34v-14.69zM653.7,891.7l14.44,7.34v14.69l-14.44,7.34l-14.44,-7.34v-14.69z"/>
<path fill="#f6be00" stroke="#f6be00" d="M1476.5,473.1l14.44,7.34v14.69l-14.44,7.34l-14.44,-7.34v-14.69zM1563.1,649.3l14.44,7.34v14.69l-14.44,7.34l-14.44,-7.34v-14.69zM1476.5,737.5l14.44,7.34v14.69l-14.44,7.34l-14.44,-7.34v-14.69zM1389.9,869.6l14.44,7.34v14.69l-14.44,7.34l-14.44,-7.34v-14.69zM1346.6,891.7l14.44,7.34v14.69l-14.44,7.34l-14.44,-7.34v-14.69zM1158.9,1001.8l14.44,7.34v14.69l-14.44,7.34l-14.44,-7.34v-14.69zM1231.1,1067.9l14.44,7.34v14.69l-14.44,7.34l-14.44,-7.34v-14.69zM783.6,1178.1l14.44,7.34v14.69l-14.44,7.34l-14.44,-7.34v-14.69zM971.3,1244.1l14.44,7.34v14.69l-14.44,7.34l-14.44,-7.34v-14.69zM1346.6,1288.2l14.44,7.34v14.69l-14.44,7.34l-14.44,-7.34v-14.69zM913.5,1332.3l14.44,7.34v14.69l-14.44,7.34l-14.44,-7.34v-14.69z"/>
<path fill="#f6bf00" stroke="#f6bf00" d="M1158.9,429.0l14.44,7.34v14.69l-14.44,7.34l-14.44,-7.34v-14.69zM1274.4,693.4l14.44,7.34v14.69l-14.44,7.34l-14.44,-7.34v-14.69zM1332.1,913.7l14.44,7.34v14.69l-14.44,7.34l-14.44,-7.34v-14.69zM1389.9,957.8l14.44,7.34v14.69l-14.44,7.34l-14.44,-7.34v-14.69zM942.4,979.8l14.44,7.34v14.69l-14.44,7.34l-14.44,-7.34v-14.69zM913.5,1067.9l14.44,7.34v14.69l-14.44,7.34l-14.44,-7.34v-14.69zM855.8,1112.0l14.44,7.34v14.69l-14.44,7.34l-14.44,-7.34v-14.69zM1361.0,1222.1l14.44,7.34v14.69l-14.44,7.34l-14.44,-7.34v-14.69zM682.6,1332.3l14.44,7.34v14.69l-14.44,7.34l-14.44,-7.34v-14.69z"/>
<path fill="#f6c000" stroke="#f6c000" d="M1375.4,451.1l14.44,7.34v14.69l-14.44,7.34l-14.44,-7.34v-14.69zM1404.3,583.2l14.44,7.34v14.69l-14.44,7.34l-14.44,-7.34v-14.69zM1346.6,935.7l14.44,7.34v14.69l-14.44,7.34l-14.44,-7.34v-14.69zM1101.2,957.8l14.44,7.34v14.69l-14.44,7.34l-14.44,-7.34v-14.69zM1361.0,1001.8l14.44,7.34v14.69l-14.44,7.34l-14.44,-7.34v-14.69zM1389.9,1001.8l14.44,7.34v14.69l-14.44,7.34l-14.44,-7.34v-14.69zM956.8,1089.9l14.44,7.34v14.69l-14.44,7.34l-14.44,-7.34v-14.69zM1043.4,1134.0l14.44,7.34v14.69l-14.44,7.34l-14.44,-7.34v-14.69zM1130.0,1134.0l14.44,7.34v14.69l-14.44,7.34l-14.44,-7.34v-14.69zM1144.5,1244.1l14.44,7.34v14.69l-14.44,7.34l-14.44,-7.34v-14.69zM855.8,1288.2l14.44,7.34v14.69l-14.44,7.34l-14.44,-7.34v-14.69zM769.2,1332.3l14.44,7.34v14.69l-14.44,7.34l-14.44,-7.34v-14.69zM942.4,1332.3l14.44,7.34v14.69l-14.44,7.34l-14.44,-7.34v-14.69z"/>
<path fill="#f6c100" stroke="#f6c100" d="M1101.2,340.9l14.44,7.34v14.69l-14.44,7.34l-14.44,-7.34v-14.69zM1158.9,561.2l14.44,7.34v14.69l-14.44,7.34l-14.44,-7.34v-14.69zM740.3,627.3l14.44,7.34v14.69l-14.44,7.34l-14.44,-7.34v-14.69zM1057.9,891.7l14.44,7.34v14.69l-14.44,7.34l-14.44,-7.34v-14.69zM1274.4,1001.8l14.44,7.34v14.69l-14.44,7.34l-14.44,-7.34v-14.69zM1231.1,1023.8l14.44,7.34v14.69l-14.44,7.34l-14.44,-7.34v-14.69zM870.2,1178.1l14.44,7.34v14.69l-14.44,7.34l-14.44,-7.34v-14.69zM1043.4,1266.2l14.44,7.34v14.69l-14.44,7.34l-14.44,-7.34v-14.69zM884.7,1332.3l14.44,7.34v14.69l-14.44,7.34l-14.44,-7.34v-14.69z"/>
<path fill="#f6c200" stroke="#f6c200" d="M1173.4,539.2l14.44,7.34v14.69l-14.44,7.34l-14.44,-7.34v-14.69zM1361.0,649.3l14.44,7.34v14.69l-14.44,7.34l-14.44,-7.34v-14.69zM1332.1,825.6l14.44,7.34v14.69l-14.44,7.34l-14.44,-7.34v-14.69zM1332.1,957.8l14.44,7.34v14.69l-14.44,7.34l-14.44,-7.34v-14.69zM956.8,1045.9l14.44,7.34v14.69l-14.44,7.34l-14.44,-7.34v-14.69zM1332.1,1045.9l14.44,7.34v14.69l-14.44,7.34l-14.44,-7.34v-14.69zM971.3,1067.9l14.44,7.34v14.69l-14.44,7.34l-14.44,-7.34v-14.69zM884.7,1112.0l14.44,7.34v14.69l-14.44,7.34l-14.44,-7.34v-14.69zM1202.2,1156.0l14.44,7.34v14.69l-14.44,7.34l-14.44,-7.34v-14.69zM1101.2,1222.1l14.44,7.34v14.69l-14.44,7.34l-14.44,-7.34v-14.69zM1303.3,1266.2l14.44,7.34v14.69l-14.44,7.34l-14.44,-7.34v-14.69z"/>
<path fill="#f6c300" stroke="#f6c300" d="M1029.0,451.1l14.44,7.34v14.69l-14.44,7.34l-14.44,-7.34v-14.69zM1404.3,451.1l14.44,7.34v14.69l-14.44,7.34l-14.44,-7.34v-14.69zM1548.7,627.3l14.44,7.34v14.69l-14.44,7.34l-14.44,-7.34v-14.69zM1202.2,759.5l14.44,7.34v14.69l-14.44,7.34l-14.44,-7.34v-14.69zM1216.7,913.7l14.44,7.34v14.69l-14.44,7.34l-14.44,-7.34v-14.69zM1433.2,935.7l14.44,7.34v14.69l-14.44,7.34l-14.44,-7.34v-14.69zM1303.3,1001.8l14.44,7.34v14.69l-14.44,7.34l-14.44,-7.34v-14.69zM1361.0,1045.9l14.44,7.34v14.69l-14.44,7.34l-14.44,-7.34v-14.69zM928.0,1134.0l14.44,7.34v14.69l-14.44,7.34l-14.44,-7.34v-14.69zM1158.9,1178.1l14.44,7.34v14.69l-14.44,7.34l-14.44,-7.34v-14.69zM1130.0,1310.2l14.44,7.34v14.69l-14.44,7.34l-14.44,-7.34v-14.69zM1245.5,1310.2l14.44,7.34v14.69l-14.44,7.34l-14.44,-7.34v-14.69zM1158.9,1398.4l14.44,7.34v14.69l-14.44,7.34l-14.44,-7.34v-14.69z"/>
<path fill="#f7c300" stroke="#f7c300" d="M1202.2,362.9l14.44,7.34v14.69l-14.44,7.34l-14.44,-7.34v-14.69z"/>
<path fill="#f7c400" stroke="#f7c400" d="M1173.4,627.3l14.44,7.34v14.69l-14.44,7.34l-14.44,-7.34v-14.69zM1505.4,649.3l14.44,7.34v14.69l-14.44,7.34l-14.44,-7.34v-14.69zM754.7,693.4l14.44,7.34v14.69l-14.44,7.34l-14.44,-7.34v-14.69zM1505.4,693.4l14.44,7.34v14.69l-14.44,7.34l-14.44,-7.34v-14.69zM1389.9,737.5l14.44,7.34v14.69l-14.44,7.34l-14.44,-7.34v-14.69zM1433.2,803.5l14.44,7.34v14.69l-14.44,7.34l-14.44,-7.34v-14.69zM1173.4,1023.8l14.44,7.34v14.69l-14.44,7.34l-14.44,-7.34v-14.69zM1158.9,1134.0l14.44,7.34v14.69l-14.44,7.34l-14.44,-7.34v-14.69zM624.8,1200.1l14.44,7.34v14.69l-14.44,7.34l-14.44,-7.34v-14.69zM1014.6,1354.3l14.44,7.34v14.69l-14.44,7.34l-14.44,-7.34v-14.69z"/>
<path fill="#f7c500" stroke="#f7c500" d="M942.4,539.2l14.44,7.34v14.69l-14.44,7.34l-14.44,-7.34v-14.69zM1404.3,539.2l14.44,7.34v14.69l-14.44,7.34l-14.44,-7.34v-14.69zM1288.8,1023.8l14.44,7.34v14.69l-14.44,7.34l-14.44,-7.34v-14.69zM1361.0,1178.1l14.44,7.34v14.69l-14.44,7.34l-14.44,-7.34v-14.69zM928.0,1222.1l14.44,7.34v14.69l-14.44,7.34l-14.44,-7.34v-14.69zM956.8,1310.2l14.44,7.34v14.69l-14.44,7.34l-14.44,-7.34v-14.69zM1216.7,1310.2l14.44,7.34v14.69l-14.44,7.34l-14.44,-7.34v-14.69z"/>
<path fill="#f7c600" stroke="#f7c600" d="M1014.6,340.9l14.44,7.34v14.69l-14.44,7.34l-14.44,-7.34v-14.69zM1072.3,340.9l14.44,7.34v14.69l-14.44,7.34l-14.44,-7.34v-14.69zM1057.9,495.1l14.44,7.34v14.69l-14.44,7.34l-14.44,-7.34v-14.69zM1361.0,605.3l14.44,7.34v14.69l-14.44,7.34l-14.44,-7.34v-14.69zM1592.0,605.3l14.44,7.34v14.69l-14.44,7.34l-14.44,-7.34v-14.69zM1433.2,627.3l14.44,7.34v14.69l-14.44,7.34l-14.44,-7.34v-14.69zM1404.3,671.4l14.44,7.34v14.69l-14.44,7.34l-14.44,-7.34v-14.69zM769.2,979.8l14.44,7.34v14.69l-14.44,7.34l-14.44,-7.34v-14.69zM913.5,979.8l14.44,7.34v14.69l-14.44,7.34l-14.44,-7.34v-14.69zM913.5,1023.8l14.44,7.34v14.69l-14.44,7.34l-14.44,-7.34v-14.69zM1447.6,1045.9l14.44,7.34v14.69l-14.44,7.34l-14.44,-7.34v-14.69zM1260.0,1067.9l14.44,7.34v14.69l-14.44,7.34l-14.44,-7.34v-14.69zM1404.3,1200.1l14.44,7.34v14.69l-14.44,7.34l-14.44,-7.34v-14.69zM1433.2,1244.1l14.44,7.34v14.69l-14.44,7.34l-14.44,-7.34v-14.69zM1057.9,1376.3l14.44,7.34v14.69l-14.44,7.34l-14.44,-7.34v-14.69zM1288.8,1376.3l14.44,7.34v14.69l-14.44,7.34l-14.44,-7.34v-14.69z"/>
<path fill="#f7c700" stroke="#f7c700" d="M1086.7,407.0l14.44,7.34v14.69l-14.44,7.34l-14.44,-7.34v-14.69zM1173.4,407.0l14.44,7.34v14.69l-14.44,7.34l-14.44,-7.34v-14.69zM1187.8,429.0l14.44,7.34v14.69l-14.44,7.34l-14.44,-7.34v-14.69zM1346.6,451.1l14.44,7.34v14.69l-14.44,7.34l-14.44,-7.34v-14.69zM1447.6,825.6l14.44,7.34v14.69l-14.44,7.34l-14.44,-7.34v-14.69zM624.8,847.6l14.44,7.34v14.69l-14.44,7.34l-14.44,-7.34v-14.69zM1288.8,847.6l14.44,7.34v14.69l-14.44,7.34l-14.44,-7.34v-14.69zM1389.9,913.7l14.44,7.34v14.69l-14.44,7.34l-14.44,-7.34v-14.69zM1404.3,935.7l14.44,7.34v14.69l-14.44,7.34l-14.44,-7.34v-14.69zM841.4,1001.8l14.44,7.34v14.69l-14.44,7.34l-14.44,-7.34v-14.69zM899.1,1222.1l14.44,7.34v14.69l-14.44,7.34l-14.44,-7.34v-14.69zM1260.0,1376.3l14.44,7.34v14.69l-14.44,7.34l-14.44,-7.34v-14.69z"/>
<path fill="#f7c800" stroke="#f7c800" d="M1462.1,539.2l14.44,7.34v14.69l-14.44,7.34l-14.44,-7.34v-14.69zM1288.8,583.2l14.44,7.34v14.69l-14.44,7.34l-14.44,-7.34v-14.69zM1317.7,715.4l14.44,7.34v14.69l-14.44,7.34l-14.44,-7.34v-14.69zM1288.8,759.5l14.44,7.34v14.69l-14.44,7.34l-14.44,-7.34v-14.69zM1490.9,759.5l14.44,7.34v14.69l-14.44,7.34l-14.44,-7.34v-14.69zM1389.9,781.5l14.44,7.34v14.69l-14.44,7.34l-14.44,-7.34v-14.69zM1418.8,913.7l14.44,7.34v14.69l-14.44,7.34l-14.44,-7.34v-14.69zM1288.8,1067.9l14.44,7.34v14.69l-14.44,7.34l-14.44,-7.34v-14.69zM783.6,1089.9l14.44,7.34v14.69l-14.44,7.34l-14.44,-7.34v-14.69zM1418.8,1089.9l14.44,7.34v14.69l-14.44,7.34l-14.44,-7.34v-14.69zM1144.5,1200.1l14.44,7.34v14.69l-14.44,7.34l-14.44,-7.34v-14.69zM740.3,1244.1l14.44,7.34v14.69l-14.44,7.34l-14.44,-7.34v-14.69zM697.0,1310.2l14.44,7.34v14.69l-14.44,7.34l-14.44,-7.34v-14.69zM899.1,1354.3l14.44,7.34v14.69l-14.44,7.34l-14.44,-7.34v-14.69z"/>
<path fill="#f7c900" stroke="#f7c900" d="M1187.8,385.0l14.44,7.34v14.69l-14.44,7.34l-14.44,-7.34v-14.69zM1418.8,737.5l14.44,7.34v14.69l-14.44,7.34l-14.44,-7.34v-14.69zM899.1,957.8l14.44,7.34v14.69l-14.44,7.34l-14.44,-7.34v-14.69zM1433.2,1200.1l14.44,7.34v14.69l-14.44,7.34l-14.44,-7.34v-14.69zM1346.6,1376.3l14.44,7.34v14.69l-14.44,7.34l-14.44,-7.34v-14.69z"/>
<path fill="#f8c900" stroke="#f8c900" d="M1057.9,627.3l14.44,7.34v14.69l-14.44,7.34l-14.44,-7.34v-14.69zM1462.1,627.3l14.44,7.34v14.69l-14.44,7.34l-14.44,-7.34v-14.69zM1462.1,803.5l14.44,7.34v14.69l-14.44,7.34l-14.44,-7.34v-14.69zM1317.7,935.7l14.44,7.34v14.69l-14.44,7.34l-14.44,-7.34v-14.69zM812.5,1045.9l14.44,7.34v14.69l-14.44,7.34l-14.44,-7.34v-14.69zM1245.5,1089.9l14.44,7.34v14.69l-14.44,7.34l-14.44,-7.34v-14.69zM1375.4,1156.0l14.44,7.34v14.69l-14.44,7.34l-14.44,-7.34v-14.69zM985.7,1222.1l14.44,7.34v14.69l-14.44,7.34l-14.44,-7.34v-14.69z"/>
<path fill="#f8ca00" stroke="#f8ca00" d="M899.1,429.0l14.44,7.34v14.69l-14.44,7.34l-14.44,-7.34v-14.69zM1115.6,495.1l14.44,7.34v14.69l-14.44,7.34l-14.44,-7.34v-14.69zM1303.3,517.2l14.44,7.34v14.69l-14.44,7.34l-14.44,-7.34v-14.69zM1490.9,715.4l14.44,7.34v14.69l-14.44,7.34l-14.44,-7.34v-14.69zM1418.8,825.6l14.44,7.34v14.69l-14.44,7.34l-14.44,-7.34v-14.69zM1462.1,891.7l14.44,7.34v14.69l-14.44,7.34l-14.44,-7.34v-14.69zM639.3,913.7l14.44,7.34v14.69l-14.44,7.34l-14.44,-7.34v-14.69zM754.7,913.7l14.44,7.34v14.69l-14.44,7.34l-14.44,-7.34v-14.69zM1288.8,979.8l14.44,7.34v14.69l-14.44,7.34l-14.44,-7.34v-14.69zM1404.3,1023.8l14.44,7.34v14.69l-14.44,7.34l-14.44,-7.34v-14.69zM1404.3,1067.9l14.44,7.34v14.69l-14.44,7.34l-14.44,-7.34v-14.69zM1144.5,1156.0l14.44,7.34v14.69l-14.44,7.34l-14.44,-7.34v-14.69zM1274.4,1266.2l14.44,7.34v14.69l-14.44,7.34l-14.44,-7.34v-14.69zM1361.0,1266.2l14.44,7.34v14.69l-14.44,7.34l-14.44,-7.34v-14.69z"/>
<path fill="#f8cb00" stroke="#f8cb00" d="M1144.5,362.9l14.44,7.34v14.69l-14.44,7.34l-14.44,-7.34v-14.69zM1231.1,495.1l14.44,7.34v14.69l-14.44,7.34l-14.44,-7.34v-14.69zM1260.0,539.2l14.44,7.34v14.69l-14.44,7.34l-14.44,-7.34v-14.69zM1476.5,1045.9l14.44,7.34v14.69l-14.44,7.34l-14.44,-7.34v-14.69zM1332.1,1089.9l14.44,7.34v14.69l-14.44,7.34l-14.44,-7.34v-14.69zM1014.6,1134.0l14.44,7.34v14.69l-14.44,7.34l-14.44,-7.34v-14.69zM1245.5,1178.1l14.44,7.34v14.69l-14.44,7.34l-14.44,-7.34v-14.69zM1418.8,1222.1l14.44,7.34v14.69l-14.44,7.34l-14.44,-7.34v-14.69zM1173.4,1376.3l14.44,7.34v14.69l-14.44,7.34l-14.44,-7.34v-14.69z"/>
<path fill="#f8cc00" stroke="#f8cc00" d="M1173.4,847.6l14.44,7.34v14.69l-14.44,7.34l-14.44,-7.34v-14.69zM639.3,869.6l14.44,7.34v14.69l-14.44,7.34l-14.44,-7.34v-14.69zM1361.0,913.7l14.44,7.34v14.69l-14.44,7.34l-14.44,-7.34v-14.69zM1418.8,1310.2l14.44,7.34v14.69l-14.44,7.34l-14.44,-7.34v-14.69zM1404.3,1376.3l14.44,7.34v14.69l-14.44,7.34l-14.44,-7.34v-14.69z"/>
<path fill="#f8cd00" stroke="#f8cd00" d="M1447.6,605.3l14.44,7.34v14.69l-14.44,7.34l-14.44,-7.34v-14.69zM1389.9,649.3l14.44,7.34v14.69l-14.44,7.34l-14.44,-7.34v-14.69zM754.7,957.8l14.44,7.34v14.69l-14.44,7.34l-14.44,-7.34v-14.69zM1101.2,1178.1l14.44,7.34v14.69l-14.44,7.34l-14.44,-7.34v-14.69zM1447.6,1178.1l14.44,7.34v14.69l-14.44,7.34l-14.44,-7.34v-14.69zM1057.9,1200.1l14.44,7.34v14.69l-14.44,7.34l-14.44,-7.34v-14.69z"/>
<path fill="#f8ce00" stroke="#f8ce00" d="M1389.9,208.7l14.44,7.34v14.69l-14.44,7.34l-14.44,-7.34v-14.69zM1057.9,274.8l14.44,7.34v14.69l-14.44,7.34l-14.44,-7.34v-14.69zM1086.7,274.8l14.44,7.34v14.69l-14.44,7.34l-14.44,-7.34v-14.69zM1173.4,274.8l14.44,7.34v14.69l-14.44,7.34l-14.44,-7.34v-14.69zM1043.4,296.9l14.44,7.34v14.69l-14.44,7.34l-14.44,-7.34v-14.69zM1130.0,296.9l14.44,7.34v14.69l-14.44,7.34l-14.44,-7.34v-14.69zM1158.9,296.9l14.44,7.34v14.69l-14.44,7.34l-14.44,-7.34v-14.69zM1418.8,296.9l14.44,7.34v14.69l-14.44,7.34l-14.44,-7.34v-14.69zM1505.4,296.9l14.44,7.34v14.69l-14.44,7.34l-14.44,-7.34v-14.69zM1000.1,318.9l14.44,7.34v14.69l-14.44,7.34l-14.44,-7.34v-14.69zM1029.0,318.9l14.44,7.34v14.69l-14.44,7.34l-14.44,-7.34v-14.69zM1057.9,318.9l14.44,7.34v14.69l-14.44,7.34l-14.44,-7.34v-14.69zM1086.7,318.9l14.44,7.34v14.69l-14.44,7.34l-14.44,-7.34v-14.69zM1173.4,318.9l14.44,7.34v14.69l-14.44,7.34l-14.44,-7.34v-14.69zM1260.0,318.9l14.44,7.34v14.69l-14.44,7.34l-14.44,-7.34v-14.69zM1288.8,318.9l14.44,7.34v14.69l-14.44,7.34l-14.44,-7.34v-14.69zM1317.7,318.9l14.44,7.34v14.69l-14.44,7.34l-14.44,-7.34v-14.69zM1375.4,318.9l14.44,7.34v14.69l-14.44,7.34l-14.44,-7.34v-14.69zM1462.1,318.9l14.44,7.34v14.69l-14.44,7.34l-14.44,-7.34v-14.69zM913.5,362.9l14.44,7.34v14.69l-14.44,7.34l-14.44,-7.34v-14.69zM1000.1,362.9l14.44,7.34v14.69l-14.44,7.34l-14.44,-7.34v-14.69zM1029.0,362.9l14.44,7.34v14.69l-14.44,7.34l-14.44,-7.34v-14.69zM1260.0,362.9l14.44,7.34v14.69l-14.44,7.34l-14.44,-7.34v-14.69zM1433.2,362.9l14.44,7.34v14.69l-14.44,7.34l-14.44,-7.34v-14.69zM899.1,385.0l14.44,7.34v14.69l-14.44,7.34l-14.44,-7.34v-14.69zM1014.6,385.0l14.44,7.34v14.69l-14.44,7.34l-14.44,-7.34v-14.69zM1389.9,385.0l14.44,7.34v14.69l-14.44,7.34l-14.44,-7.34v-14.69zM798.0,407.0l14.44,7.34v14.69l-14.44,7.34l-14.44,-7.34v-14.69zM1548.7,407.0l14.44,7.34v14.69l-14.44,7.34l-14.44,-7.34v-14.69zM870.2,429.0l14.44,7.34v14.69l-14.44,7.34l-14.44,-7.34v-14.69zM1274.4,429.0l14.44,7.34v14.69l-14.44,7.34l-14.44,-7.34v-14.69zM1389.9,429.0l14.44,7.34v14.69l-14.44,7.34l-14.44,-7.34v-14.69zM798.0,451.1l14.44,7.34v14.69l-14.44,7.34l-14.44,-7.34v-14.69zM913.5,451.1l14.44,7.34v14.69l-14.44,7.34l-14.44,-7.34v-14.69zM1231.1,451.1l14.44,7.34v14.69l-14.44,7.34l-14.44,-7.34v-14.69zM783.6,473.1l14.44,7.34v14.69l-14.44,7.34l-14.44,-7.34v-14.69zM1592.0,473.1l14.44,7.34v14.69l-14.44,7.34l-14.44,-7.34v-14.69zM1029.0,495.1l14.44,7.34v14.69l-14.44,7.34l-14.44,-7.34v-14.69zM1490.9,495.1l14.44,7.34v14.69l-14.44,7.34l-14.44,-7.34v-14.69zM1577.5,495.1l14.44,7.34v14.69l-14.44,7.34l-14.44,-7.34v-14.69zM1606.4,495.1l14.44,7.34v14.69l-14.44,7.34l-14.44,-7.34v-14.69zM1505.4,517.2l14.44,7.34v14.69l-14.44,7.34l-14.44,-7.34v-14.69zM1534.2,517.2l14.44,7.34v14.69l-14.44,7.34l-14.44,-7.34v-14.69zM1577.5,539.2l14.44,7.34v14.69l-14.44,7.34l-14.44,-7.34v-14.69zM1606.4,539.2l14.44,7.34v14.69l-14.44,7.34l-14.44,-7.34v-14.69zM1592.0,561.2l14.44,7.34v14.69l-14.44,7.34l-14.44,-7.34v-14.69zM1519.8,583.2l14.44,7.34v14.69l-14.44,7.34l-14.44,-7.34v-14.69zM1635.3,583.2l14.44,7.34v14.69l-14.44,7.34l-14.44,-7.34v-14.69zM639.3,605.3l14.44,7.34v14.69l-14.44,7.34l-14.44,-7.34v-14.69zM682.6,627.3l14.44,7.34v14.69l-14.44,7.34l-14.44,-7.34v-14.69zM668.1,649.3l14.44,7.34v14.69l-14.44,7.34l-14.44,-7.34v-14.69zM697.0,649.3l14.44,7.34v14.69l-14.44,7.34l-14.44,-7.34v-14.69zM480.5,671.4l14.44,7.34v14.69l-14.44,7.34l-14.44,-7.34v-14.69zM451.6,715.4l14.44,7.34v14.69l-14.44,7.34l-14.44,-7.34v-14.69zM624.8,715.4l14.44,7.34v14.69l-14.44,7.34l-14.44,-7.34v-14.69zM653.7,715.4l14.44,7.34v14.69l-14.44,7.34l-14.44,-7.34v-14.69zM408.3,737.5l14.44,7.34v14.69l-14.44,7.34l-14.44,-7.34v-14.69zM668.1,737.5l14.44,7.34v14.69l-14.44,7.34l-14.44,-7.34v-14.69zM1620.8,737.5l14.44,7.34v14.69l-14.44,7.34l-14.44,-7.34v-14.69zM422.7,759.5l14.44,7.34v14.69l-14.44,7.34l-14.44,-7.34v-14.69zM480.5,759.5l14.44,7.34v14.69l-14.44,7.34l-14.44,-7.34v-14.69zM1548.7,759.5l14.44,7.34v14.69l-14.44,7.34l-14.44,-7.34v-14.69zM1577.5,759.5l14.44,7.34v14.69l-14.44,7.34l-14.44,-7.34v-14.69zM350.6,781.5l14.44,7.34v14.69l-14.44,7.34l-14.44,-7.34v-14.69zM466.0,781.5l14.44,7.34v14.69l-14.44,7.34l-14.44,-7.34v-14.69zM494.9,781.5l14.44,7.34v14.69l-14.44,7.34l-14.44,-7.34v-14.69zM365.0,803.5l14.44,7.34v14.69l-14.44,7.34l-14.44,-7.34v-14.69zM292.8,825.6l14.44,7.34v14.69l-14.44,7.34l-14.44,-7.34v-14.69zM437.2,825.6l14.44,7.34v14.69l-14.44,7.34l-14.44,-7.34v-14.69zM494.9,825.6l14.44,7.34v14.69l-14.44,7.34l-14.44,-7.34v-14.69zM552.6,825.6l14.44,7.34v14.69l-14.44,7.34l-14.44,-7.34v-14.69zM639.3,825.6l14.44,7.34v14.69l-14.44,7.34l-14.44,-7.34v-14.69zM1736.3,825.6l14.44,7.34v14.69l-14.44,7.34l-14.44,-7.34v-14.69zM278.4,847.6l14.44,7.34v14.69l-14.44,7.34l-14.44,-7.34v-14.69zM336.1,847.6l14.44,7.34v14.69l-14.44,7.34l-14.44,-7.34v-14.69zM422.7,847.6l14.44,7.34v14.69l-14.44,7.34l-14.44,-7.34v-14.69zM451.6,847.6l14.44,7.34v14.69l-14.44,7.34l-14.44,-7.34v-14.69zM1664.1,847.6l14.44,7.34v14.69l-14.44,7.34l-14.44,-7.34v-14.69zM1837.4,847.6l14.44,7.34v14.69l-14.44,7.34l-14.44,-7.34v-14.69zM1866.2,847.6l14.44,7.34v14.69l-14.44,7.34l-14.44,-7.34v-14.69zM263.9,869.6l14.44,7.34v14.69l-14.44,7.34l-14.44,-7.34v-14.69zM292.8,869.6l14.44,7.34v14.69l-14.44,7.34l-14.44,-7.34v-14.69zM321.7,869.6l14.44,7.34v14.69l-14.44,7.34l-14.44,-7.34v-14.69zM350.6,869.6l14.44,7.34v14.69l-14.44,7.34l-14.44,-7.34v-14.69zM494.9,869.6l14.44,7.34v14.69l-14.44,7.34l-14.44,-7.34v-14.69zM1765.2,869.6l14.44,7.34v14.69l-14.44,7.34l-14.44,-7.34v-14.69zM1794.1,869.6l14.44,7.34v14.69l-14.44,7.34l-14.44,-7.34v-14.69zM1851.8,869.6l14.44,7.34v14.69l-14.44,7.34l-14.44,-7.34v-14.69zM278.4,891.7l14.44,7.34v14.69l-14.44,7.34l-14.44,-7.34v-14.69zM307.3,891.7l14.44,7.34v14.69l-14.44,7.34l-14.44,-7.34v-14.69zM393.9,891.7l14.44,7.34v14.69l-14.44,7.34l-14.44,-7.34v-14.69zM1519.8,891.7l14.44,7.34v14.69l-14.44,7.34l-14.44,-7.34v-14.69zM1548.7,891.7l14.44,7.34v14.69l-14.44,7.34l-14.44,-7.34v-14.69zM1664.1,891.7l14.44,7.34v14.69l-14.44,7.34l-14.44,-7.34v-14.69zM1750.8,891.7l14.44,7.34v14.69l-14.44,7.34l-14.44,-7.34v-14.69zM1779.6,891.7l14.44,7.34v14.69l-14.44,7.34l-14.44,-7.34v-14.69zM1837.4,891.7l14.44,7.34v14.69l-14.44,7.34l-14.44,-7.34v-14.69zM235.1,913.7l14.44,7.34v14.69l-14.44,7.34l-14.44,-7.34v-14.69zM466.0,913.7l14.44,7.34v14.69l-14.44,7.34l-14.44,-7.34v-14.69zM1649.7,913.7l14.44,7.34v14.69l-14.44,7.34l-14.44,-7.34v-14.69zM1678.6,913.7l14.44,7.34v14.69l-14.44,7.34l-14.44,-7.34v-14.69zM307.3,935.7l14.44,7.34v14.69l-14.44,7.34l-14.44,-7.34v-14.69zM451.6,935.7l14.44,7.34v14.69l-14.44,7.34l-14.44,-7.34v-14.69zM480.5,935.7l14.44,7.34v14.69l-14.44,7.34l-14.44,-7.34v-14.69zM624.8,935.7l14.44,7.34v14.69l-14.44,7.34l-14.44,-7.34v-14.69zM1721.9,935.7l14.44,7.34v14.69l-14.44,7.34l-14.44,-7.34v-14.69zM263.9,957.8l14.44,7.34v14.69l-14.44,7.34l-14.44,-7.34v-14.69zM466.0,957.8l14.44,7.34v14.69l-14.44,7.34l-14.44,-7.34v-14.69zM220.6,979.8l14.44,7.34v14.69l-14.44,7.34l-14.44,-7.34v-14.69zM249.5,979.8l14.44,7.34v14.69l-14.44,7.34l-14.44,-7.34v-14.69zM278.4,979.8l14.44,7.34v14.69l-14.44,7.34l-14.44,-7.34v-14.69zM624.8,979.8l14.44,7.34v14.69l-14.44,7.34l-14.44,-7.34v-14.69zM1779.6,979.8l14.44,7.34v14.69l-14.44,7.34l-14.44,-7.34v-14.69zM263.9,1001.8l14.44,7.34v14.69l-14.44,7.34l-14.44,-7.34v-14.69zM668.1,1001.8l14.44,7.34v14.69l-14.44,7.34l-14.44,-7.34v-14.69zM220.6,1023.8l14.44,7.34v14.69l-14.44,7.34l-14.44,-7.34v-14.69zM278.4,1023.8l14.44,7.34v14.69l-14.44,7.34l-14.44,-7.34v-14.69zM624.8,1023.8l14.44,7.34v14.69l-14.44,7.34l-14.44,-7.34v-14.69zM682.6,1023.8l14.44,7.34v14.69l-14.44,7.34l-14.44,-7.34v-14.69zM235.1,1045.9l14.44,7.34v14.69l-14.44,7.34l-14.44,-7.34v-14.69zM263.9,1045.9l14.44,7.34v14.69l-14.44,7.34l-14.44,-7.34v-14.69zM321.7,1045.9l14.44,7.34v14.69l-14.44,7.34l-14.44,-7.34v-14.69zM437.2,1045.9l14.44,7.34v14.69l-14.44,7.34l-14.44,-7.34v-14.69zM466.0,1045.9l14.44,7.34v14.69l-14.44,7.34l-14.44,-7.34v-14.69zM610.4,1045.9l14.44,7.34v14.69l-14.44,7.34l-14.44,-7.34v-14.69zM336.1,1067.9l14.44,7.34v14.69l-14.44,7.34l-14.44,-7.34v-14.69zM538.2,1067.9l14.44,7.34v14.69l-14.44,7.34l-14.44,-7.34v-14.69zM379.4,1089.9l14.44,7.34v14.69l-14.44,7.34l-14.44,-7.34v-14.69zM437.2,1089.9l14.44,7.34v14.69l-14.44,7.34l-14.44,-7.34v-14.69zM610.4,1089.9l14.44,7.34v14.69l-14.44,7.34l-14.44,-7.34v-14.69zM1216.7,1089.9l14.44,7.34v14.69l-14.44,7.34l-14.44,-7.34v-14.69zM307.3,1112.0l14.44,7.34v14.69l-14.44,7.34l-14.44,-7.34v-14.69zM393.9,1112.0l14.44,7.34v14.69l-14.44,7.34l-14.44,-7.34v-14.69zM451.6,1112.0l14.44,7.34v14.69l-14.44,7.34l-14.44,-7.34v-14.69zM509.3,1112.0l14.44,7.34v14.69l-14.44,7.34l-14.44,-7.34v-14.69zM567.1,1112.0l14.44,7.34v14.69l-14.44,7.34l-14.44,-7.34v-14.69zM1721.9,1112.0l14.44,7.34v14.69l-14.44,7.34l-14.44,-7.34v-14.69zM379.4,1134.0l14.44,7.34v14.69l-14.44,7.34l-14.44,-7.34v-14.69zM437.2,1134.0l14.44,7.34v14.69l-14.44,7.34l-14.44,-7.34v-14.69zM422.7,1156.0l14.44,7.34v14.69l-14.44,7.34l-14.44,-7.34v-14.69zM480.5,1156.0l14.44,7.34v14.69l-14.44,7.34l-14.44,-7.34v-14.69zM1693.0,1156.0l14.44,7.34v14.69l-14.44,7.34l-14.44,-7.34v-14.69zM466.0,1178.1l14.44,7.34v14.69l-14.44,7.34l-14.44,-7.34v-14.69zM581.5,1222.1l14.44,7.34v14.69l-14.44,7.34l-14.44,-7.34v-14.69zM682.6,1244.1l14.44,7.34v14.69l-14.44,7.34l-14.44,-7.34v-14.69zM624.8,1288.2l14.44,7.34v14.69l-14.44,7.34l-14.44,-7.34v-14.69zM1043.4,1310.2l14.44,7.34v14.69l-14.44,7.34l-14.44,-7.34v-14.69zM668.1,1354.3l14.44,7.34v14.69l-14.44,7.34l-14.44,-7.34v-14.69zM884.7,1376.3l14.44,7.34v14.69l-14.44,7.34l-14.44,-7.34v-14.69zM639.3,1398.4l14.44,7.34v14.69l-14.44,7.34l-14.44,-7.34v-14.69zM668.1,1398.4l14.44,7.34v14.69l-14.44,7.34l-14.44,-7.34v-14.69zM697.0,1398.4l14.44,7.34v14.69l-14.44,7.34l-14.44,-7.34v-14.69zM1245.5,1398.4l14.44,7.34v14.69l-14.44,7.34l-14.44,-7.34v-14.69zM1274.4,1398.4l14.44,7.34v14.69l-14.44,7.34l-14.44,-7.34v-14.69zM1303.3,1398.4l14.44,7.34v14.69l-14.44,7.34l-14.44,-7.34v-14.69zM1361.0,1398.4l14.44,7.34v14.69l-14.44,7.34l-14.44,-7.34v-14.69zM913.5,1420.4l14.44,7.34v14.69l-14.44,7.34l-14.44,-7.34v-14.69zM1057.9,1420.4l14.44,7.34v14.69l-14.44,7.34l-14.44,-7.34v-14.69zM1231.1,1420.4l14.44,7.34v14.69l-14.44,7.34l-14.44,-7.34v-14.69zM1260.0,1420.4l14.44,7.34v14.69l-14.44,7.34l-14.44,-7.34v-14.69zM1317.7,1420.4l14.44,7.34v14.69l-14.44,7.34l-14.44,-7.34v-14.69zM1346.6,1420.4l14.44,7.34v14.69l-14.44,7.34l-14.44,-7.34v-14.69zM1375.4,1420.4l14.44,7.34v14.69l-14.44,7.34l-14.44,-7.34v-14.69zM928.0,1442.4l14.44,7.34v14.69l-14.44,7.34l-14.44,-7.34v-14.69zM1332.1,1442.4l14.44,7.34v14.69l-14.44,7.34l-14.44,-7.34v-14.69zM1361.0,1442.4l14.44,7.34v14.69l-14.44,7.34l-14.44,-7.34v-14.69zM1389.9,1442.4l14.44,7.34v14.69l-14.44,7.34l-14.44,-7.34v-14.69zM1418.8,1442.4l14.44,7.34v14.69l-14.44,7.34l-14.44,-7.34v-14.69zM884.7,1464.4l14.44,7.34v14.69l-14.44,7.34l-14.44,-7.34v-14.69zM1029.0,1464.4l14.44,7.34v14.69l-14.44,7.34l-14.44,-7.34v-14.69zM1057.9,1464.4l14.44,7.34v14.69l-14.44,7.34l-14.44,-7.34v-14.69zM1115.6,1464.4l14.44,7.34v14.69l-14.44,7.34l-14.44,-7.34v-14.69zM1144.5,1464.4l14.44,7.34v14.69l-14.44,7.34l-14.44,-7.34v-14.69zM1173.4,1464.4l14.44,7.34v14.69l-14.44,7.34l-14.44,-7.34v-14.69zM1231.1,1464.4l14.44,7.34v14.69l-14.44,7.34l-14.44,-7.34v-14.69zM1260.0,1464.4l14.44,7.34v14.69l-14.44,7.34l-14.44,-7.34v-14.69zM1288.8,1464.4l14.44,7.34v14.69l-14.44,7.34l-14.44,-7.34v-14.69zM1317.7,1464.4l14.44,7.34v14.69l-14.44,7.34l-14.44,-7.34v-14.69zM1375.4,1464.4l14.44,7.34v14.69l-14.44,7.34l-14.44,-7.34v-14.69zM1101.2,1486.5l14.44,7.34v14.69l-14.44,7.34l-14.44,-7.34v-14.69zM1158.9,1486.5l14.44,7.34v14.69l-14.44,7.34l-14.44,-7.34v-14.69zM1216.7,1486.5l14.44,7.34v14.69l-14.44,7.34l-14.44,-7.34v-14.69zM1389.9,1486.5l14.44,7.34v14.69l-14.44,7.34l-14.44,-7.34v-14.69zM798.0,1508.5l14.44,7.34v14.69l-14.44,7.34l-14.44,-7.34v-14.69zM884.7,1508.5l14.44,7.34v14.69l-14.44,7.34l-14.44,-7.34v-14.69zM971.3,1508.5l14.44,7.34v14.69l-14.44,7.34l-14.44,-7.34v-14.69zM1115.6,1508.5l14.44,7.34v14.69l-14.44,7.34l-14.44,-7.34v-14.69zM1173.4,1508.5l14.44,7.34v14.69l-14.44,7.34l-14.44,-7.34v-14.69zM1202.2,1508.5l14.44,7.34v14.69l-14.44,7.34l-14.44,-7.34v-14.69zM1260.0,1508.5l14.44,7.34v14.69l-14.44,7.34l-14.44,-7.34v-14.69zM1317.7,1508.5l14.44,7.34v14.69l-14.44,7.34l-14.44,-7.34v-14.69zM1346.6,1508.5l14.44,7.34v14.69l-14.44,7.34l-14.44,-7.34v-14.69zM841.4,1530.5l14.44,7.34v14.69l-14.44,7.34l-14.44,-7.34v-14.69zM956.8,1530.5l14.44,7.34v14.69l-14.44,7.34l-14.44,-7.34v-14.69zM1014.6,1530.5l14.44,7.34v14.69l-14.44,7.34l-14.44,-7.34v-14.69zM1043.4,1530.5l14.44,7.34v14.69l-14.44,7.34l-14.44,-7.34v-14.69zM1101.2,1530.5l14.44,7.34v14.69l-14.44,7.34l-14.44,-7.34v-14.69zM1130.0,1530.5l14.44,7.34v14.69l-14.44,7.34l-14.44,-7.34v-14.69zM1418.8,1530.5l14.44,7.34v14.69l-14.44,7.34l-14.44,-7.34v-14.69zM1476.5,1530.5l14.44,7.34v14.69l-14.44,7.34l-14.44,-7.34v-14.69zM798.0,1552.6l14.44,7.34v14.69l-14.44,7.34l-14.44,-7.34v-14.69zM913.5,1552.6l14.44,7.34v14.69l-14.44,7.34l-14.44,-7.34v-14.69zM942.4,1552.6l14.44,7.34v14.69l-14.44,7.34l-14.44,-7.34v-14.69zM971.3,1552.6l14.44,7.34v14.69l-14.44,7.34l-14.44,-7.34v-14.69zM1086.7,1552.6l14.44,7.34v14.69l-14.44,7.34l-14.44,-7.34v-14.69zM1173.4,1552.6l14.44,7.34v14.69l-14.44,7.34l-14.44,-7.34v-14.69zM1375.4,1552.6l14.44,7.34v14.69l-14.44,7.34l-14.44,-7.34v-14.69zM870.2,1574.6l14.44,7.34v14.69l-14.44,7.34l-14.44,-7.34v-14.69zM899.1,1574.6l14.44,7.34v14.69l-14.44,7.34l-14.44,-7.34v-14.69zM928.0,1574.6l14.44,7.34v14.69l-14.44,7.34l-14.44,-7.34v-14.69zM1043.4,1574.6l14.44,7.34v14.69l-14.44,7.34l-14.44,-7.34v-14.69zM1245.5,1574.6l14.44,7.34v14.69l-14.44,7.34l-14.44,-7.34v-14.69zM1303.3,1574.6l14.44,7.34v14.69l-14.44,7.34l-14.44,-7.34v-14.69zM1418.8,1574.6l14.44,7.34v14.69l-14.44,7.34l-14.44,-7.34v-14.69zM1057.9,1596.6l14.44,7.34v14.69l-14.44,7.34l-14.44,-7.34v-14.69zM1317.7,1596.6l14.44,7.34v14.69l-14.44,7.34l-14.44,-7.34v-14.69zM870.2,1618.7l14.44,7.34v14.69l-14.44,7.34l-14.44,-7.34v-14.69zM899.1,1662.7l14.44,7.34v14.69l-14.44,7.34l-14.44,-7.34v-14.69z"/>
<path fill="#f8cf00" stroke="#f8cf00" d="M1649.7,957.8l14.44,7.34v14.69l-14.44,7.34l-14.44,-7.34v-14.69z"/>
<path fill="#f9cf00" stroke="#f9cf00" d="M1245.5,473.1l14.44,7.34v14.69l-14.44,7.34l-14.44,-7.34v-14.69zM1389.9,825.6l14.44,7.34v14.69l-14.44,7.34l-14.44,-7.34v-14.69zM1462.1,1023.8l14.44,7.34v14.69l-14.44,7.34l-14.44,-7.34v-14.69zM1433.2,1067.9l14.44,7.34v14.69l-14.44,7.34l-14.44,-7.34v-14.69zM812.5,1089.9l14.44,7.34v14.69l-14.44,7.34l-14.44,-7.34v-14.69zM928.0,1089.9l14.44,7.34v14.69l-14.44,7.34l-14.44,-7.34v-14.69zM1519.8,1332.3l14.44,7.34v14.69l-14.44,7.34l-14.44,-7.34v-14.69zM740.3,1376.3l14.44,7.34v14.69l-14.44,7.34l-14.44,-7.34v-14.69zM1490.9,1376.3l14.44,7.34v14.69l-14.44,7.34l-14.44,-7.34v-14.69z"/>
<path fill="#f9d000" stroke="#f9d000" d="M1462.1,451.1l14.44,7.34v14.69l-14.44,7.34l-14.44,-7.34v-14.69zM1418.8,561.2l14.44,7.34v14.69l-14.44,7.34l-14.44,-7.34v-14.69zM841.4,1045.9l14.44,7.34v14.69l-14.44,7.34l-14.44,-7.34v-14.69zM1433.2,1156.0l14.44,7.34v14.69l-14.44,7.34l-14.44,-7.34v-14.69zM1519.8,1156.0l14.44,7.34v14.69l-14.44,7.34l-14.44,-7.34v-14.69zM1000.1,1244.1l14.44,7.34v14.69l-14.44,7.34l-14.44,-7.34v-14.69zM783.6,1310.2l14.44,7.34v14.69l-14.44,7.34l-14.44,-7.34v-14.69zM928.0,1310.2l14.44,7.34v14.69l-14.44,7.34l-14.44,-7.34v-14.69zM971.3,1332.3l14.44,7.34v14.69l-14.44,7.34l-14.44,-7.34v-14.69zM928.0,1354.3l14.44,7.34v14.69l-14.44,7.34l-14.44,-7.34v-14.69zM624.8,1376.3l14.44,7.34v14.69l-14.44,7.34l-14.44,-7.34v-14.69zM1433.2,1376.3l14.44,7.34v14.69l-14.44,7.34l-14.44,-7.34v-14.69z"/>
<path fill="#f9d100" stroke="#f9d100" d="M711.4,627.3l14.44,7.34v14.69l-14.44,7.34l-14.44,-7.34v-14.69zM1490.9,1023.8l14.44,7.34v14.69l-14.44,7.34l-14.44,-7.34v-14.69zM1086.7,1112.0l14.44,7.34v14.69l-14.44,7.34l-14.44,-7.34v-14.69zM1029.0,1200.1l14.44,7.34v14.69l-14.44,7.34l-14.44,-7.34v-14.69zM1476.5,1222.1l14.44,7.34v14.69l-14.44,7.34l-14.44,-7.34v-14.69zM725.9,1310.2l14.44,7.34v14.69l-14.44,7.34l-14.44,-7.34v-14.69zM1260.0,1332.3l14.44,7.34v14.69l-14.44,7.34l-14.44,-7.34v-14.69z"/>
<path fill="#f9d200" stroke="#f9d200" d="M956.8,1134.0l14.44,7.34v14.69l-14.44,7.34l-14.44,-7.34v-14.69zM754.7,1222.1l14.44,7.34v14.69l-14.44,7.34l-14.44,-7.34v-14.69zM1173.4,1244.1l14.44,7.34v14.69l-14.44,7.34l-14.44,-7.34v-14.69zM1490.9,1288.2l14.44,7.34v14.69l-14.44,7.34l-14.44,-7.34v-14.69zM1043.4,1354.3l14.44,7.34v14.69l-14.44,7.34l-14.44,-7.34v-14.69zM913.5,1376.3l14.44,7.34v14.69l-14.44,7.34l-14.44,-7.34v-14.69z"/>
<path fill="#f9d300" stroke="#f9d300" d="M610.4,913.7l14.44,7.34v14.69l-14.44,7.34l-14.44,-7.34v-14.69zM1101.2,1089.9l14.44,7.34v14.69l-14.44,7.34l-14.44,-7.34v-14.69zM1072.3,1178.1l14.44,7.34v14.69l-14.44,7.34l-14.44,-7.34v-14.69zM1158.9,1354.3l14.44,7.34v14.69l-14.44,7.34l-14.44,-7.34v-14.69z"/>
<path fill="#f9d400" stroke="#f9d400" d="M769.2,583.2l14.44,7.34v14.69l-14.44,7.34l-14.44,-7.34v-14.69zM1418.8,1001.8l14.44,7.34v14.69l-14.44,7.34l-14.44,-7.34v-14.69zM870.2,1089.9l14.44,7.34v14.69l-14.44,7.34l-14.44,-7.34v-14.69zM841.4,1178.1l14.44,7.34v14.69l-14.44,7.34l-14.44,-7.34v-14.69zM841.4,1266.2l14.44,7.34v14.69l-14.44,7.34l-14.44,-7.34v-14.69zM1404.3,1332.3l14.44,7.34v14.69l-14.44,7.34l-14.44,-7.34v-14.69z"/>
<path fill="#fad400" stroke="#fad400" d="M1274.4,1310.2l14.44,7.34v14.69l-14.44,7.34l-14.44,-7.34v-14.69zM1375.4,1332.3l14.44,7.34v14.69l-14.44,7.34l-14.44,-7.34v-14.69z"/>
<path fill="#fad500" stroke="#fad500" d="M1404.3,715.4l14.44,7.34v14.69l-14.44,7.34l-14.44,-7.34v-14.69zM1765.2,957.8l14.44,7.34v14.69l-14.44,7.34l-14.44,-7.34v-14.69zM1418.8,1045.9l14.44,7.34v14.69l-14.44,7.34l-14.44,-7.34v-14.69zM1476.5,1089.9l14.44,7.34v14.69l-14.44,7.34l-14.44,-7.34v-14.69zM769.2,1244.1l14.44,7.34v14.69l-14.44,7.34l-14.44,-7.34v-14.69zM884.7,1244.1l14.44,7.34v14.69l-14.44,7.34l-14.44,-7.34v-14.69zM1029.0,1244.1l14.44,7.34v14.69l-14.44,7.34l-14.44,-7.34v-14.69zM1115.6,1244.1l14.44,7.34v14.69l-14.44,7.34l-14.44,-7.34v-14.69zM985.7,1266.2l14.44,7.34v14.69l-14.44,7.34l-14.44,-7.34v-14.69zM1029.0,1288.2l14.44,7.34v14.69l-14.44,7.34l-14.44,-7.34v-14.69zM1086.7,1332.3l14.44,7.34v14.69l-14.44,7.34l-14.44,-7.34v-14.69z"/>
<path fill="#fad600" stroke="#fad600" d="M1274.4,517.2l14.44,7.34v14.69l-14.44,7.34l-14.44,-7.34v-14.69zM754.7,605.3l14.44,7.34v14.69l-14.44,7.34l-14.44,-7.34v-14.69zM711.4,759.5l14.44,7.34v14.69l-14.44,7.34l-14.44,-7.34v-14.69zM697.0,913.7l14.44,7.34v14.69l-14.44,7.34l-14.44,-7.34v-14.69zM1274.4,1089.9l14.44,7.34v14.69l-14.44,7.34l-14.44,-7.34v-14.69zM1216.7,1178.1l14.44,7.34v14.69l-14.44,7.34l-14.44,-7.34v-14.69zM1317.7,1200.1l14.44,7.34v14.69l-14.44,7.34l-14.44,-7.34v-14.69zM956.8,1266.2l14.44,7.34v14.69l-14.44,7.34l-14.44,-7.34v-14.69zM1101.2,1266.2l14.44,7.34v14.69l-14.44,7.34l-14.44,-7.34v-14.69zM1721.9,1332.3l14.44,7.34v14.69l-14.44,7.34l-14.44,-7.34v-14.69zM653.7,1376.3l14.44,7.34v14.69l-14.44,7.34l-14.44,-7.34v-14.69z"/>
<path fill="#fad700" stroke="#fad700" d="M1447.6,693.4l14.44,7.34v14.69l-14.44,7.34l-14.44,-7.34v-14.69zM1534.2,693.4l14.44,7.34v14.69l-14.44,7.34l-14.44,-7.34v-14.69zM725.9,825.6l14.44,7.34v14.69l-14.44,7.34l-14.44,-7.34v-14.69zM1130.0,1266.2l14.44,7.34v14.69l-14.44,7.34l-14.44,-7.34v-14.69zM1216.7,1266.2l14.44,7.34v14.69l-14.44,7.34l-14.44,-7.34v-14.69zM1173.4,1288.2l14.44,7.34v14.69l-14.44,7.34l-14.44,-7.34v-14.69zM1029.0,1332.3l14.44,7.34v14.69l-14.44,7.34l-14.44,-7.34v-14.69zM1577.5,1332.3l14.44,7.34v14.69l-14.44,7.34l-14.44,-7.34v-14.69zM1592.0,1398.4l14.44,7.34v14.69l-14.44,7.34l-14.44,-7.34v-14.69z"/>
<path fill="#fad800" stroke="#fad800" d="M1346.6,583.2l14.44,7.34v14.69l-14.44,7.34l-14.44,-7.34v-14.69zM1577.5,627.3l14.44,7.34v14.69l-14.44,7.34l-14.44,-7.34v-14.69zM624.8,759.5l14.44,7.34v14.69l-14.44,7.34l-14.44,-7.34v-14.69zM1505.4,1001.8l14.44,7.34v14.69l-14.44,7.34l-14.44,-7.34v-14.69zM769.2,1112.0l14.44,7.34v14.69l-14.44,7.34l-14.44,-7.34v-14.69zM1389.9,1178.1l14.44,7.34v14.69l-14.44,7.34l-14.44,-7.34v-14.69zM1462.1,1244.1l14.44,7.34v14.69l-14.44,7.34l-14.44,-7.34v-14.69zM1144.5,1332.3l14.44,7.34v14.69l-14.44,7.34l-14.44,-7.34v-14.69zM812.5,1354.3l14.44,7.34v14.69l-14.44,7.34l-14.44,-7.34v-14.69zM1505.4,1354.3l14.44,7.34v14.69l-14.44,7.34l-14.44,-7.34v-14.69z"/>
<path fill="#fad900" stroke="#fad900" d="M1433.2,671.4l14.44,7.34v14.69l-14.44,7.34l-14.44,-7.34v-14.69zM725.9,913.7l14.44,7.34v14.69l-14.44,7.34l-14.44,-7.34v-14.69zM826.9,1112.0l14.44,7.34v14.69l-14.44,7.34l-14.44,-7.34v-14.69zM783.6,1266.2l14.44,7.34v14.69l-14.44,7.34l-14.44,-7.34v-14.69zM1317.7,1288.2l14.44,7.34v14.69l-14.44,7.34l-14.44,-7.34v-14.69zM1115.6,1332.3l14.44,7.34v14.69l-14.44,7.34l-14.44,-7.34v-14.69zM1202.2,1332.3l14.44,7.34v14.69l-14.44,7.34l-14.44,-7.34v-14.69zM956.8,1354.3l14.44,7.34v14.69l-14.44,7.34l-14.44,-7.34v-14.69z"/>
<path fill="#fada00" stroke="#fada00" d="M1563.1,693.4l14.44,7.34v14.69l-14.44,7.34l-14.44,-7.34v-14.69zM1303.3,1089.9l14.44,7.34v14.69l-14.44,7.34l-14.44,-7.34v-14.69zM1288.8,1112.0l14.44,7.34v14.69l-14.44,7.34l-14.44,-7.34v-14.69zM1519.8,1112.0l14.44,7.34v14.69l-14.44,7.34l-14.44,-7.34v-14.69zM1462.1,1156.0l14.44,7.34v14.69l-14.44,7.34l-14.44,-7.34v-14.69z"/>
<path fill="#fadb00" stroke="#fadb00" d="M711.4,1067.9l14.44,7.34v14.69l-14.44,7.34l-14.44,-7.34v-14.69zM1462.1,1067.9l14.44,7.34v14.69l-14.44,7.34l-14.44,-7.34v-14.69zM1750.8,1288.2l14.44,7.34v14.69l-14.44,7.34l-14.44,-7.34v-14.69zM725.9,1354.3l14.44,7.34v14.69l-14.44,7.34l-14.44,-7.34v-14.69z"/>
<path fill="#fbdb00" stroke="#fbdb00" d="M1173.4,1067.9l14.44,7.34v14.69l-14.44,7.34l-14.44,-7.34v-14.69zM1765.2,1310.2l14.44,7.34v14.69l-14.44,7.34l-14.44,-7.34v-14.69zM653.7,1332.3l14.44,7.34v14.69l-14.44,7.34l-14.44,-7.34v-14.69zM985.7,1354.3l14.44,7.34v14.69l-14.44,7.34l-14.44,-7.34v-14.69z"/>
<path fill="#fbdc00" stroke="#fbdc00" d="M1101.2,1134.0l14.44,7.34v14.69l-14.44,7.34l-14.44,-7.34v-14.69zM1361.0,1134.0l14.44,7.34v14.69l-14.44,7.34l-14.44,-7.34v-14.69zM1389.9,1134.0l14.44,7.34v14.69l-14.44,7.34l-14.44,-7.34v-14.69zM1043.4,1222.1l14.44,7.34v14.69l-14.44,7.34l-14.44,-7.34v-14.69zM798.0,1244.1l14.44,7.34v14.69l-14.44,7.34l-14.44,-7.34v-14.69zM1000.1,1332.3l14.44,7.34v14.69l-14.44,7.34l-14.44,-7.34v-14.69z"/>
<path fill="#fbdd00" stroke="#fbdd00" d="M1563.1,605.3l14.44,7.34v14.69l-14.44,7.34l-14.44,-7.34v-14.69zM798.0,1112.0l14.44,7.34v14.69l-14.44,7.34l-14.44,-7.34v-14.69zM1115.6,1112.0l14.44,7.34v14.69l-14.44,7.34l-14.44,-7.34v-14.69zM1202.2,1200.1l14.44,7.34v14.69l-14.44,7.34l-14.44,-7.34v-14.69zM783.6,1354.3l14.44,7.34v14.69l-14.44,7.34l-14.44,-7.34v-14.69z"/>
<path fill="#fbde00" stroke="#fbde00" d="M1389.9,693.4l14.44,7.34v14.69l-14.44,7.34l-14.44,-7.34v-14.69zM1332.1,1134.0l14.44,7.34v14.69l-14.44,7.34l-14.44,-7.34v-14.69zM1563.1,1178.1l14.44,7.34v14.69l-14.44,7.34l-14.44,-7.34v-14.69zM1057.9,1244.1l14.44,7.34v14.69l-14.44,7.34l-14.44,-7.34v-14.69zM1519.8,1244.1l14.44,7.34v14.69l-14.44,7.34l-14.44,-7.34v-14.69zM725.9,1266.2l14.44,7.34v14.69l-14.44,7.34l-14.44,-7.34v-14.69zM1462.1,1332.3l14.44,7.34v14.69l-14.44,7.34l-14.44,-7.34v-14.69zM1375.4,1376.3l14.44,7.34v14.69l-14.44,7.34l-14.44,-7.34v-14.69z"/>
<path fill="#fbdf00" stroke="#fbdf00" d="M610.4,781.5l14.44,7.34v14.69l-14.44,7.34l-14.44,-7.34v-14.69zM697.0,781.5l14.44,7.34v14.69l-14.44,7.34l-14.44,-7.34v-14.69zM1548.7,935.7l14.44,7.34v14.69l-14.44,7.34l-14.44,-7.34v-14.69zM697.0,1001.8l14.44,7.34v14.69l-14.44,7.34l-14.44,-7.34v-14.69zM1779.6,1023.8l14.44,7.34v14.69l-14.44,7.34l-14.44,-7.34v-14.69zM798.0,1200.1l14.44,7.34v14.69l-14.44,7.34l-14.44,-7.34v-14.69zM1635.3,1288.2l14.44,7.34v14.69l-14.44,7.34l-14.44,-7.34v-14.69zM1721.9,1376.3l14.44,7.34v14.69l-14.44,7.34l-14.44,-7.34v-14.69z"/>
<path fill="#fbe000" stroke="#fbe000" d="M1548.7,979.8l14.44,7.34v14.69l-14.44,7.34l-14.44,-7.34v-14.69zM1389.9,1045.9l14.44,7.34v14.69l-14.44,7.34l-14.44,-7.34v-14.69zM1144.5,1112.0l14.44,7.34v14.69l-14.44,7.34l-14.44,-7.34v-14.69zM1231.1,1200.1l14.44,7.34v14.69l-14.44,7.34l-14.44,-7.34v-14.69zM1072.3,1222.1l14.44,7.34v14.69l-14.44,7.34l-14.44,-7.34v-14.69zM1086.7,1376.3l14.44,7.34v14.69l-14.44,7.34l-14.44,-7.34v-14.69z"/>
<path fill="#fbe100" stroke="#fbe100" d="M769.2,1067.9l14.44,7.34v14.69l-14.44,7.34l-14.44,-7.34v-14.69zM1029.0,1112.0l14.44,7.34v14.69l-14.44,7.34l-14.44,-7.34v-14.69zM942.4,1244.1l14.44,7.34v14.69l-14.44,7.34l-14.44,-7.34v-14.69zM1563.1,1354.3l14.44,7.34v14.69l-14.44,7.34l-14.44,-7.34v-14.69z"/>
<path fill="#fbe200" stroke="#fbe200" d="M725.9,605.3l14.44,7.34v14.69l-14.44,7.34l-14.44,-7.34v-14.69zM1418.8,649.3l14.44,7.34v14.69l-14.44,7.34l-14.44,-7.34v-14.69zM1577.5,671.4l14.44,7.34v14.69l-14.44,7.34l-14.44,-7.34v-14.69zM1014.6,1089.9l14.44,7.34v14.69l-14.44,7.34l-14.44,-7.34v-14.69zM1187.8,1178.1l14.44,7.34v14.69l-14.44,7.34l-14.44,-7.34v-14.69zM1288.8,1244.1l14.44,7.34v14.69l-14.44,7.34l-14.44,-7.34v-14.69zM1462.1,1288.2l14.44,7.34v14.69l-14.44,7.34l-14.44,-7.34v-14.69zM1389.9,1310.2l14.44,7.34v14.69l-14.44,7.34l-14.44,-7.34v-14.69zM769.2,1376.3l14.44,7.34v14.69l-14.44,7.34l-14.44,-7.34v-14.69z"/>
<path fill="#fbe300" stroke="#fbe300" d="M769.2,539.2l14.44,7.34v14.69l-14.44,7.34l-14.44,-7.34v-14.69zM1014.6,1222.1l14.44,7.34v14.69l-14.44,7.34l-14.44,-7.34v-14.69zM1505.4,1398.4l14.44,7.34v14.69l-14.44,7.34l-14.44,-7.34v-14.69z"/>
<path fill="#fce300" stroke="#fce300" d="M754.7,1089.9l14.44,7.34v14.69l-14.44,7.34l-14.44,-7.34v-14.69zM956.8,1178.1l14.44,7.34v14.69l-14.44,7.34l-14.44,-7.34v-14.69z"/>
<path fill="#fce400" stroke="#fce400" d="M682.6,935.7l14.44,7.34v14.69l-14.44,7.34l-14.44,-7.34v-14.69zM971.3,1156.0l14.44,7.34v14.69l-14.44,7.34l-14.44,-7.34v-14.69zM1490.9,1200.1l14.44,7.34v14.69l-14.44,7.34l-14.44,-7.34v-14.69zM812.5,1310.2l14.44,7.34v14.69l-14.44,7.34l-14.44,-7.34v-14.69z"/>
<path fill="#fce500" stroke="#fce500" d="M1158.9,1089.9l14.44,7.34v14.69l-14.44,7.34l-14.44,-7.34v-14.69zM1447.6,1089.9l14.44,7.34v14.69l-14.44,7.34l-14.44,-7.34v-14.69zM812.5,1134.0l14.44,7.34v14.69l-14.44,7.34l-14.44,-7.34v-14.69zM711.4,1200.1l14.44,7.34v14.69l-14.44,7.34l-14.44,-7.34v-14.69z"/>
<path fill="#fce600" stroke="#fce600" d="M783.6,1222.1l14.44,7.34v14.69l-14.44,7.34l-14.44,-7.34v-14.69zM1101.2,1310.2l14.44,7.34v14.69l-14.44,7.34l-14.44,-7.34v-14.69z"/>
<path fill="#fce700" stroke="#fce700" d="M1144.5,407.0l14.44,7.34v14.69l-14.44,7.34l-14.44,-7.34v-14.69zM1490.9,407.0l14.44,7.34v14.69l-14.44,7.34l-14.44,-7.34v-14.69zM1577.5,451.1l14.44,7.34v14.69l-14.44,7.34l-14.44,-7.34v-14.69zM1649.7,473.1l14.44,7.34v14.69l-14.44,7.34l-14.44,-7.34v-14.69zM437.2,649.3l14.44,7.34v14.69l-14.44,7.34l-14.44,-7.34v-14.69zM379.4,693.4l14.44,7.34v14.69l-14.44,7.34l-14.44,-7.34v-14.69zM408.3,693.4l14.44,7.34v14.69l-14.44,7.34l-14.44,-7.34v-14.69zM437.2,693.4l14.44,7.34v14.69l-14.44,7.34l-14.44,-7.34v-14.69zM422.7,715.4l14.44,7.34v14.69l-14.44,7.34l-14.44,-7.34v-14.69zM365.0,759.5l14.44,7.34v14.69l-14.44,7.34l-14.44,-7.34v-14.69zM451.6,759.5l14.44,7.34v14.69l-14.44,7.34l-14.44,-7.34v-14.69zM379.4,781.5l14.44,7.34v14.69l-14.44,7.34l-14.44,-7.34v-14.69zM408.3,781.5l14.44,7.34v14.69l-14.44,7.34l-14.44,-7.34v-14.69zM437.2,781.5l14.44,7.34v14.69l-14.44,7.34l-14.44,-7.34v-14.69zM581.5,781.5l14.44,7.34v14.69l-14.44,7.34l-14.44,-7.34v-14.69zM307.3,803.5l14.44,7.34v14.69l-14.44,7.34l-14.44,-7.34v-14.69zM336.1,803.5l14.44,7.34v14.69l-14.44,7.34l-14.44,-7.34v-14.69zM422.7,803.5l14.44,7.34v14.69l-14.44,7.34l-14.44,-7.34v-14.69zM451.6,803.5l14.44,7.34v14.69l-14.44,7.34l-14.44,-7.34v-14.69zM480.5,803.5l14.44,7.34v14.69l-14.44,7.34l-14.44,-7.34v-14.69zM350.6,825.6l14.44,7.34v14.69l-14.44,7.34l-14.44,-7.34v-14.69zM379.4,825.6l14.44,7.34v14.69l-14.44,7.34l-14.44,-7.34v-14.69zM408.3,825.6l14.44,7.34v14.69l-14.44,7.34l-14.44,-7.34v-14.69zM466.0,825.6l14.44,7.34v14.69l-14.44,7.34l-14.44,-7.34v-14.69zM523.8,825.6l14.44,7.34v14.69l-14.44,7.34l-14.44,-7.34v-14.69zM581.5,825.6l14.44,7.34v14.69l-14.44,7.34l-14.44,-7.34v-14.69zM365.0,847.6l14.44,7.34v14.69l-14.44,7.34l-14.44,-7.34v-14.69zM480.5,847.6l14.44,7.34v14.69l-14.44,7.34l-14.44,-7.34v-14.69zM567.1,847.6l14.44,7.34v14.69l-14.44,7.34l-14.44,-7.34v-14.69zM379.4,869.6l14.44,7.34v14.69l-14.44,7.34l-14.44,-7.34v-14.69zM466.0,869.6l14.44,7.34v14.69l-14.44,7.34l-14.44,-7.34v-14.69zM581.5,869.6l14.44,7.34v14.69l-14.44,7.34l-14.44,-7.34v-14.69zM610.4,869.6l14.44,7.34v14.69l-14.44,7.34l-14.44,-7.34v-14.69zM1736.3,869.6l14.44,7.34v14.69l-14.44,7.34l-14.44,-7.34v-14.69zM1822.9,869.6l14.44,7.34v14.69l-14.44,7.34l-14.44,-7.34v-14.69zM336.1,891.7l14.44,7.34v14.69l-14.44,7.34l-14.44,-7.34v-14.69zM365.0,891.7l14.44,7.34v14.69l-14.44,7.34l-14.44,-7.34v-14.69zM451.6,891.7l14.44,7.34v14.69l-14.44,7.34l-14.44,-7.34v-14.69zM480.5,891.7l14.44,7.34v14.69l-14.44,7.34l-14.44,-7.34v-14.69zM509.3,891.7l14.44,7.34v14.69l-14.44,7.34l-14.44,-7.34v-14.69zM350.6,913.7l14.44,7.34v14.69l-14.44,7.34l-14.44,-7.34v-14.69zM408.3,913.7l14.44,7.34v14.69l-14.44,7.34l-14.44,-7.34v-14.69zM437.2,913.7l14.44,7.34v14.69l-14.44,7.34l-14.44,-7.34v-14.69zM494.9,913.7l14.44,7.34v14.69l-14.44,7.34l-14.44,-7.34v-14.69zM523.8,913.7l14.44,7.34v14.69l-14.44,7.34l-14.44,-7.34v-14.69zM1707.5,913.7l14.44,7.34v14.69l-14.44,7.34l-14.44,-7.34v-14.69zM336.1,935.7l14.44,7.34v14.69l-14.44,7.34l-14.44,-7.34v-14.69zM365.0,935.7l14.44,7.34v14.69l-14.44,7.34l-14.44,-7.34v-14.69zM393.9,935.7l14.44,7.34v14.69l-14.44,7.34l-14.44,-7.34v-14.69zM422.7,935.7l14.44,7.34v14.69l-14.44,7.34l-14.44,-7.34v-14.69zM509.3,935.7l14.44,7.34v14.69l-14.44,7.34l-14.44,-7.34v-14.69zM538.2,935.7l14.44,7.34v14.69l-14.44,7.34l-14.44,-7.34v-14.69zM1490.9,935.7l14.44,7.34v14.69l-14.44,7.34l-14.44,-7.34v-14.69zM292.8,957.8l14.44,7.34v14.69l-14.44,7.34l-14.44,-7.34v-14.69zM408.3,957.8l14.44,7.34v14.69l-14.44,7.34l-14.44,-7.34v-14.69zM437.2,957.8l14.44,7.34v14.69l-14.44,7.34l-14.44,-7.34v-14.69zM552.6,957.8l14.44,7.34v14.69l-14.44,7.34l-14.44,-7.34v-14.69zM581.5,957.8l14.44,7.34v14.69l-14.44,7.34l-14.44,-7.34v-14.69zM1794.1,957.8l14.44,7.34v14.69l-14.44,7.34l-14.44,-7.34v-14.69zM1851.8,957.8l14.44,7.34v14.69l-14.44,7.34l-14.44,-7.34v-14.69zM365.0,979.8l14.44,7.34v14.69l-14.44,7.34l-14.44,-7.34v-14.69zM393.9,979.8l14.44,7.34v14.69l-14.44,7.34l-14.44,-7.34v-14.69zM422.7,979.8l14.44,7.34v14.69l-14.44,7.34l-14.44,-7.34v-14.69zM451.6,979.8l14.44,7.34v14.69l-14.44,7.34l-14.44,-7.34v-14.69zM480.5,979.8l14.44,7.34v14.69l-14.44,7.34l-14.44,-7.34v-14.69zM567.1,979.8l14.44,7.34v14.69l-14.44,7.34l-14.44,-7.34v-14.69zM596.0,979.8l14.44,7.34v14.69l-14.44,7.34l-14.44,-7.34v-14.69zM1750.8,979.8l14.44,7.34v14.69l-14.44,7.34l-14.44,-7.34v-14.69zM292.8,1001.8l14.44,7.34v14.69l-14.44,7.34l-14.44,-7.34v-14.69zM408.3,1001.8l14.44,7.34v14.69l-14.44,7.34l-14.44,-7.34v-14.69zM494.9,1001.8l14.44,7.34v14.69l-14.44,7.34l-14.44,-7.34v-14.69zM552.6,1001.8l14.44,7.34v14.69l-14.44,7.34l-14.44,-7.34v-14.69zM581.5,1001.8l14.44,7.34v14.69l-14.44,7.34l-14.44,-7.34v-14.69zM610.4,1001.8l14.44,7.34v14.69l-14.44,7.34l-14.44,-7.34v-14.69zM1678.6,1001.8l14.44,7.34v14.69l-14.44,7.34l-14.44,-7.34v-14.69zM1794.1,1001.8l14.44,7.34v14.69l-14.44,7.34l-14.44,-7.34v-14.69zM249.5,1023.8l14.44,7.34v14.69l-14.44,7.34l-14.44,-7.34v-14.69zM307.3,1023.8l14.44,7.34v14.69l-14.44,7.34l-14.44,-7.34v-14.69zM365.0,1023.8l14.44,7.34v14.69l-14.44,7.34l-14.44,-7.34v-14.69zM393.9,1023.8l14.44,7.34v14.69l-14.44,7.34l-14.44,-7.34v-14.69zM422.7,1023.8l14.44,7.34v14.69l-14.44,7.34l-14.44,-7.34v-14.69zM451.6,1023.8l14.44,7.34v14.69l-14.44,7.34l-14.44,-7.34v-14.69zM292.8,1045.9l14.44,7.34v14.69l-14.44,7.34l-14.44,-7.34v-14.69zM350.6,1045.9l14.44,7.34v14.69l-14.44,7.34l-14.44,-7.34v-14.69zM379.4,1045.9l14.44,7.34v14.69l-14.44,7.34l-14.44,-7.34v-14.69zM408.3,1045.9l14.44,7.34v14.69l-14.44,7.34l-14.44,-7.34v-14.69zM494.9,1045.9l14.44,7.34v14.69l-14.44,7.34l-14.44,-7.34v-14.69zM480.5,1067.9l14.44,7.34v14.69l-14.44,7.34l-14.44,-7.34v-14.69zM509.3,1067.9l14.44,7.34v14.69l-14.44,7.34l-14.44,-7.34v-14.69zM408.3,1089.9l14.44,7.34v14.69l-14.44,7.34l-14.44,-7.34v-14.69zM466.0,1089.9l14.44,7.34v14.69l-14.44,7.34l-14.44,-7.34v-14.69zM1707.5,1089.9l14.44,7.34v14.69l-14.44,7.34l-14.44,-7.34v-14.69zM422.7,1112.0l14.44,7.34v14.69l-14.44,7.34l-14.44,-7.34v-14.69zM1288.8,1156.0l14.44,7.34v14.69l-14.44,7.34l-14.44,-7.34v-14.69zM1404.3,1156.0l14.44,7.34v14.69l-14.44,7.34l-14.44,-7.34v-14.69zM581.5,1266.2l14.44,7.34v14.69l-14.44,7.34l-14.44,-7.34v-14.69zM610.4,1266.2l14.44,7.34v14.69l-14.44,7.34l-14.44,-7.34v-14.69zM639.3,1266.2l14.44,7.34v14.69l-14.44,7.34l-14.44,-7.34v-14.69zM1332.1,1266.2l14.44,7.34v14.69l-14.44,7.34l-14.44,-7.34v-14.69zM567.1,1288.2l14.44,7.34v14.69l-14.44,7.34l-14.44,-7.34v-14.69zM596.0,1288.2l14.44,7.34v14.69l-14.44,7.34l-14.44,-7.34v-14.69zM653.7,1288.2l14.44,7.34v14.69l-14.44,7.34l-14.44,-7.34v-14.69zM581.5,1310.2l14.44,7.34v14.69l-14.44,7.34l-14.44,-7.34v-14.69zM596.0,1332.3l14.44,7.34v14.69l-14.44,7.34l-14.44,-7.34v-14.69zM581.5,1354.3l14.44,7.34v14.69l-14.44,7.34l-14.44,-7.34v-14.69zM567.1,1376.3l14.44,7.34v14.69l-14.44,7.34l-14.44,-7.34v-14.69zM596.0,1376.3l14.44,7.34v14.69l-14.44,7.34l-14.44,-7.34v-14.69zM581.5,1398.4l14.44,7.34v14.69l-14.44,7.34l-14.44,-7.34v-14.69zM1332.1,1398.4l14.44,7.34v14.69l-14.44,7.34l-14.44,-7.34v-14.69zM1000.1,1420.4l14.44,7.34v14.69l-14.44,7.34l-14.44,-7.34v-14.69zM1288.8,1420.4l14.44,7.34v14.69l-14.44,7.34l-14.44,-7.34v-14.69zM1433.2,1420.4l14.44,7.34v14.69l-14.44,7.34l-14.44,-7.34v-14.69zM870.2,1486.5l14.44,7.34v14.69l-14.44,7.34l-14.44,-7.34v-14.69zM812.5,1618.7l14.44,7.34v14.69l-14.44,7.34l-14.44,-7.34v-14.69zM985.7,1618.7l14.44,7.34v14.69l-14.44,7.34l-14.44,-7.34v-14.69z"/>
<path fill="#fce800" stroke="#fce800" d="M1563.1,1045.9l14.44,7.34v14.69l-14.44,7.34l-14.44,-7.34v-14.69z"/>
<path fill="#fce900" stroke="#fce900" d="M1274.4,1134.0l14.44,7.34v14.69l-14.44,7.34l-14.44,-7.34v-14.69zM928.0,1178.1l14.44,7.34v14.69l-14.44,7.34l-14.44,-7.34v-14.69zM1476.5,1266.2l14.44,7.34v14.69l-14.44,7.34l-14.44,-7.34v-14.69zM1404.3,1288.2l14.44,7.34v14.69l-14.44,7.34l-14.44,-7.34v-14.69zM1187.8,1310.2l14.44,7.34v14.69l-14.44,7.34l-14.44,-7.34v-14.69z"/>
<path fill="#fcea00" stroke="#fcea00" d="M1433.2,583.2l14.44,7.34v14.69l-14.44,7.34l-14.44,-7.34v-14.69zM1635.3,935.7l14.44,7.34v14.69l-14.44,7.34l-14.44,-7.34v-14.69zM1447.6,1222.1l14.44,7.34v14.69l-14.44,7.34l-14.44,-7.34v-14.69z"/>
<path fill="#fceb00" stroke="#fceb00" d="M725.9,1089.9l14.44,7.34v14.69l-14.44,7.34l-14.44,-7.34v-14.69zM1563.1,1089.9l14.44,7.34v14.69l-14.44,7.34l-14.44,-7.34v-14.69zM1057.9,1156.0l14.44,7.34v14.69l-14.44,7.34l-14.44,-7.34v-14.69zM985.7,1178.1l14.44,7.34v14.69l-14.44,7.34l-14.44,-7.34v-14.69z"/>
<path fill="#fdeb00" stroke="#fdeb00" d="M1548.7,1067.9l14.44,7.34v14.69l-14.44,7.34l-14.44,-7.34v-14.69zM1476.5,1354.3l14.44,7.34v14.69l-14.44,7.34l-14.44,-7.34v-14.69zM1592.0,1354.3l14.44,7.34v14.69l-14.44,7.34l-14.44,-7.34v-14.69z"/>
<path fill="#fdec00" stroke="#fdec00" d="M1592.0,1089.9l14.44,7.34v14.69l-14.44,7.34l-14.44,-7.34v-14.69zM1173.4,1112.0l14.44,7.34v14.69l-14.44,7.34l-14.44,-7.34v-14.69zM1361.0,1310.2l14.44,7.34v14.69l-14.44,7.34l-14.44,-7.34v-14.69z"/>
<path fill="#fded00" stroke="#fded00" d="M1577.5,715.4l14.44,7.34v14.69l-14.44,7.34l-14.44,-7.34v-14.69zM711.4,891.7l14.44,7.34v14.69l-14.44,7.34l-14.44,-7.34v-14.69zM1187.8,1266.2l14.44,7.34v14.69l-14.44,7.34l-14.44,-7.34v-14.69z"/>
<path fill="#fdf000" stroke="#fdf000" d="M697.0,825.6l14.44,7.34v14.69l-14.44,7.34l-14.44,-7.34v-14.69zM697.0,1089.9l14.44,7.34v14.69l-14.44,7.34l-14.44,-7.34v-14.69z"/>
<path fill="#fdf100" stroke="#fdf100" d="M884.7,1156.0l14.44,7.34v14.69l-14.44,7.34l-14.44,-7.34v-14.69z"/>
<path fill="#fdf200" stroke="#fdf200" d="M1173.4,1200.1l14.44,7.34v14.69l-14.44,7.34l-14.44,-7.34v-14.69z"/>
<path fill="#fdf300" stroke="#fdf300" d="M754.7,561.2l14.44,7.34v14.69l-14.44,7.34l-14.44,-7.34v-14.69z"/>
<path fill="#fef300" stroke="#fef300" d="M1274.4,1178.1l14.44,7.34v14.69l-14.44,7.34l-14.44,-7.34v-14.69z"/>
<path fill="#fef600" stroke="#fef600" d="M1592.0,693.4l14.44,7.34v14.69l-14.44,7.34l-14.44,-7.34v-14.69z"/>
<path fill="#fefb00" stroke="#fefb00" d="M682.6,803.5l14.44,7.34v14.69l-14.44,7.34l-14.44,-7.34v-14.69z"/>
<path fill="#fffc00" stroke="#fffc00" d="M740.3,539.2l14.44,7.34v14.69l-14.44,7.34l-14.44,-7.34v-14.69zM798.0,1376.3l14.44,7.34v14.69l-14.44,7.34l-14.44,-7.34v-14.69z"/>
<path fill="#ffff00" stroke="#ffff00" d="M1216.7,120.6l14.44,7.34v14.69l-14.44,7.34l-14.44,-7.34v-14.69zM1202.2,142.6l14.44,7.34v14.69l-14.44,7.34l-14.44,-7.34v-14.69zM1346.6,142.6l14.44,7.34v14.69l-14.44,7.34l-14.44,-7.34v-14.69zM1404.3,142.6l14.44,7.34v14.69l-14.44,7.34l-14.44,-7.34v-14.69zM1433.2,142.6l14.44,7.34v14.69l-14.44,7.34l-14.44,-7.34v-14.69zM1462.1,142.6l14.44,7.34v14.69l-14.44,7.34l-14.44,-7.34v-14.69zM1216.7,164.7l14.44,7.34v14.69l-14.44,7.34l-14.44,-7.34v-14.69zM1303.3,164.7l14.44,7.34v14.69l-14.44,7.34l-14.44,-7.34v-14.69zM1332.1,164.7l14.44,7.34v14.69l-14.44,7.34l-14.44,-7.34v-14.69zM1361.0,164.7l14.44,7.34v14.69l-14.44,7.34l-14.44,-7.34v-14.69zM1389.9,164.7l14.44,7.34v14.69l-14.44,7.34l-14.44,-7.34v-14.69zM1418.8,164.7l14.44,7.34v14.69l-14.44,7.34l-14.44,-7.34v-14.69zM1447.6,164.7l14.44,7.34v14.69l-14.44,7.34l-14.44,-7.34v-14.69zM1505.4,164.7l14.44,7.34v14.69l-14.44,7.34l-14.44,-7.34v-14.69zM1115.6,186.7l14.44,7.34v14.69l-14.44,7.34l-14.44,-7.34v-14.69zM1144.5,186.7l14.44,7.34v14.69l-14.44,7.34l-14.44,-7.34v-14.69zM1202.2,186.7l14.44,7.34v14.69l-14.44,7.34l-14.44,-7.34v-14.69zM1288.8,186.7l14.44,7.34v14.69l-14.44,7.34l-14.44,-7.34v-14.69zM1317.7,186.7l14.44,7.34v14.69l-14.44,7.34l-14.44,-7.34v-14.69zM1346.6,186.7l14.44,7.34v14.69l-14.44,7.34l-14.44,-7.34v-14.69zM1433.2,186.7l14.44,7.34v14.69l-14.44,7.34l-14.44,-7.34v-14.69zM1548.7,186.7l14.44,7.34v14.69l-14.44,7.34l-14.44,-7.34v-14.69zM1130.0,208.7l14.44,7.34v14.69l-14.44,7.34l-14.44,-7.34v-14.69zM1187.8,208.7l14.44,7.34v14.69l-14.44,7.34l-14.44,-7.34v-14.69zM1245.5,208.7l14.44,7.34v14.69l-14.44,7.34l-14.44,-7.34v-14.69zM1303.3,208.7l14.44,7.34v14.69l-14.44,7.34l-14.44,-7.34v-14.69zM1476.5,208.7l14.44,7.34v14.69l-14.44,7.34l-14.44,-7.34v-14.69zM1534.2,208.7l14.44,7.34v14.69l-14.44,7.34l-14.44,-7.34v-14.69zM1115.6,230.8l14.44,7.34v14.69l-14.44,7.34l-14.44,-7.34v-14.69zM1144.5,230.8l14.44,7.34v14.69l-14.44,7.34l-14.44,-7.34v-14.69zM1317.7,230.8l14.44,7.34v14.69l-14.44,7.34l-14.44,-7.34v-14.69zM1346.6,230.8l14.44,7.34v14.69l-14.44,7.34l-14.44,-7.34v-14.69zM1404.3,230.8l14.44,7.34v14.69l-14.44,7.34l-14.44,-7.34v-14.69zM1462.1,230.8l14.44,7.34v14.69l-14.44,7.34l-14.44,-7.34v-14.69zM1519.8,230.8l14.44,7.34v14.69l-14.44,7.34l-14.44,-7.34v-14.69zM1548.7,230.8l14.44,7.34v14.69l-14.44,7.34l-14.44,-7.34v-14.69zM899.1,252.8l14.44,7.34v14.69l-14.44,7.34l-14.44,-7.34v-14.69zM956.8,252.8l14.44,7.34v14.69l-14.44,7.34l-14.44,-7.34v-14.69zM1014.6,252.8l14.44,7.34v14.69l-14.44,7.34l-14.44,-7.34v-14.69zM1043.4,252.8l14.44,7.34v14.69l-14.44,7.34l-14.44,-7.34v-14.69zM1072.3,252.8l14.44,7.34v14.69l-14.44,7.34l-14.44,-7.34v-14.69zM1101.2,252.8l14.44,7.34v14.69l-14.44,7.34l-14.44,-7.34v-14.69zM1187.8,252.8l14.44,7.34v14.69l-14.44,7.34l-14.44,-7.34v-14.69zM1245.5,252.8l14.44,7.34v14.69l-14.44,7.34l-14.44,-7.34v-14.69zM1274.4,252.8l14.44,7.34v14.69l-14.44,7.34l-14.44,-7.34v-14.69zM1303.3,252.8l14.44,7.34v14.69l-14.44,7.34l-14.44,-7.34v-14.69zM1332.1,252.8l14.44,7.34v14.69l-14.44,7.34l-14.44,-7.34v-14.69zM1361.0,252.8l14.44,7.34v14.69l-14.44,7.34l-14.44,-7.34v-14.69zM1389.9,252.8l14.44,7.34v14.69l-14.44,7.34l-14.44,-7.34v-14.69zM1476.5,252.8l14.44,7.34v14.69l-14.44,7.34l-14.44,-7.34v-14.69zM1563.1,252.8l14.44,7.34v14.69l-14.44,7.34l-14.44,-7.34v-14.69zM1592.0,252.8l14.44,7.34v14.69l-14.44,7.34l-14.44,-7.34v-14.69zM798.0,274.8l14.44,7.34v14.69l-14.44,7.34l-14.44,-7.34v-14.69zM884.7,274.8l14.44,7.34v14.69l-14.44,7.34l-14.44,-7.34v-14.69zM942.4,274.8l14.44,7.34v14.69l-14.44,7.34l-14.44,-7.34v-14.69zM971.3,274.8l14.44,7.34v14.69l-14.44,7.34l-14.44,-7.34v-14.69zM1000.1,274.8l14.44,7.34v14.69l-14.44,7.34l-14.44,-7.34v-14.69zM1029.0,274.8l14.44,7.34v14.69l-14.44,7.34l-14.44,-7.34v-14.69zM1144.5,274.8l14.44,7.34v14.69l-14.44,7.34l-14.44,-7.34v-14.69zM1519.8,274.8l14.44,7.34v14.69l-14.44,7.34l-14.44,-7.34v-14.69zM1548.7,274.8l14.44,7.34v14.69l-14.44,7.34l-14.44,-7.34v-14.69zM1577.5,274.8l14.44,7.34v14.69l-14.44,7.34l-14.44,-7.34v-14.69zM783.6,296.9l14.44,7.34v14.69l-14.44,7.34l-14.44,-7.34v-14.69zM841.4,296.9l14.44,7.34v14.69l-14.44,7.34l-14.44,-7.34v-14.69zM870.2,296.9l14.44,7.34v14.69l-14.44,7.34l-14.44,-7.34v-14.69zM1014.6,296.9l14.44,7.34v14.69l-14.44,7.34l-14.44,-7.34v-14.69zM1187.8,296.9l14.44,7.34v14.69l-14.44,7.34l-14.44,-7.34v-14.69zM1216.7,296.9l14.44,7.34v14.69l-14.44,7.34l-14.44,-7.34v-14.69zM1389.9,296.9l14.44,7.34v14.69l-14.44,7.34l-14.44,-7.34v-14.69zM1563.1,296.9l14.44,7.34v14.69l-14.44,7.34l-14.44,-7.34v-14.69zM1592.0,296.9l14.44,7.34v14.69l-14.44,7.34l-14.44,-7.34v-14.69zM913.5,318.9l14.44,7.34v14.69l-14.44,7.34l-14.44,-7.34v-14.69zM1433.2,318.9l14.44,7.34v14.69l-14.44,7.34l-14.44,-7.34v-14.69zM1548.7,318.9l14.44,7.34v14.69l-14.44,7.34l-14.44,-7.34v-14.69zM1606.4,318.9l14.44,7.34v14.69l-14.44,7.34l-14.44,-7.34v-14.69zM783.6,340.9l14.44,7.34v14.69l-14.44,7.34l-14.44,-7.34v-14.69zM841.4,340.9l14.44,7.34v14.69l-14.44,7.34l-14.44,-7.34v-14.69zM899.1,340.9l14.44,7.34v14.69l-14.44,7.34l-14.44,-7.34v-14.69zM928.0,340.9l14.44,7.34v14.69l-14.44,7.34l-14.44,-7.34v-14.69zM956.8,340.9l14.44,7.34v14.69l-14.44,7.34l-14.44,-7.34v-14.69zM1620.8,340.9l14.44,7.34v14.69l-14.44,7.34l-14.44,-7.34v-14.69zM855.8,362.9l14.44,7.34v14.69l-14.44,7.34l-14.44,-7.34v-14.69zM942.4,362.9l14.44,7.34v14.69l-14.44,7.34l-14.44,-7.34v-14.69zM1057.9,362.9l14.44,7.34v14.69l-14.44,7.34l-14.44,-7.34v-14.69zM1462.1,362.9l14.44,7.34v14.69l-14.44,7.34l-14.44,-7.34v-14.69zM1519.8,362.9l14.44,7.34v14.69l-14.44,7.34l-14.44,-7.34v-14.69zM1606.4,362.9l14.44,7.34v14.69l-14.44,7.34l-14.44,-7.34v-14.69zM1635.3,362.9l14.44,7.34v14.69l-14.44,7.34l-14.44,-7.34v-14.69zM783.6,385.0l14.44,7.34v14.69l-14.44,7.34l-14.44,-7.34v-14.69zM812.5,385.0l14.44,7.34v14.69l-14.44,7.34l-14.44,-7.34v-14.69zM841.4,385.0l14.44,7.34v14.69l-14.44,7.34l-14.44,-7.34v-14.69zM870.2,385.0l14.44,7.34v14.69l-14.44,7.34l-14.44,-7.34v-14.69zM1563.1,385.0l14.44,7.34v14.69l-14.44,7.34l-14.44,-7.34v-14.69zM783.6,429.0l14.44,7.34v14.69l-14.44,7.34l-14.44,-7.34v-14.69zM1101.2,429.0l14.44,7.34v14.69l-14.44,7.34l-14.44,-7.34v-14.69zM740.3,451.1l14.44,7.34v14.69l-14.44,7.34l-14.44,-7.34v-14.69zM769.2,451.1l14.44,7.34v14.69l-14.44,7.34l-14.44,-7.34v-14.69zM884.7,451.1l14.44,7.34v14.69l-14.44,7.34l-14.44,-7.34v-14.69zM942.4,451.1l14.44,7.34v14.69l-14.44,7.34l-14.44,-7.34v-14.69zM1635.3,451.1l14.44,7.34v14.69l-14.44,7.34l-14.44,-7.34v-14.69zM754.7,473.1l14.44,7.34v14.69l-14.44,7.34l-14.44,-7.34v-14.69zM812.5,473.1l14.44,7.34v14.69l-14.44,7.34l-14.44,-7.34v-14.69zM841.4,473.1l14.44,7.34v14.69l-14.44,7.34l-14.44,-7.34v-14.69zM870.2,473.1l14.44,7.34v14.69l-14.44,7.34l-14.44,-7.34v-14.69zM899.1,473.1l14.44,7.34v14.69l-14.44,7.34l-14.44,-7.34v-14.69zM956.8,473.1l14.44,7.34v14.69l-14.44,7.34l-14.44,-7.34v-14.69zM1130.0,473.1l14.44,7.34v14.69l-14.44,7.34l-14.44,-7.34v-14.69zM740.3,495.1l14.44,7.34v14.69l-14.44,7.34l-14.44,-7.34v-14.69zM798.0,495.1l14.44,7.34v14.69l-14.44,7.34l-14.44,-7.34v-14.69zM826.9,495.1l14.44,7.34v14.69l-14.44,7.34l-14.44,-7.34v-14.69zM855.8,495.1l14.44,7.34v14.69l-14.44,7.34l-14.44,-7.34v-14.69zM884.7,495.1l14.44,7.34v14.69l-14.44,7.34l-14.44,-7.34v-14.69zM971.3,495.1l14.44,7.34v14.69l-14.44,7.34l-14.44,-7.34v-14.69zM1404.3,495.1l14.44,7.34v14.69l-14.44,7.34l-14.44,-7.34v-14.69zM1664.1,495.1l14.44,7.34v14.69l-14.44,7.34l-14.44,-7.34v-14.69zM754.7,517.2l14.44,7.34v14.69l-14.44,7.34l-14.44,-7.34v-14.69zM783.6,517.2l14.44,7.34v14.69l-14.44,7.34l-14.44,-7.34v-14.69zM1072.3,517.2l14.44,7.34v14.69l-14.44,7.34l-14.44,-7.34v-14.69zM682.6,539.2l14.44,7.34v14.69l-14.44,7.34l-14.44,-7.34v-14.69zM798.0,539.2l14.44,7.34v14.69l-14.44,7.34l-14.44,-7.34v-14.69zM855.8,539.2l14.44,7.34v14.69l-14.44,7.34l-14.44,-7.34v-14.69zM1202.2,539.2l14.44,7.34v14.69l-14.44,7.34l-14.44,-7.34v-14.69zM697.0,561.2l14.44,7.34v14.69l-14.44,7.34l-14.44,-7.34v-14.69zM725.9,561.2l14.44,7.34v14.69l-14.44,7.34l-14.44,-7.34v-14.69zM653.7,583.2l14.44,7.34v14.69l-14.44,7.34l-14.44,-7.34v-14.69zM682.6,583.2l14.44,7.34v14.69l-14.44,7.34l-14.44,-7.34v-14.69zM740.3,583.2l14.44,7.34v14.69l-14.44,7.34l-14.44,-7.34v-14.69zM1664.1,583.2l14.44,7.34v14.69l-14.44,7.34l-14.44,-7.34v-14.69zM1808.5,583.2l14.44,7.34v14.69l-14.44,7.34l-14.44,-7.34v-14.69zM668.1,605.3l14.44,7.34v14.69l-14.44,7.34l-14.44,-7.34v-14.69zM697.0,605.3l14.44,7.34v14.69l-14.44,7.34l-14.44,-7.34v-14.69zM783.6,605.3l14.44,7.34v14.69l-14.44,7.34l-14.44,-7.34v-14.69zM1620.8,605.3l14.44,7.34v14.69l-14.44,7.34l-14.44,-7.34v-14.69zM1765.2,605.3l14.44,7.34v14.69l-14.44,7.34l-14.44,-7.34v-14.69zM422.7,627.3l14.44,7.34v14.69l-14.44,7.34l-14.44,-7.34v-14.69zM451.6,627.3l14.44,7.34v14.69l-14.44,7.34l-14.44,-7.34v-14.69zM596.0,627.3l14.44,7.34v14.69l-14.44,7.34l-14.44,-7.34v-14.69zM624.8,627.3l14.44,7.34v14.69l-14.44,7.34l-14.44,-7.34v-14.69zM653.7,627.3l14.44,7.34v14.69l-14.44,7.34l-14.44,-7.34v-14.69zM769.2,627.3l14.44,7.34v14.69l-14.44,7.34l-14.44,-7.34v-14.69zM942.4,627.3l14.44,7.34v14.69l-14.44,7.34l-14.44,-7.34v-14.69zM1606.4,627.3l14.44,7.34v14.69l-14.44,7.34l-14.44,-7.34v-14.69zM350.6,649.3l14.44,7.34v14.69l-14.44,7.34l-14.44,-7.34v-14.69zM408.3,649.3l14.44,7.34v14.69l-14.44,7.34l-14.44,-7.34v-14.69zM494.9,649.3l14.44,7.34v14.69l-14.44,7.34l-14.44,-7.34v-14.69zM523.8,649.3l14.44,7.34v14.69l-14.44,7.34l-14.44,-7.34v-14.69zM552.6,649.3l14.44,7.34v14.69l-14.44,7.34l-14.44,-7.34v-14.69zM639.3,649.3l14.44,7.34v14.69l-14.44,7.34l-14.44,-7.34v-14.69zM1592.0,649.3l14.44,7.34v14.69l-14.44,7.34l-14.44,-7.34v-14.69zM365.0,671.4l14.44,7.34v14.69l-14.44,7.34l-14.44,-7.34v-14.69zM393.9,671.4l14.44,7.34v14.69l-14.44,7.34l-14.44,-7.34v-14.69zM509.3,671.4l14.44,7.34v14.69l-14.44,7.34l-14.44,-7.34v-14.69zM538.2,671.4l14.44,7.34v14.69l-14.44,7.34l-14.44,-7.34v-14.69zM567.1,671.4l14.44,7.34v14.69l-14.44,7.34l-14.44,-7.34v-14.69zM624.8,671.4l14.44,7.34v14.69l-14.44,7.34l-14.44,-7.34v-14.69zM653.7,671.4l14.44,7.34v14.69l-14.44,7.34l-14.44,-7.34v-14.69zM711.4,671.4l14.44,7.34v14.69l-14.44,7.34l-14.44,-7.34v-14.69zM1606.4,671.4l14.44,7.34v14.69l-14.44,7.34l-14.44,-7.34v-14.69zM321.7,693.4l14.44,7.34v14.69l-14.44,7.34l-14.44,-7.34v-14.69zM494.9,693.4l14.44,7.34v14.69l-14.44,7.34l-14.44,-7.34v-14.69zM523.8,693.4l14.44,7.34v14.69l-14.44,7.34l-14.44,-7.34v-14.69zM552.6,693.4l14.44,7.34v14.69l-14.44,7.34l-14.44,-7.34v-14.69zM581.5,693.4l14.44,7.34v14.69l-14.44,7.34l-14.44,-7.34v-14.69zM639.3,693.4l14.44,7.34v14.69l-14.44,7.34l-14.44,-7.34v-14.69zM928.0,693.4l14.44,7.34v14.69l-14.44,7.34l-14.44,-7.34v-14.69zM307.3,715.4l14.44,7.34v14.69l-14.44,7.34l-14.44,-7.34v-14.69zM365.0,715.4l14.44,7.34v14.69l-14.44,7.34l-14.44,-7.34v-14.69zM393.9,715.4l14.44,7.34v14.69l-14.44,7.34l-14.44,-7.34v-14.69zM480.5,715.4l14.44,7.34v14.69l-14.44,7.34l-14.44,-7.34v-14.69zM509.3,715.4l14.44,7.34v14.69l-14.44,7.34l-14.44,-7.34v-14.69zM538.2,715.4l14.44,7.34v14.69l-14.44,7.34l-14.44,-7.34v-14.69zM567.1,715.4l14.44,7.34v14.69l-14.44,7.34l-14.44,-7.34v-14.69zM596.0,715.4l14.44,7.34v14.69l-14.44,7.34l-14.44,-7.34v-14.69zM292.8,737.5l14.44,7.34v14.69l-14.44,7.34l-14.44,-7.34v-14.69zM321.7,737.5l14.44,7.34v14.69l-14.44,7.34l-14.44,-7.34v-14.69zM350.6,737.5l14.44,7.34v14.69l-14.44,7.34l-14.44,-7.34v-14.69zM379.4,737.5l14.44,7.34v14.69l-14.44,7.34l-14.44,-7.34v-14.69zM494.9,737.5l14.44,7.34v14.69l-14.44,7.34l-14.44,-7.34v-14.69zM523.8,737.5l14.44,7.34v14.69l-14.44,7.34l-14.44,-7.34v-14.69zM552.6,737.5l14.44,7.34v14.69l-14.44,7.34l-14.44,-7.34v-14.69zM581.5,737.5l14.44,7.34v14.69l-14.44,7.34l-14.44,-7.34v-14.69zM610.4,737.5l14.44,7.34v14.69l-14.44,7.34l-14.44,-7.34v-14.69zM639.3,737.5l14.44,7.34v14.69l-14.44,7.34l-14.44,-7.34v-14.69zM1505.4,737.5l14.44,7.34v14.69l-14.44,7.34l-14.44,-7.34v-14.69zM1765.2,737.5l14.44,7.34v14.69l-14.44,7.34l-14.44,-7.34v-14.69zM278.4,759.5l14.44,7.34v14.69l-14.44,7.34l-14.44,-7.34v-14.69zM509.3,759.5l14.44,7.34v14.69l-14.44,7.34l-14.44,-7.34v-14.69zM538.2,759.5l14.44,7.34v14.69l-14.44,7.34l-14.44,-7.34v-14.69zM567.1,759.5l14.44,7.34v14.69l-14.44,7.34l-14.44,-7.34v-14.69zM596.0,759.5l14.44,7.34v14.69l-14.44,7.34l-14.44,-7.34v-14.69zM653.7,759.5l14.44,7.34v14.69l-14.44,7.34l-14.44,-7.34v-14.69zM682.6,759.5l14.44,7.34v14.69l-14.44,7.34l-14.44,-7.34v-14.69zM740.3,759.5l14.44,7.34v14.69l-14.44,7.34l-14.44,-7.34v-14.69zM884.7,759.5l14.44,7.34v14.69l-14.44,7.34l-14.44,-7.34v-14.69zM1664.1,759.5l14.44,7.34v14.69l-14.44,7.34l-14.44,-7.34v-14.69zM1693.0,759.5l14.44,7.34v14.69l-14.44,7.34l-14.44,-7.34v-14.69zM1952.8,759.5l14.44,7.34v14.69l-14.44,7.34l-14.44,-7.34v-14.69zM523.8,781.5l14.44,7.34v14.69l-14.44,7.34l-14.44,-7.34v-14.69zM552.6,781.5l14.44,7.34v14.69l-14.44,7.34l-14.44,-7.34v-14.69zM639.3,781.5l14.44,7.34v14.69l-14.44,7.34l-14.44,-7.34v-14.69zM668.1,781.5l14.44,7.34v14.69l-14.44,7.34l-14.44,-7.34v-14.69zM725.9,781.5l14.44,7.34v14.69l-14.44,7.34l-14.44,-7.34v-14.69zM754.7,781.5l14.44,7.34v14.69l-14.44,7.34l-14.44,-7.34v-14.69zM1822.9,781.5l14.44,7.34v14.69l-14.44,7.34l-14.44,-7.34v-14.69zM1938.4,781.5l14.44,7.34v14.69l-14.44,7.34l-14.44,-7.34v-14.69zM249.5,803.5l14.44,7.34v14.69l-14.44,7.34l-14.44,-7.34v-14.69zM509.3,803.5l14.44,7.34v14.69l-14.44,7.34l-14.44,-7.34v-14.69zM538.2,803.5l14.44,7.34v14.69l-14.44,7.34l-14.44,-7.34v-14.69zM567.1,803.5l14.44,7.34v14.69l-14.44,7.34l-14.44,-7.34v-14.69zM596.0,803.5l14.44,7.34v14.69l-14.44,7.34l-14.44,-7.34v-14.69zM624.8,803.5l14.44,7.34v14.69l-14.44,7.34l-14.44,-7.34v-14.69zM653.7,803.5l14.44,7.34v14.69l-14.44,7.34l-14.44,-7.34v-14.69zM711.4,803.5l14.44,7.34v14.69l-14.44,7.34l-14.44,-7.34v-14.69zM1664.1,803.5l14.44,7.34v14.69l-14.44,7.34l-14.44,-7.34v-14.69zM1750.8,803.5l14.44,7.34v14.69l-14.44,7.34l-14.44,-7.34v-14.69zM1924.0,803.5l14.44,7.34v14.69l-14.44,7.34l-14.44,-7.34v-14.69zM235.1,825.6l14.44,7.34v14.69l-14.44,7.34l-14.44,-7.34v-14.69zM263.9,825.6l14.44,7.34v14.69l-14.44,7.34l-14.44,-7.34v-14.69zM610.4,825.6l14.44,7.34v14.69l-14.44,7.34l-14.44,-7.34v-14.69zM1072.3,825.6l14.44,7.34v14.69l-14.44,7.34l-14.44,-7.34v-14.69zM1938.4,825.6l14.44,7.34v14.69l-14.44,7.34l-14.44,-7.34v-14.69zM1967.3,825.6l14.44,7.34v14.69l-14.44,7.34l-14.44,-7.34v-14.69zM2025.0,825.6l14.44,7.34v14.69l-14.44,7.34l-14.44,-7.34v-14.69zM509.3,847.6l14.44,7.34v14.69l-14.44,7.34l-14.44,-7.34v-14.69zM538.2,847.6l14.44,7.34v14.69l-14.44,7.34l-14.44,-7.34v-14.69zM596.0,847.6l14.44,7.34v14.69l-14.44,7.34l-14.44,-7.34v-14.69zM682.6,847.6l14.44,7.34v14.69l-14.44,7.34l-14.44,-7.34v-14.69zM711.4,847.6l14.44,7.34v14.69l-14.44,7.34l-14.44,-7.34v-14.69zM1433.2,847.6l14.44,7.34v14.69l-14.44,7.34l-14.44,-7.34v-14.69zM1519.8,847.6l14.44,7.34v14.69l-14.44,7.34l-14.44,-7.34v-14.69zM1577.5,847.6l14.44,7.34v14.69l-14.44,7.34l-14.44,-7.34v-14.69zM1635.3,847.6l14.44,7.34v14.69l-14.44,7.34l-14.44,-7.34v-14.69zM1693.0,847.6l14.44,7.34v14.69l-14.44,7.34l-14.44,-7.34v-14.69zM1895.1,847.6l14.44,7.34v14.69l-14.44,7.34l-14.44,-7.34v-14.69zM1924.0,847.6l14.44,7.34v14.69l-14.44,7.34l-14.44,-7.34v-14.69zM1952.8,847.6l14.44,7.34v14.69l-14.44,7.34l-14.44,-7.34v-14.69zM206.2,869.6l14.44,7.34v14.69l-14.44,7.34l-14.44,-7.34v-14.69zM523.8,869.6l14.44,7.34v14.69l-14.44,7.34l-14.44,-7.34v-14.69zM552.6,869.6l14.44,7.34v14.69l-14.44,7.34l-14.44,-7.34v-14.69zM668.1,869.6l14.44,7.34v14.69l-14.44,7.34l-14.44,-7.34v-14.69zM697.0,869.6l14.44,7.34v14.69l-14.44,7.34l-14.44,-7.34v-14.69zM725.9,869.6l14.44,7.34v14.69l-14.44,7.34l-14.44,-7.34v-14.69zM841.4,869.6l14.44,7.34v14.69l-14.44,7.34l-14.44,-7.34v-14.69zM1072.3,869.6l14.44,7.34v14.69l-14.44,7.34l-14.44,-7.34v-14.69zM1274.4,869.6l14.44,7.34v14.69l-14.44,7.34l-14.44,-7.34v-14.69zM1303.3,869.6l14.44,7.34v14.69l-14.44,7.34l-14.44,-7.34v-14.69zM1332.1,869.6l14.44,7.34v14.69l-14.44,7.34l-14.44,-7.34v-14.69zM1534.2,869.6l14.44,7.34v14.69l-14.44,7.34l-14.44,-7.34v-14.69zM1563.1,869.6l14.44,7.34v14.69l-14.44,7.34l-14.44,-7.34v-14.69zM1620.8,869.6l14.44,7.34v14.69l-14.44,7.34l-14.44,-7.34v-14.69zM1678.6,869.6l14.44,7.34v14.69l-14.44,7.34l-14.44,-7.34v-14.69zM1707.5,869.6l14.44,7.34v14.69l-14.44,7.34l-14.44,-7.34v-14.69zM1880.7,869.6l14.44,7.34v14.69l-14.44,7.34l-14.44,-7.34v-14.69zM1909.5,869.6l14.44,7.34v14.69l-14.44,7.34l-14.44,-7.34v-14.69zM1967.3,869.6l14.44,7.34v14.69l-14.44,7.34l-14.44,-7.34v-14.69zM220.6,891.7l14.44,7.34v14.69l-14.44,7.34l-14.44,-7.34v-14.69zM567.1,891.7l14.44,7.34v14.69l-14.44,7.34l-14.44,-7.34v-14.69zM624.8,891.7l14.44,7.34v14.69l-14.44,7.34l-14.44,-7.34v-14.69zM682.6,891.7l14.44,7.34v14.69l-14.44,7.34l-14.44,-7.34v-14.69zM740.3,891.7l14.44,7.34v14.69l-14.44,7.34l-14.44,-7.34v-14.69zM913.5,891.7l14.44,7.34v14.69l-14.44,7.34l-14.44,-7.34v-14.69zM1577.5,891.7l14.44,7.34v14.69l-14.44,7.34l-14.44,-7.34v-14.69zM1606.4,891.7l14.44,7.34v14.69l-14.44,7.34l-14.44,-7.34v-14.69zM1808.5,891.7l14.44,7.34v14.69l-14.44,7.34l-14.44,-7.34v-14.69zM1952.8,891.7l14.44,7.34v14.69l-14.44,7.34l-14.44,-7.34v-14.69zM1981.7,891.7l14.44,7.34v14.69l-14.44,7.34l-14.44,-7.34v-14.69zM2010.6,891.7l14.44,7.34v14.69l-14.44,7.34l-14.44,-7.34v-14.69zM206.2,913.7l14.44,7.34v14.69l-14.44,7.34l-14.44,-7.34v-14.69zM379.4,913.7l14.44,7.34v14.69l-14.44,7.34l-14.44,-7.34v-14.69zM552.6,913.7l14.44,7.34v14.69l-14.44,7.34l-14.44,-7.34v-14.69zM581.5,913.7l14.44,7.34v14.69l-14.44,7.34l-14.44,-7.34v-14.69zM812.5,913.7l14.44,7.34v14.69l-14.44,7.34l-14.44,-7.34v-14.69zM1274.4,913.7l14.44,7.34v14.69l-14.44,7.34l-14.44,-7.34v-14.69zM1505.4,913.7l14.44,7.34v14.69l-14.44,7.34l-14.44,-7.34v-14.69zM1563.1,913.7l14.44,7.34v14.69l-14.44,7.34l-14.44,-7.34v-14.69zM1620.8,913.7l14.44,7.34v14.69l-14.44,7.34l-14.44,-7.34v-14.69zM1736.3,913.7l14.44,7.34v14.69l-14.44,7.34l-14.44,-7.34v-14.69zM1794.1,913.7l14.44,7.34v14.69l-14.44,7.34l-14.44,-7.34v-14.69zM1822.9,913.7l14.44,7.34v14.69l-14.44,7.34l-14.44,-7.34v-14.69zM1851.8,913.7l14.44,7.34v14.69l-14.44,7.34l-14.44,-7.34v-14.69zM1880.7,913.7l14.44,7.34v14.69l-14.44,7.34l-14.44,-7.34v-14.69zM1909.5,913.7l14.44,7.34v14.69l-14.44,7.34l-14.44,-7.34v-14.69zM1938.4,913.7l14.44,7.34v14.69l-14.44,7.34l-14.44,-7.34v-14.69zM1967.3,913.7l14.44,7.34v14.69l-14.44,7.34l-14.44,-7.34v-14.69zM1996.2,913.7l14.44,7.34v14.69l-14.44,7.34l-14.44,-7.34v-14.69zM2025.0,913.7l14.44,7.34v14.69l-14.44,7.34l-14.44,-7.34v-14.69zM220.6,935.7l14.44,7.34v14.69l-14.44,7.34l-14.44,-7.34v-14.69zM567.1,935.7l14.44,7.34v14.69l-14.44,7.34l-14.44,-7.34v-14.69zM596.0,935.7l14.44,7.34v14.69l-14.44,7.34l-14.44,-7.34v-14.69zM711.4,935.7l14.44,7.34v14.69l-14.44,7.34l-14.44,-7.34v-14.69zM942.4,935.7l14.44,7.34v14.69l-14.44,7.34l-14.44,-7.34v-14.69zM1519.8,935.7l14.44,7.34v14.69l-14.44,7.34l-14.44,-7.34v-14.69zM1577.5,935.7l14.44,7.34v14.69l-14.44,7.34l-14.44,-7.34v-14.69zM1606.4,935.7l14.44,7.34v14.69l-14.44,7.34l-14.44,-7.34v-14.69zM1664.1,935.7l14.44,7.34v14.69l-14.44,7.34l-14.44,-7.34v-14.69zM1693.0,935.7l14.44,7.34v14.69l-14.44,7.34l-14.44,-7.34v-14.69zM1750.8,935.7l14.44,7.34v14.69l-14.44,7.34l-14.44,-7.34v-14.69zM1779.6,935.7l14.44,7.34v14.69l-14.44,7.34l-14.44,-7.34v-14.69zM1808.5,935.7l14.44,7.34v14.69l-14.44,7.34l-14.44,-7.34v-14.69zM1837.4,935.7l14.44,7.34v14.69l-14.44,7.34l-14.44,-7.34v-14.69zM1866.2,935.7l14.44,7.34v14.69l-14.44,7.34l-14.44,-7.34v-14.69zM1895.1,935.7l14.44,7.34v14.69l-14.44,7.34l-14.44,-7.34v-14.69zM1924.0,935.7l14.44,7.34v14.69l-14.44,7.34l-14.44,-7.34v-14.69zM1952.8,935.7l14.44,7.34v14.69l-14.44,7.34l-14.44,-7.34v-14.69zM1981.7,935.7l14.44,7.34v14.69l-14.44,7.34l-14.44,-7.34v-14.69zM235.1,957.8l14.44,7.34v14.69l-14.44,7.34l-14.44,-7.34v-14.69zM350.6,957.8l14.44,7.34v14.69l-14.44,7.34l-14.44,-7.34v-14.69zM494.9,957.8l14.44,7.34v14.69l-14.44,7.34l-14.44,-7.34v-14.69zM523.8,957.8l14.44,7.34v14.69l-14.44,7.34l-14.44,-7.34v-14.69zM610.4,957.8l14.44,7.34v14.69l-14.44,7.34l-14.44,-7.34v-14.69zM639.3,957.8l14.44,7.34v14.69l-14.44,7.34l-14.44,-7.34v-14.69zM668.1,957.8l14.44,7.34v14.69l-14.44,7.34l-14.44,-7.34v-14.69zM697.0,957.8l14.44,7.34v14.69l-14.44,7.34l-14.44,-7.34v-14.69zM1043.4,957.8l14.44,7.34v14.69l-14.44,7.34l-14.44,-7.34v-14.69zM1130.0,957.8l14.44,7.34v14.69l-14.44,7.34l-14.44,-7.34v-14.69zM1476.5,957.8l14.44,7.34v14.69l-14.44,7.34l-14.44,-7.34v-14.69zM1505.4,957.8l14.44,7.34v14.69l-14.44,7.34l-14.44,-7.34v-14.69zM1534.2,957.8l14.44,7.34v14.69l-14.44,7.34l-14.44,-7.34v-14.69zM1563.1,957.8l14.44,7.34v14.69l-14.44,7.34l-14.44,-7.34v-14.69zM1592.0,957.8l14.44,7.34v14.69l-14.44,7.34l-14.44,-7.34v-14.69zM1620.8,957.8l14.44,7.34v14.69l-14.44,7.34l-14.44,-7.34v-14.69zM1678.6,957.8l14.44,7.34v14.69l-14.44,7.34l-14.44,-7.34v-14.69zM1707.5,957.8l14.44,7.34v14.69l-14.44,7.34l-14.44,-7.34v-14.69zM1736.3,957.8l14.44,7.34v14.69l-14.44,7.34l-14.44,-7.34v-14.69zM1880.7,957.8l14.44,7.34v14.69l-14.44,7.34l-14.44,-7.34v-14.69zM1909.5,957.8l14.44,7.34v14.69l-14.44,7.34l-14.44,-7.34v-14.69zM1938.4,957.8l14.44,7.34v14.69l-14.44,7.34l-14.44,-7.34v-14.69zM1996.2,957.8l14.44,7.34v14.69l-14.44,7.34l-14.44,-7.34v-14.69zM191.8,979.8l14.44,7.34v14.69l-14.44,7.34l-14.44,-7.34v-14.69zM509.3,979.8l14.44,7.34v14.69l-14.44,7.34l-14.44,-7.34v-14.69zM653.7,979.8l14.44,7.34v14.69l-14.44,7.34l-14.44,-7.34v-14.69zM711.4,979.8l14.44,7.34v14.69l-14.44,7.34l-14.44,-7.34v-14.69zM798.0,979.8l14.44,7.34v14.69l-14.44,7.34l-14.44,-7.34v-14.69zM855.8,979.8l14.44,7.34v14.69l-14.44,7.34l-14.44,-7.34v-14.69zM1086.7,979.8l14.44,7.34v14.69l-14.44,7.34l-14.44,-7.34v-14.69zM1173.4,979.8l14.44,7.34v14.69l-14.44,7.34l-14.44,-7.34v-14.69zM1490.9,979.8l14.44,7.34v14.69l-14.44,7.34l-14.44,-7.34v-14.69zM1519.8,979.8l14.44,7.34v14.69l-14.44,7.34l-14.44,-7.34v-14.69zM1577.5,979.8l14.44,7.34v14.69l-14.44,7.34l-14.44,-7.34v-14.69zM1606.4,979.8l14.44,7.34v14.69l-14.44,7.34l-14.44,-7.34v-14.69zM1635.3,979.8l14.44,7.34v14.69l-14.44,7.34l-14.44,-7.34v-14.69zM1664.1,979.8l14.44,7.34v14.69l-14.44,7.34l-14.44,-7.34v-14.69zM1693.0,979.8l14.44,7.34v14.69l-14.44,7.34l-14.44,-7.34v-14.69zM1721.9,979.8l14.44,7.34v14.69l-14.44,7.34l-14.44,-7.34v-14.69zM1808.5,979.8l14.44,7.34v14.69l-14.44,7.34l-14.44,-7.34v-14.69zM1837.4,979.8l14.44,7.34v14.69l-14.44,7.34l-14.44,-7.34v-14.69zM1866.2,979.8l14.44,7.34v14.69l-14.44,7.34l-14.44,-7.34v-14.69zM1895.1,979.8l14.44,7.34v14.69l-14.44,7.34l-14.44,-7.34v-14.69zM1924.0,979.8l14.44,7.34v14.69l-14.44,7.34l-14.44,-7.34v-14.69zM1952.8,979.8l14.44,7.34v14.69l-14.44,7.34l-14.44,-7.34v-14.69zM206.2,1001.8l14.44,7.34v14.69l-14.44,7.34l-14.44,-7.34v-14.69zM379.4,1001.8l14.44,7.34v14.69l-14.44,7.34l-14.44,-7.34v-14.69zM523.8,1001.8l14.44,7.34v14.69l-14.44,7.34l-14.44,-7.34v-14.69zM639.3,1001.8l14.44,7.34v14.69l-14.44,7.34l-14.44,-7.34v-14.69zM725.9,1001.8l14.44,7.34v14.69l-14.44,7.34l-14.44,-7.34v-14.69zM1101.2,1001.8l14.44,7.34v14.69l-14.44,7.34l-14.44,-7.34v-14.69zM1130.0,1001.8l14.44,7.34v14.69l-14.44,7.34l-14.44,-7.34v-14.69zM1245.5,1001.8l14.44,7.34v14.69l-14.44,7.34l-14.44,-7.34v-14.69zM1332.1,1001.8l14.44,7.34v14.69l-14.44,7.34l-14.44,-7.34v-14.69zM1534.2,1001.8l14.44,7.34v14.69l-14.44,7.34l-14.44,-7.34v-14.69zM1563.1,1001.8l14.44,7.34v14.69l-14.44,7.34l-14.44,-7.34v-14.69zM1592.0,1001.8l14.44,7.34v14.69l-14.44,7.34l-14.44,-7.34v-14.69zM1620.8,1001.8l14.44,7.34v14.69l-14.44,7.34l-14.44,-7.34v-14.69zM1649.7,1001.8l14.44,7.34v14.69l-14.44,7.34l-14.44,-7.34v-14.69zM1707.5,1001.8l14.44,7.34v14.69l-14.44,7.34l-14.44,-7.34v-14.69zM1765.2,1001.8l14.44,7.34v14.69l-14.44,7.34l-14.44,-7.34v-14.69zM1822.9,1001.8l14.44,7.34v14.69l-14.44,7.34l-14.44,-7.34v-14.69zM1851.8,1001.8l14.44,7.34v14.69l-14.44,7.34l-14.44,-7.34v-14.69zM1880.7,1001.8l14.44,7.34v14.69l-14.44,7.34l-14.44,-7.34v-14.69zM1909.5,1001.8l14.44,7.34v14.69l-14.44,7.34l-14.44,-7.34v-14.69zM1938.4,1001.8l14.44,7.34v14.69l-14.44,7.34l-14.44,-7.34v-14.69zM191.8,1023.8l14.44,7.34v14.69l-14.44,7.34l-14.44,-7.34v-14.69zM480.5,1023.8l14.44,7.34v14.69l-14.44,7.34l-14.44,-7.34v-14.69zM567.1,1023.8l14.44,7.34v14.69l-14.44,7.34l-14.44,-7.34v-14.69zM596.0,1023.8l14.44,7.34v14.69l-14.44,7.34l-14.44,-7.34v-14.69zM653.7,1023.8l14.44,7.34v14.69l-14.44,7.34l-14.44,-7.34v-14.69zM711.4,1023.8l14.44,7.34v14.69l-14.44,7.34l-14.44,-7.34v-14.69zM1029.0,1023.8l14.44,7.34v14.69l-14.44,7.34l-14.44,-7.34v-14.69zM1519.8,1023.8l14.44,7.34v14.69l-14.44,7.34l-14.44,-7.34v-14.69zM1548.7,1023.8l14.44,7.34v14.69l-14.44,7.34l-14.44,-7.34v-14.69zM1577.5,1023.8l14.44,7.34v14.69l-14.44,7.34l-14.44,-7.34v-14.69zM1606.4,1023.8l14.44,7.34v14.69l-14.44,7.34l-14.44,-7.34v-14.69zM1635.3,1023.8l14.44,7.34v14.69l-14.44,7.34l-14.44,-7.34v-14.69zM1664.1,1023.8l14.44,7.34v14.69l-14.44,7.34l-14.44,-7.34v-14.69zM1693.0,1023.8l14.44,7.34v14.69l-14.44,7.34l-14.44,-7.34v-14.69zM1721.9,1023.8l14.44,7.34v14.69l-14.44,7.34l-14.44,-7.34v-14.69zM1750.8,1023.8l14.44,7.34v14.69l-14.44,7.34l-14.44,-7.34v-14.69zM1808.5,1023.8l14.44,7.34v14.69l-14.44,7.34l-14.44,-7.34v-14.69zM1837.4,1023.8l14.44,7.34v14.69l-14.44,7.34l-14.44,-7.34v-14.69zM1866.2,1023.8l14.44,7.34v14.69l-14.44,7.34l-14.44,-7.34v-14.69zM1895.1,1023.8l14.44,7.34v14.69l-14.44,7.34l-14.44,-7.34v-14.69zM1924.0,1023.8l14.44,7.34v14.69l-14.44,7.34l-14.44,-7.34v-14.69zM1952.8,1023.8l14.44,7.34v14.69l-14.44,7.34l-14.44,-7.34v-14.69zM206.2,1045.9l14.44,7.34v14.69l-14.44,7.34l-14.44,-7.34v-14.69zM523.8,1045.9l14.44,7.34v14.69l-14.44,7.34l-14.44,-7.34v-14.69zM552.6,1045.9l14.44,7.34v14.69l-14.44,7.34l-14.44,-7.34v-14.69zM581.5,1045.9l14.44,7.34v14.69l-14.44,7.34l-14.44,-7.34v-14.69zM639.3,1045.9l14.44,7.34v14.69l-14.44,7.34l-14.44,-7.34v-14.69zM697.0,1045.9l14.44,7.34v14.69l-14.44,7.34l-14.44,-7.34v-14.69zM725.9,1045.9l14.44,7.34v14.69l-14.44,7.34l-14.44,-7.34v-14.69zM1216.7,1045.9l14.44,7.34v14.69l-14.44,7.34l-14.44,-7.34v-14.69zM1505.4,1045.9l14.44,7.34v14.69l-14.44,7.34l-14.44,-7.34v-14.69zM1534.2,1045.9l14.44,7.34v14.69l-14.44,7.34l-14.44,-7.34v-14.69zM1592.0,1045.9l14.44,7.34v14.69l-14.44,7.34l-14.44,-7.34v-14.69zM1620.8,1045.9l14.44,7.34v14.69l-14.44,7.34l-14.44,-7.34v-14.69zM1649.7,1045.9l14.44,7.34v14.69l-14.44,7.34l-14.44,-7.34v-14.69zM1678.6,1045.9l14.44,7.34v14.69l-14.44,7.34l-14.44,-7.34v-14.69zM1707.5,1045.9l14.44,7.34v14.69l-14.44,7.34l-14.44,-7.34v-14.69zM1736.3,1045.9l14.44,7.34v14.69l-14.44,7.34l-14.44,-7.34v-14.69zM1765.2,1045.9l14.44,7.34v14.69l-14.44,7.34l-14.44,-7.34v-14.69zM1794.1,1045.9l14.44,7.34v14.69l-14.44,7.34l-14.44,-7.34v-14.69zM1822.9,1045.9l14.44,7.34v14.69l-14.44,7.34l-14.44,-7.34v-14.69zM1851.8,1045.9l14.44,7.34v14.69l-14.44,7.34l-14.44,-7.34v-14.69zM1880.7,1045.9l14.44,7.34v14.69l-14.44,7.34l-14.44,-7.34v-14.69zM1909.5,1045.9l14.44,7.34v14.69l-14.44,7.34l-14.44,-7.34v-14.69zM1967.3,1045.9l14.44,7.34v14.69l-14.44,7.34l-14.44,-7.34v-14.69zM220.6,1067.9l14.44,7.34v14.69l-14.44,7.34l-14.44,-7.34v-14.69zM249.5,1067.9l14.44,7.34v14.69l-14.44,7.34l-14.44,-7.34v-14.69zM278.4,1067.9l14.44,7.34v14.69l-14.44,7.34l-14.44,-7.34v-14.69zM365.0,1067.9l14.44,7.34v14.69l-14.44,7.34l-14.44,-7.34v-14.69zM451.6,1067.9l14.44,7.34v14.69l-14.44,7.34l-14.44,-7.34v-14.69zM567.1,1067.9l14.44,7.34v14.69l-14.44,7.34l-14.44,-7.34v-14.69zM596.0,1067.9l14.44,7.34v14.69l-14.44,7.34l-14.44,-7.34v-14.69zM624.8,1067.9l14.44,7.34v14.69l-14.44,7.34l-14.44,-7.34v-14.69zM740.3,1067.9l14.44,7.34v14.69l-14.44,7.34l-14.44,-7.34v-14.69zM826.9,1067.9l14.44,7.34v14.69l-14.44,7.34l-14.44,-7.34v-14.69zM855.8,1067.9l14.44,7.34v14.69l-14.44,7.34l-14.44,-7.34v-14.69zM942.4,1067.9l14.44,7.34v14.69l-14.44,7.34l-14.44,-7.34v-14.69zM1029.0,1067.9l14.44,7.34v14.69l-14.44,7.34l-14.44,-7.34v-14.69zM1490.9,1067.9l14.44,7.34v14.69l-14.44,7.34l-14.44,-7.34v-14.69zM1519.8,1067.9l14.44,7.34v14.69l-14.44,7.34l-14.44,-7.34v-14.69zM1577.5,1067.9l14.44,7.34v14.69l-14.44,7.34l-14.44,-7.34v-14.69zM1606.4,1067.9l14.44,7.34v14.69l-14.44,7.34l-14.44,-7.34v-14.69zM1635.3,1067.9l14.44,7.34v14.69l-14.44,7.34l-14.44,-7.34v-14.69zM1664.1,1067.9l14.44,7.34v14.69l-14.44,7.34l-14.44,-7.34v-14.69zM1693.0,1067.9l14.44,7.34v14.69l-14.44,7.34l-14.44,-7.34v-14.69zM1721.9,1067.9l14.44,7.34v14.69l-14.44,7.34l-14.44,-7.34v-14.69zM1750.8,1067.9l14.44,7.34v14.69l-14.44,7.34l-14.44,-7.34v-14.69zM1779.6,1067.9l14.44,7.34v14.69l-14.44,7.34l-14.44,-7.34v-14.69zM1808.5,1067.9l14.44,7.34v14.69l-14.44,7.34l-14.44,-7.34v-14.69zM1837.4,1067.9l14.44,7.34v14.69l-14.44,7.34l-14.44,-7.34v-14.69zM1866.2,1067.9l14.44,7.34v14.69l-14.44,7.34l-14.44,-7.34v-14.69zM1895.1,1067.9l14.44,7.34v14.69l-14.44,7.34l-14.44,-7.34v-14.69zM1924.0,1067.9l14.44,7.34v14.69l-14.44,7.34l-14.44,-7.34v-14.69zM177.3,1089.9l14.44,7.34v14.69l-14.44,7.34l-14.44,-7.34v-14.69zM235.1,1089.9l14.44,7.34v14.69l-14.44,7.34l-14.44,-7.34v-14.69zM263.9,1089.9l14.44,7.34v14.69l-14.44,7.34l-14.44,-7.34v-14.69zM292.8,1089.9l14.44,7.34v14.69l-14.44,7.34l-14.44,-7.34v-14.69zM321.7,1089.9l14.44,7.34v14.69l-14.44,7.34l-14.44,-7.34v-14.69zM350.6,1089.9l14.44,7.34v14.69l-14.44,7.34l-14.44,-7.34v-14.69zM494.9,1089.9l14.44,7.34v14.69l-14.44,7.34l-14.44,-7.34v-14.69zM523.8,1089.9l14.44,7.34v14.69l-14.44,7.34l-14.44,-7.34v-14.69zM552.6,1089.9l14.44,7.34v14.69l-14.44,7.34l-14.44,-7.34v-14.69zM581.5,1089.9l14.44,7.34v14.69l-14.44,7.34l-14.44,-7.34v-14.69zM639.3,1089.9l14.44,7.34v14.69l-14.44,7.34l-14.44,-7.34v-14.69zM668.1,1089.9l14.44,7.34v14.69l-14.44,7.34l-14.44,-7.34v-14.69zM841.4,1089.9l14.44,7.34v14.69l-14.44,7.34l-14.44,-7.34v-14.69zM1130.0,1089.9l14.44,7.34v14.69l-14.44,7.34l-14.44,-7.34v-14.69zM1187.8,1089.9l14.44,7.34v14.69l-14.44,7.34l-14.44,-7.34v-14.69zM1505.4,1089.9l14.44,7.34v14.69l-14.44,7.34l-14.44,-7.34v-14.69zM1534.2,1089.9l14.44,7.34v14.69l-14.44,7.34l-14.44,-7.34v-14.69zM1620.8,1089.9l14.44,7.34v14.69l-14.44,7.34l-14.44,-7.34v-14.69zM1649.7,1089.9l14.44,7.34v14.69l-14.44,7.34l-14.44,-7.34v-14.69zM1678.6,1089.9l14.44,7.34v14.69l-14.44,7.34l-14.44,-7.34v-14.69zM1736.3,1089.9l14.44,7.34v14.69l-14.44,7.34l-14.44,-7.34v-14.69zM1765.2,1089.9l14.44,7.34v14.69l-14.44,7.34l-14.44,-7.34v-14.69zM1794.1,1089.9l14.44,7.34v14.69l-14.44,7.34l-14.44,-7.34v-14.69zM1822.9,1089.9l14.44,7.34v14.69l-14.44,7.34l-14.44,-7.34v-14.69zM1851.8,1089.9l14.44,7.34v14.69l-14.44,7.34l-14.44,-7.34v-14.69zM1880.7,1089.9l14.44,7.34v14.69l-14.44,7.34l-14.44,-7.34v-14.69zM1909.5,1089.9l14.44,7.34v14.69l-14.44,7.34l-14.44,-7.34v-14.69zM191.8,1112.0l14.44,7.34v14.69l-14.44,7.34l-14.44,-7.34v-14.69zM220.6,1112.0l14.44,7.34v14.69l-14.44,7.34l-14.44,-7.34v-14.69zM249.5,1112.0l14.44,7.34v14.69l-14.44,7.34l-14.44,-7.34v-14.69zM278.4,1112.0l14.44,7.34v14.69l-14.44,7.34l-14.44,-7.34v-14.69zM336.1,1112.0l14.44,7.34v14.69l-14.44,7.34l-14.44,-7.34v-14.69zM596.0,1112.0l14.44,7.34v14.69l-14.44,7.34l-14.44,-7.34v-14.69zM624.8,1112.0l14.44,7.34v14.69l-14.44,7.34l-14.44,-7.34v-14.69zM653.7,1112.0l14.44,7.34v14.69l-14.44,7.34l-14.44,-7.34v-14.69zM682.6,1112.0l14.44,7.34v14.69l-14.44,7.34l-14.44,-7.34v-14.69zM711.4,1112.0l14.44,7.34v14.69l-14.44,7.34l-14.44,-7.34v-14.69zM913.5,1112.0l14.44,7.34v14.69l-14.44,7.34l-14.44,-7.34v-14.69zM1202.2,1112.0l14.44,7.34v14.69l-14.44,7.34l-14.44,-7.34v-14.69zM1231.1,1112.0l14.44,7.34v14.69l-14.44,7.34l-14.44,-7.34v-14.69zM1260.0,1112.0l14.44,7.34v14.69l-14.44,7.34l-14.44,-7.34v-14.69zM1317.7,1112.0l14.44,7.34v14.69l-14.44,7.34l-14.44,-7.34v-14.69zM1404.3,1112.0l14.44,7.34v14.69l-14.44,7.34l-14.44,-7.34v-14.69zM1433.2,1112.0l14.44,7.34v14.69l-14.44,7.34l-14.44,-7.34v-14.69zM1490.9,1112.0l14.44,7.34v14.69l-14.44,7.34l-14.44,-7.34v-14.69zM1548.7,1112.0l14.44,7.34v14.69l-14.44,7.34l-14.44,-7.34v-14.69zM1577.5,1112.0l14.44,7.34v14.69l-14.44,7.34l-14.44,-7.34v-14.69zM1606.4,1112.0l14.44,7.34v14.69l-14.44,7.34l-14.44,-7.34v-14.69zM1635.3,1112.0l14.44,7.34v14.69l-14.44,7.34l-14.44,-7.34v-14.69zM1664.1,1112.0l14.44,7.34v14.69l-14.44,7.34l-14.44,-7.34v-14.69zM1693.0,1112.0l14.44,7.34v14.69l-14.44,7.34l-14.44,-7.34v-14.69zM1750.8,1112.0l14.44,7.34v14.69l-14.44,7.34l-14.44,-7.34v-14.69zM1779.6,1112.0l14.44,7.34v14.69l-14.44,7.34l-14.44,-7.34v-14.69zM1808.5,1112.0l14.44,7.34v14.69l-14.44,7.34l-14.44,-7.34v-14.69zM1837.4,1112.0l14.44,7.34v14.69l-14.44,7.34l-14.44,-7.34v-14.69zM1866.2,1112.0l14.44,7.34v14.69l-14.44,7.34l-14.44,-7.34v-14.69zM1895.1,1112.0l14.44,7.34v14.69l-14.44,7.34l-14.44,-7.34v-14.69zM1924.0,1112.0l14.44,7.34v14.69l-14.44,7.34l-14.44,-7.34v-14.69zM321.7,1134.0l14.44,7.34v14.69l-14.44,7.34l-14.44,-7.34v-14.69zM408.3,1134.0l14.44,7.34v14.69l-14.44,7.34l-14.44,-7.34v-14.69zM523.8,1134.0l14.44,7.34v14.69l-14.44,7.34l-14.44,-7.34v-14.69zM552.6,1134.0l14.44,7.34v14.69l-14.44,7.34l-14.44,-7.34v-14.69zM581.5,1134.0l14.44,7.34v14.69l-14.44,7.34l-14.44,-7.34v-14.69zM610.4,1134.0l14.44,7.34v14.69l-14.44,7.34l-14.44,-7.34v-14.69zM668.1,1134.0l14.44,7.34v14.69l-14.44,7.34l-14.44,-7.34v-14.69zM697.0,1134.0l14.44,7.34v14.69l-14.44,7.34l-14.44,-7.34v-14.69zM725.9,1134.0l14.44,7.34v14.69l-14.44,7.34l-14.44,-7.34v-14.69zM754.7,1134.0l14.44,7.34v14.69l-14.44,7.34l-14.44,-7.34v-14.69zM783.6,1134.0l14.44,7.34v14.69l-14.44,7.34l-14.44,-7.34v-14.69zM841.4,1134.0l14.44,7.34v14.69l-14.44,7.34l-14.44,-7.34v-14.69zM870.2,1134.0l14.44,7.34v14.69l-14.44,7.34l-14.44,-7.34v-14.69zM899.1,1134.0l14.44,7.34v14.69l-14.44,7.34l-14.44,-7.34v-14.69zM1072.3,1134.0l14.44,7.34v14.69l-14.44,7.34l-14.44,-7.34v-14.69zM1216.7,1134.0l14.44,7.34v14.69l-14.44,7.34l-14.44,-7.34v-14.69zM1245.5,1134.0l14.44,7.34v14.69l-14.44,7.34l-14.44,-7.34v-14.69zM1303.3,1134.0l14.44,7.34v14.69l-14.44,7.34l-14.44,-7.34v-14.69zM1476.5,1134.0l14.44,7.34v14.69l-14.44,7.34l-14.44,-7.34v-14.69zM1505.4,1134.0l14.44,7.34v14.69l-14.44,7.34l-14.44,-7.34v-14.69zM1534.2,1134.0l14.44,7.34v14.69l-14.44,7.34l-14.44,-7.34v-14.69zM1563.1,1134.0l14.44,7.34v14.69l-14.44,7.34l-14.44,-7.34v-14.69zM1592.0,1134.0l14.44,7.34v14.69l-14.44,7.34l-14.44,-7.34v-14.69zM1620.8,1134.0l14.44,7.34v14.69l-14.44,7.34l-14.44,-7.34v-14.69zM1649.7,1134.0l14.44,7.34v14.69l-14.44,7.34l-14.44,-7.34v-14.69zM1678.6,1134.0l14.44,7.34v14.69l-14.44,7.34l-14.44,-7.34v-14.69zM1707.5,1134.0l14.44,7.34v14.69l-14.44,7.34l-14.44,-7.34v-14.69zM1736.3,1134.0l14.44,7.34v14.69l-14.44,7.34l-14.44,-7.34v-14.69zM1765.2,1134.0l14.44,7.34v14.69l-14.44,7.34l-14.44,-7.34v-14.69zM1794.1,1134.0l14.44,7.34v14.69l-14.44,7.34l-14.44,-7.34v-14.69zM1822.9,1134.0l14.44,7.34v14.69l-14.44,7.34l-14.44,-7.34v-14.69zM1851.8,1134.0l14.44,7.34v14.69l-14.44,7.34l-14.44,-7.34v-14.69zM1880.7,1134.0l14.44,7.34v14.69l-14.44,7.34l-14.44,-7.34v-14.69zM1909.5,1134.0l14.44,7.34v14.69l-14.44,7.34l-14.44,-7.34v-14.69zM307.3,1156.0l14.44,7.34v14.69l-14.44,7.34l-14.44,-7.34v-14.69zM336.1,1156.0l14.44,7.34v14.69l-14.44,7.34l-14.44,-7.34v-14.69zM393.9,1156.0l14.44,7.34v14.69l-14.44,7.34l-14.44,-7.34v-14.69zM509.3,1156.0l14.44,7.34v14.69l-14.44,7.34l-14.44,-7.34v-14.69zM567.1,1156.0l14.44,7.34v14.69l-14.44,7.34l-14.44,-7.34v-14.69zM624.8,1156.0l14.44,7.34v14.69l-14.44,7.34l-14.44,-7.34v-14.69zM711.4,1156.0l14.44,7.34v14.69l-14.44,7.34l-14.44,-7.34v-14.69zM740.3,1156.0l14.44,7.34v14.69l-14.44,7.34l-14.44,-7.34v-14.69zM769.2,1156.0l14.44,7.34v14.69l-14.44,7.34l-14.44,-7.34v-14.69zM798.0,1156.0l14.44,7.34v14.69l-14.44,7.34l-14.44,-7.34v-14.69zM826.9,1156.0l14.44,7.34v14.69l-14.44,7.34l-14.44,-7.34v-14.69zM855.8,1156.0l14.44,7.34v14.69l-14.44,7.34l-14.44,-7.34v-14.69zM913.5,1156.0l14.44,7.34v14.69l-14.44,7.34l-14.44,-7.34v-14.69zM942.4,1156.0l14.44,7.34v14.69l-14.44,7.34l-14.44,-7.34v-14.69zM1000.1,1156.0l14.44,7.34v14.69l-14.44,7.34l-14.44,-7.34v-14.69zM1029.0,1156.0l14.44,7.34v14.69l-14.44,7.34l-14.44,-7.34v-14.69zM1086.7,1156.0l14.44,7.34v14.69l-14.44,7.34l-14.44,-7.34v-14.69zM1115.6,1156.0l14.44,7.34v14.69l-14.44,7.34l-14.44,-7.34v-14.69zM1231.1,1156.0l14.44,7.34v14.69l-14.44,7.34l-14.44,-7.34v-14.69zM1260.0,1156.0l14.44,7.34v14.69l-14.44,7.34l-14.44,-7.34v-14.69zM1317.7,1156.0l14.44,7.34v14.69l-14.44,7.34l-14.44,-7.34v-14.69zM1490.9,1156.0l14.44,7.34v14.69l-14.44,7.34l-14.44,-7.34v-14.69zM1548.7,1156.0l14.44,7.34v14.69l-14.44,7.34l-14.44,-7.34v-14.69zM1577.5,1156.0l14.44,7.34v14.69l-14.44,7.34l-14.44,-7.34v-14.69zM1606.4,1156.0l14.44,7.34v14.69l-14.44,7.34l-14.44,-7.34v-14.69zM1635.3,1156.0l14.44,7.34v14.69l-14.44,7.34l-14.44,-7.34v-14.69zM1664.1,1156.0l14.44,7.34v14.69l-14.44,7.34l-14.44,-7.34v-14.69zM1721.9,1156.0l14.44,7.34v14.69l-14.44,7.34l-14.44,-7.34v-14.69zM1750.8,1156.0l14.44,7.34v14.69l-14.44,7.34l-14.44,-7.34v-14.69zM1779.6,1156.0l14.44,7.34v14.69l-14.44,7.34l-14.44,-7.34v-14.69zM1808.5,1156.0l14.44,7.34v14.69l-14.44,7.34l-14.44,-7.34v-14.69zM1837.4,1156.0l14.44,7.34v14.69l-14.44,7.34l-14.44,-7.34v-14.69zM1866.2,1156.0l14.44,7.34v14.69l-14.44,7.34l-14.44,-7.34v-14.69zM1895.1,1156.0l14.44,7.34v14.69l-14.44,7.34l-14.44,-7.34v-14.69zM1924.0,1156.0l14.44,7.34v14.69l-14.44,7.34l-14.44,-7.34v-14.69zM1952.8,1156.0l14.44,7.34v14.69l-14.44,7.34l-14.44,-7.34v-14.69zM2010.6,1156.0l14.44,7.34v14.69l-14.44,7.34l-14.44,-7.34v-14.69zM350.6,1178.1l14.44,7.34v14.69l-14.44,7.34l-14.44,-7.34v-14.69zM552.6,1178.1l14.44,7.34v14.69l-14.44,7.34l-14.44,-7.34v-14.69zM610.4,1178.1l14.44,7.34v14.69l-14.44,7.34l-14.44,-7.34v-14.69zM697.0,1178.1l14.44,7.34v14.69l-14.44,7.34l-14.44,-7.34v-14.69zM725.9,1178.1l14.44,7.34v14.69l-14.44,7.34l-14.44,-7.34v-14.69zM812.5,1178.1l14.44,7.34v14.69l-14.44,7.34l-14.44,-7.34v-14.69zM1014.6,1178.1l14.44,7.34v14.69l-14.44,7.34l-14.44,-7.34v-14.69zM1130.0,1178.1l14.44,7.34v14.69l-14.44,7.34l-14.44,-7.34v-14.69zM1476.5,1178.1l14.44,7.34v14.69l-14.44,7.34l-14.44,-7.34v-14.69zM1505.4,1178.1l14.44,7.34v14.69l-14.44,7.34l-14.44,-7.34v-14.69zM1534.2,1178.1l14.44,7.34v14.69l-14.44,7.34l-14.44,-7.34v-14.69zM1592.0,1178.1l14.44,7.34v14.69l-14.44,7.34l-14.44,-7.34v-14.69zM1620.8,1178.1l14.44,7.34v14.69l-14.44,7.34l-14.44,-7.34v-14.69zM1649.7,1178.1l14.44,7.34v14.69l-14.44,7.34l-14.44,-7.34v-14.69zM1678.6,1178.1l14.44,7.34v14.69l-14.44,7.34l-14.44,-7.34v-14.69zM1707.5,1178.1l14.44,7.34v14.69l-14.44,7.34l-14.44,-7.34v-14.69zM1736.3,1178.1l14.44,7.34v14.69l-14.44,7.34l-14.44,-7.34v-14.69zM1765.2,1178.1l14.44,7.34v14.69l-14.44,7.34l-14.44,-7.34v-14.69zM1794.1,1178.1l14.44,7.34v14.69l-14.44,7.34l-14.44,-7.34v-14.69zM1822.9,1178.1l14.44,7.34v14.69l-14.44,7.34l-14.44,-7.34v-14.69zM1851.8,1178.1l14.44,7.34v14.69l-14.44,7.34l-14.44,-7.34v-14.69zM1880.7,1178.1l14.44,7.34v14.69l-14.44,7.34l-14.44,-7.34v-14.69zM1909.5,1178.1l14.44,7.34v14.69l-14.44,7.34l-14.44,-7.34v-14.69zM1938.4,1178.1l14.44,7.34v14.69l-14.44,7.34l-14.44,-7.34v-14.69zM336.1,1200.1l14.44,7.34v14.69l-14.44,7.34l-14.44,-7.34v-14.69zM365.0,1200.1l14.44,7.34v14.69l-14.44,7.34l-14.44,-7.34v-14.69zM393.9,1200.1l14.44,7.34v14.69l-14.44,7.34l-14.44,-7.34v-14.69zM509.3,1200.1l14.44,7.34v14.69l-14.44,7.34l-14.44,-7.34v-14.69zM740.3,1200.1l14.44,7.34v14.69l-14.44,7.34l-14.44,-7.34v-14.69zM942.4,1200.1l14.44,7.34v14.69l-14.44,7.34l-14.44,-7.34v-14.69zM1000.1,1200.1l14.44,7.34v14.69l-14.44,7.34l-14.44,-7.34v-14.69zM1086.7,1200.1l14.44,7.34v14.69l-14.44,7.34l-14.44,-7.34v-14.69zM1462.1,1200.1l14.44,7.34v14.69l-14.44,7.34l-14.44,-7.34v-14.69zM1519.8,1200.1l14.44,7.34v14.69l-14.44,7.34l-14.44,-7.34v-14.69zM1548.7,1200.1l14.44,7.34v14.69l-14.44,7.34l-14.44,-7.34v-14.69zM1577.5,1200.1l14.44,7.34v14.69l-14.44,7.34l-14.44,-7.34v-14.69zM1606.4,1200.1l14.44,7.34v14.69l-14.44,7.34l-14.44,-7.34v-14.69zM1635.3,1200.1l14.44,7.34v14.69l-14.44,7.34l-14.44,-7.34v-14.69zM1664.1,1200.1l14.44,7.34v14.69l-14.44,7.34l-14.44,-7.34v-14.69zM1693.0,1200.1l14.44,7.34v14.69l-14.44,7.34l-14.44,-7.34v-14.69zM1721.9,1200.1l14.44,7.34v14.69l-14.44,7.34l-14.44,-7.34v-14.69zM1750.8,1200.1l14.44,7.34v14.69l-14.44,7.34l-14.44,-7.34v-14.69zM1779.6,1200.1l14.44,7.34v14.69l-14.44,7.34l-14.44,-7.34v-14.69zM1808.5,1200.1l14.44,7.34v14.69l-14.44,7.34l-14.44,-7.34v-14.69zM1837.4,1200.1l14.44,7.34v14.69l-14.44,7.34l-14.44,-7.34v-14.69zM1866.2,1200.1l14.44,7.34v14.69l-14.44,7.34l-14.44,-7.34v-14.69zM1924.0,1200.1l14.44,7.34v14.69l-14.44,7.34l-14.44,-7.34v-14.69zM379.4,1222.1l14.44,7.34v14.69l-14.44,7.34l-14.44,-7.34v-14.69zM610.4,1222.1l14.44,7.34v14.69l-14.44,7.34l-14.44,-7.34v-14.69zM812.5,1222.1l14.44,7.34v14.69l-14.44,7.34l-14.44,-7.34v-14.69zM870.2,1222.1l14.44,7.34v14.69l-14.44,7.34l-14.44,-7.34v-14.69zM1130.0,1222.1l14.44,7.34v14.69l-14.44,7.34l-14.44,-7.34v-14.69zM1187.8,1222.1l14.44,7.34v14.69l-14.44,7.34l-14.44,-7.34v-14.69zM1245.5,1222.1l14.44,7.34v14.69l-14.44,7.34l-14.44,-7.34v-14.69zM1274.4,1222.1l14.44,7.34v14.69l-14.44,7.34l-14.44,-7.34v-14.69zM1303.3,1222.1l14.44,7.34v14.69l-14.44,7.34l-14.44,-7.34v-14.69zM1332.1,1222.1l14.44,7.34v14.69l-14.44,7.34l-14.44,-7.34v-14.69zM1505.4,1222.1l14.44,7.34v14.69l-14.44,7.34l-14.44,-7.34v-14.69zM1534.2,1222.1l14.44,7.34v14.69l-14.44,7.34l-14.44,-7.34v-14.69zM1563.1,1222.1l14.44,7.34v14.69l-14.44,7.34l-14.44,-7.34v-14.69zM1592.0,1222.1l14.44,7.34v14.69l-14.44,7.34l-14.44,-7.34v-14.69zM1620.8,1222.1l14.44,7.34v14.69l-14.44,7.34l-14.44,-7.34v-14.69zM1649.7,1222.1l14.44,7.34v14.69l-14.44,7.34l-14.44,-7.34v-14.69zM1678.6,1222.1l14.44,7.34v14.69l-14.44,7.34l-14.44,-7.34v-14.69zM1707.5,1222.1l14.44,7.34v14.69l-14.44,7.34l-14.44,-7.34v-14.69zM1736.3,1222.1l14.44,7.34v14.69l-14.44,7.34l-14.44,-7.34v-14.69zM1765.2,1222.1l14.44,7.34v14.69l-14.44,7.34l-14.44,-7.34v-14.69zM1794.1,1222.1l14.44,7.34v14.69l-14.44,7.34l-14.44,-7.34v-14.69zM1822.9,1222.1l14.44,7.34v14.69l-14.44,7.34l-14.44,-7.34v-14.69zM1851.8,1222.1l14.44,7.34v14.69l-14.44,7.34l-14.44,-7.34v-14.69zM1880.7,1222.1l14.44,7.34v14.69l-14.44,7.34l-14.44,-7.34v-14.69zM1909.5,1222.1l14.44,7.34v14.69l-14.44,7.34l-14.44,-7.34v-14.69zM1938.4,1222.1l14.44,7.34v14.69l-14.44,7.34l-14.44,-7.34v-14.69zM480.5,1244.1l14.44,7.34v14.69l-14.44,7.34l-14.44,-7.34v-14.69zM509.3,1244.1l14.44,7.34v14.69l-14.44,7.34l-14.44,-7.34v-14.69zM538.2,1244.1l14.44,7.34v14.69l-14.44,7.34l-14.44,-7.34v-14.69zM596.0,1244.1l14.44,7.34v14.69l-14.44,7.34l-14.44,-7.34v-14.69zM624.8,1244.1l14.44,7.34v14.69l-14.44,7.34l-14.44,-7.34v-14.69zM653.7,1244.1l14.44,7.34v14.69l-14.44,7.34l-14.44,-7.34v-14.69zM711.4,1244.1l14.44,7.34v14.69l-14.44,7.34l-14.44,-7.34v-14.69zM826.9,1244.1l14.44,7.34v14.69l-14.44,7.34l-14.44,-7.34v-14.69zM1202.2,1244.1l14.44,7.34v14.69l-14.44,7.34l-14.44,-7.34v-14.69zM1231.1,1244.1l14.44,7.34v14.69l-14.44,7.34l-14.44,-7.34v-14.69zM1375.4,1244.1l14.44,7.34v14.69l-14.44,7.34l-14.44,-7.34v-14.69zM1490.9,1244.1l14.44,7.34v14.69l-14.44,7.34l-14.44,-7.34v-14.69zM1548.7,1244.1l14.44,7.34v14.69l-14.44,7.34l-14.44,-7.34v-14.69zM1577.5,1244.1l14.44,7.34v14.69l-14.44,7.34l-14.44,-7.34v-14.69zM1606.4,1244.1l14.44,7.34v14.69l-14.44,7.34l-14.44,-7.34v-14.69zM1635.3,1244.1l14.44,7.34v14.69l-14.44,7.34l-14.44,-7.34v-14.69zM1664.1,1244.1l14.44,7.34v14.69l-14.44,7.34l-14.44,-7.34v-14.69zM1693.0,1244.1l14.44,7.34v14.69l-14.44,7.34l-14.44,-7.34v-14.69zM1721.9,1244.1l14.44,7.34v14.69l-14.44,7.34l-14.44,-7.34v-14.69zM1750.8,1244.1l14.44,7.34v14.69l-14.44,7.34l-14.44,-7.34v-14.69zM1779.6,1244.1l14.44,7.34v14.69l-14.44,7.34l-14.44,-7.34v-14.69zM1808.5,1244.1l14.44,7.34v14.69l-14.44,7.34l-14.44,-7.34v-14.69zM1837.4,1244.1l14.44,7.34v14.69l-14.44,7.34l-14.44,-7.34v-14.69zM1866.2,1244.1l14.44,7.34v14.69l-14.44,7.34l-14.44,-7.34v-14.69zM1895.1,1244.1l14.44,7.34v14.69l-14.44,7.34l-14.44,-7.34v-14.69zM1924.0,1244.1l14.44,7.34v14.69l-14.44,7.34l-14.44,-7.34v-14.69zM1952.8,1244.1l14.44,7.34v14.69l-14.44,7.34l-14.44,-7.34v-14.69zM408.3,1266.2l14.44,7.34v14.69l-14.44,7.34l-14.44,-7.34v-14.69zM494.9,1266.2l14.44,7.34v14.69l-14.44,7.34l-14.44,-7.34v-14.69zM552.6,1266.2l14.44,7.34v14.69l-14.44,7.34l-14.44,-7.34v-14.69zM668.1,1266.2l14.44,7.34v14.69l-14.44,7.34l-14.44,-7.34v-14.69zM697.0,1266.2l14.44,7.34v14.69l-14.44,7.34l-14.44,-7.34v-14.69zM812.5,1266.2l14.44,7.34v14.69l-14.44,7.34l-14.44,-7.34v-14.69zM870.2,1266.2l14.44,7.34v14.69l-14.44,7.34l-14.44,-7.34v-14.69zM928.0,1266.2l14.44,7.34v14.69l-14.44,7.34l-14.44,-7.34v-14.69zM1389.9,1266.2l14.44,7.34v14.69l-14.44,7.34l-14.44,-7.34v-14.69zM1447.6,1266.2l14.44,7.34v14.69l-14.44,7.34l-14.44,-7.34v-14.69zM1505.4,1266.2l14.44,7.34v14.69l-14.44,7.34l-14.44,-7.34v-14.69zM1534.2,1266.2l14.44,7.34v14.69l-14.44,7.34l-14.44,-7.34v-14.69zM1563.1,1266.2l14.44,7.34v14.69l-14.44,7.34l-14.44,-7.34v-14.69zM1592.0,1266.2l14.44,7.34v14.69l-14.44,7.34l-14.44,-7.34v-14.69zM1620.8,1266.2l14.44,7.34v14.69l-14.44,7.34l-14.44,-7.34v-14.69zM1649.7,1266.2l14.44,7.34v14.69l-14.44,7.34l-14.44,-7.34v-14.69zM1678.6,1266.2l14.44,7.34v14.69l-14.44,7.34l-14.44,-7.34v-14.69zM1707.5,1266.2l14.44,7.34v14.69l-14.44,7.34l-14.44,-7.34v-14.69zM1736.3,1266.2l14.44,7.34v14.69l-14.44,7.34l-14.44,-7.34v-14.69zM1765.2,1266.2l14.44,7.34v14.69l-14.44,7.34l-14.44,-7.34v-14.69zM1794.1,1266.2l14.44,7.34v14.69l-14.44,7.34l-14.44,-7.34v-14.69zM1822.9,1266.2l14.44,7.34v14.69l-14.44,7.34l-14.44,-7.34v-14.69zM1851.8,1266.2l14.44,7.34v14.69l-14.44,7.34l-14.44,-7.34v-14.69zM1880.7,1266.2l14.44,7.34v14.69l-14.44,7.34l-14.44,-7.34v-14.69zM1909.5,1266.2l14.44,7.34v14.69l-14.44,7.34l-14.44,-7.34v-14.69zM1938.4,1266.2l14.44,7.34v14.69l-14.44,7.34l-14.44,-7.34v-14.69zM509.3,1288.2l14.44,7.34v14.69l-14.44,7.34l-14.44,-7.34v-14.69zM682.6,1288.2l14.44,7.34v14.69l-14.44,7.34l-14.44,-7.34v-14.69zM740.3,1288.2l14.44,7.34v14.69l-14.44,7.34l-14.44,-7.34v-14.69zM769.2,1288.2l14.44,7.34v14.69l-14.44,7.34l-14.44,-7.34v-14.69zM826.9,1288.2l14.44,7.34v14.69l-14.44,7.34l-14.44,-7.34v-14.69zM1000.1,1288.2l14.44,7.34v14.69l-14.44,7.34l-14.44,-7.34v-14.69zM1115.6,1288.2l14.44,7.34v14.69l-14.44,7.34l-14.44,-7.34v-14.69zM1231.1,1288.2l14.44,7.34v14.69l-14.44,7.34l-14.44,-7.34v-14.69zM1260.0,1288.2l14.44,7.34v14.69l-14.44,7.34l-14.44,-7.34v-14.69zM1288.8,1288.2l14.44,7.34v14.69l-14.44,7.34l-14.44,-7.34v-14.69zM1375.4,1288.2l14.44,7.34v14.69l-14.44,7.34l-14.44,-7.34v-14.69zM1433.2,1288.2l14.44,7.34v14.69l-14.44,7.34l-14.44,-7.34v-14.69zM1519.8,1288.2l14.44,7.34v14.69l-14.44,7.34l-14.44,-7.34v-14.69zM1548.7,1288.2l14.44,7.34v14.69l-14.44,7.34l-14.44,-7.34v-14.69zM1577.5,1288.2l14.44,7.34v14.69l-14.44,7.34l-14.44,-7.34v-14.69zM1606.4,1288.2l14.44,7.34v14.69l-14.44,7.34l-14.44,-7.34v-14.69zM1664.1,1288.2l14.44,7.34v14.69l-14.44,7.34l-14.44,-7.34v-14.69zM1693.0,1288.2l14.44,7.34v14.69l-14.44,7.34l-14.44,-7.34v-14.69zM1721.9,1288.2l14.44,7.34v14.69l-14.44,7.34l-14.44,-7.34v-14.69zM1779.6,1288.2l14.44,7.34v14.69l-14.44,7.34l-14.44,-7.34v-14.69zM1808.5,1288.2l14.44,7.34v14.69l-14.44,7.34l-14.44,-7.34v-14.69zM1866.2,1288.2l14.44,7.34v14.69l-14.44,7.34l-14.44,-7.34v-14.69zM1895.1,1288.2l14.44,7.34v14.69l-14.44,7.34l-14.44,-7.34v-14.69zM494.9,1310.2l14.44,7.34v14.69l-14.44,7.34l-14.44,-7.34v-14.69zM523.8,1310.2l14.44,7.34v14.69l-14.44,7.34l-14.44,-7.34v-14.69zM552.6,1310.2l14.44,7.34v14.69l-14.44,7.34l-14.44,-7.34v-14.69zM610.4,1310.2l14.44,7.34v14.69l-14.44,7.34l-14.44,-7.34v-14.69zM639.3,1310.2l14.44,7.34v14.69l-14.44,7.34l-14.44,-7.34v-14.69zM1332.1,1310.2l14.44,7.34v14.69l-14.44,7.34l-14.44,-7.34v-14.69zM1447.6,1310.2l14.44,7.34v14.69l-14.44,7.34l-14.44,-7.34v-14.69zM1476.5,1310.2l14.44,7.34v14.69l-14.44,7.34l-14.44,-7.34v-14.69zM1505.4,1310.2l14.44,7.34v14.69l-14.44,7.34l-14.44,-7.34v-14.69zM1534.2,1310.2l14.44,7.34v14.69l-14.44,7.34l-14.44,-7.34v-14.69zM1563.1,1310.2l14.44,7.34v14.69l-14.44,7.34l-14.44,-7.34v-14.69zM1592.0,1310.2l14.44,7.34v14.69l-14.44,7.34l-14.44,-7.34v-14.69zM1620.8,1310.2l14.44,7.34v14.69l-14.44,7.34l-14.44,-7.34v-14.69zM1649.7,1310.2l14.44,7.34v14.69l-14.44,7.34l-14.44,-7.34v-14.69zM1678.6,1310.2l14.44,7.34v14.69l-14.44,7.34l-14.44,-7.34v-14.69zM1707.5,1310.2l14.44,7.34v14.69l-14.44,7.34l-14.44,-7.34v-14.69zM1736.3,1310.2l14.44,7.34v14.69l-14.44,7.34l-14.44,-7.34v-14.69zM1794.1,1310.2l14.44,7.34v14.69l-14.44,7.34l-14.44,-7.34v-14.69zM1822.9,1310.2l14.44,7.34v14.69l-14.44,7.34l-14.44,-7.34v-14.69zM1880.7,1310.2l14.44,7.34v14.69l-14.44,7.34l-14.44,-7.34v-14.69zM480.5,1332.3l14.44,7.34v14.69l-14.44,7.34l-14.44,-7.34v-14.69zM509.3,1332.3l14.44,7.34v14.69l-14.44,7.34l-14.44,-7.34v-14.69zM538.2,1332.3l14.44,7.34v14.69l-14.44,7.34l-14.44,-7.34v-14.69zM567.1,1332.3l14.44,7.34v14.69l-14.44,7.34l-14.44,-7.34v-14.69zM624.8,1332.3l14.44,7.34v14.69l-14.44,7.34l-14.44,-7.34v-14.69zM826.9,1332.3l14.44,7.34v14.69l-14.44,7.34l-14.44,-7.34v-14.69zM855.8,1332.3l14.44,7.34v14.69l-14.44,7.34l-14.44,-7.34v-14.69zM1057.9,1332.3l14.44,7.34v14.69l-14.44,7.34l-14.44,-7.34v-14.69zM1173.4,1332.3l14.44,7.34v14.69l-14.44,7.34l-14.44,-7.34v-14.69zM1317.7,1332.3l14.44,7.34v14.69l-14.44,7.34l-14.44,-7.34v-14.69zM1346.6,1332.3l14.44,7.34v14.69l-14.44,7.34l-14.44,-7.34v-14.69zM1433.2,1332.3l14.44,7.34v14.69l-14.44,7.34l-14.44,-7.34v-14.69zM1490.9,1332.3l14.44,7.34v14.69l-14.44,7.34l-14.44,-7.34v-14.69zM1548.7,1332.3l14.44,7.34v14.69l-14.44,7.34l-14.44,-7.34v-14.69zM1606.4,1332.3l14.44,7.34v14.69l-14.44,7.34l-14.44,-7.34v-14.69zM1635.3,1332.3l14.44,7.34v14.69l-14.44,7.34l-14.44,-7.34v-14.69zM1664.1,1332.3l14.44,7.34v14.69l-14.44,7.34l-14.44,-7.34v-14.69zM1693.0,1332.3l14.44,7.34v14.69l-14.44,7.34l-14.44,-7.34v-14.69zM1750.8,1332.3l14.44,7.34v14.69l-14.44,7.34l-14.44,-7.34v-14.69zM1779.6,1332.3l14.44,7.34v14.69l-14.44,7.34l-14.44,-7.34v-14.69zM1808.5,1332.3l14.44,7.34v14.69l-14.44,7.34l-14.44,-7.34v-14.69zM408.3,1354.3l14.44,7.34v14.69l-14.44,7.34l-14.44,-7.34v-14.69zM552.6,1354.3l14.44,7.34v14.69l-14.44,7.34l-14.44,-7.34v-14.69zM610.4,1354.3l14.44,7.34v14.69l-14.44,7.34l-14.44,-7.34v-14.69zM841.4,1354.3l14.44,7.34v14.69l-14.44,7.34l-14.44,-7.34v-14.69zM870.2,1354.3l14.44,7.34v14.69l-14.44,7.34l-14.44,-7.34v-14.69zM1101.2,1354.3l14.44,7.34v14.69l-14.44,7.34l-14.44,-7.34v-14.69zM1187.8,1354.3l14.44,7.34v14.69l-14.44,7.34l-14.44,-7.34v-14.69zM1303.3,1354.3l14.44,7.34v14.69l-14.44,7.34l-14.44,-7.34v-14.69zM1332.1,1354.3l14.44,7.34v14.69l-14.44,7.34l-14.44,-7.34v-14.69zM1418.8,1354.3l14.44,7.34v14.69l-14.44,7.34l-14.44,-7.34v-14.69zM1447.6,1354.3l14.44,7.34v14.69l-14.44,7.34l-14.44,-7.34v-14.69zM1534.2,1354.3l14.44,7.34v14.69l-14.44,7.34l-14.44,-7.34v-14.69zM1620.8,1354.3l14.44,7.34v14.69l-14.44,7.34l-14.44,-7.34v-14.69zM1649.7,1354.3l14.44,7.34v14.69l-14.44,7.34l-14.44,-7.34v-14.69zM1678.6,1354.3l14.44,7.34v14.69l-14.44,7.34l-14.44,-7.34v-14.69zM1707.5,1354.3l14.44,7.34v14.69l-14.44,7.34l-14.44,-7.34v-14.69zM1736.3,1354.3l14.44,7.34v14.69l-14.44,7.34l-14.44,-7.34v-14.69zM1765.2,1354.3l14.44,7.34v14.69l-14.44,7.34l-14.44,-7.34v-14.69zM1794.1,1354.3l14.44,7.34v14.69l-14.44,7.34l-14.44,-7.34v-14.69zM509.3,1376.3l14.44,7.34v14.69l-14.44,7.34l-14.44,-7.34v-14.69zM538.2,1376.3l14.44,7.34v14.69l-14.44,7.34l-14.44,-7.34v-14.69zM682.6,1376.3l14.44,7.34v14.69l-14.44,7.34l-14.44,-7.34v-14.69zM942.4,1376.3l14.44,7.34v14.69l-14.44,7.34l-14.44,-7.34v-14.69zM1115.6,1376.3l14.44,7.34v14.69l-14.44,7.34l-14.44,-7.34v-14.69zM1144.5,1376.3l14.44,7.34v14.69l-14.44,7.34l-14.44,-7.34v-14.69zM1317.7,1376.3l14.44,7.34v14.69l-14.44,7.34l-14.44,-7.34v-14.69zM1462.1,1376.3l14.44,7.34v14.69l-14.44,7.34l-14.44,-7.34v-14.69zM1519.8,1376.3l14.44,7.34v14.69l-14.44,7.34l-14.44,-7.34v-14.69zM1548.7,1376.3l14.44,7.34v14.69l-14.44,7.34l-14.44,-7.34v-14.69zM1577.5,1376.3l14.44,7.34v14.69l-14.44,7.34l-14.44,-7.34v-14.69zM1606.4,1376.3l14.44,7.34v14.69l-14.44,7.34l-14.44,-7.34v-14.69zM1635.3,1376.3l14.44,7.34v14.69l-14.44,7.34l-14.44,-7.34v-14.69zM1664.1,1376.3l14.44,7.34v14.69l-14.44,7.34l-14.44,-7.34v-14.69zM1693.0,1376.3l14.44,7.34v14.69l-14.44,7.34l-14.44,-7.34v-14.69zM1750.8,1376.3l14.44,7.34v14.69l-14.44,7.34l-14.44,-7.34v-14.69zM494.9,1398.4l14.44,7.34v14.69l-14.44,7.34l-14.44,-7.34v-14.69zM523.8,1398.4l14.44,7.34v14.69l-14.44,7.34l-14.44,-7.34v-14.69zM552.6,1398.4l14.44,7.34v14.69l-14.44,7.34l-14.44,-7.34v-14.69zM610.4,1398.4l14.44,7.34v14.69l-14.44,7.34l-14.44,-7.34v-14.69zM725.9,1398.4l14.44,7.34v14.69l-14.44,7.34l-14.44,-7.34v-14.69zM812.5,1398.4l14.44,7.34v14.69l-14.44,7.34l-14.44,-7.34v-14.69zM870.2,1398.4l14.44,7.34v14.69l-14.44,7.34l-14.44,-7.34v-14.69zM899.1,1398.4l14.44,7.34v14.69l-14.44,7.34l-14.44,-7.34v-14.69zM928.0,1398.4l14.44,7.34v14.69l-14.44,7.34l-14.44,-7.34v-14.69zM956.8,1398.4l14.44,7.34v14.69l-14.44,7.34l-14.44,-7.34v-14.69zM1014.6,1398.4l14.44,7.34v14.69l-14.44,7.34l-14.44,-7.34v-14.69zM1043.4,1398.4l14.44,7.34v14.69l-14.44,7.34l-14.44,-7.34v-14.69zM1216.7,1398.4l14.44,7.34v14.69l-14.44,7.34l-14.44,-7.34v-14.69zM1447.6,1398.4l14.44,7.34v14.69l-14.44,7.34l-14.44,-7.34v-14.69zM1476.5,1398.4l14.44,7.34v14.69l-14.44,7.34l-14.44,-7.34v-14.69zM1534.2,1398.4l14.44,7.34v14.69l-14.44,7.34l-14.44,-7.34v-14.69zM1563.1,1398.4l14.44,7.34v14.69l-14.44,7.34l-14.44,-7.34v-14.69zM1620.8,1398.4l14.44,7.34v14.69l-14.44,7.34l-14.44,-7.34v-14.69zM1649.7,1398.4l14.44,7.34v14.69l-14.44,7.34l-14.44,-7.34v-14.69zM1678.6,1398.4l14.44,7.34v14.69l-14.44,7.34l-14.44,-7.34v-14.69zM1707.5,1398.4l14.44,7.34v14.69l-14.44,7.34l-14.44,-7.34v-14.69zM1736.3,1398.4l14.44,7.34v14.69l-14.44,7.34l-14.44,-7.34v-14.69zM1765.2,1398.4l14.44,7.34v14.69l-14.44,7.34l-14.44,-7.34v-14.69zM509.3,1420.4l14.44,7.34v14.69l-14.44,7.34l-14.44,-7.34v-14.69zM538.2,1420.4l14.44,7.34v14.69l-14.44,7.34l-14.44,-7.34v-14.69zM567.1,1420.4l14.44,7.34v14.69l-14.44,7.34l-14.44,-7.34v-14.69zM596.0,1420.4l14.44,7.34v14.69l-14.44,7.34l-14.44,-7.34v-14.69zM682.6,1420.4l14.44,7.34v14.69l-14.44,7.34l-14.44,-7.34v-14.69zM711.4,1420.4l14.44,7.34v14.69l-14.44,7.34l-14.44,-7.34v-14.69zM1029.0,1420.4l14.44,7.34v14.69l-14.44,7.34l-14.44,-7.34v-14.69zM1115.6,1420.4l14.44,7.34v14.69l-14.44,7.34l-14.44,-7.34v-14.69zM1173.4,1420.4l14.44,7.34v14.69l-14.44,7.34l-14.44,-7.34v-14.69zM1202.2,1420.4l14.44,7.34v14.69l-14.44,7.34l-14.44,-7.34v-14.69zM1404.3,1420.4l14.44,7.34v14.69l-14.44,7.34l-14.44,-7.34v-14.69zM1462.1,1420.4l14.44,7.34v14.69l-14.44,7.34l-14.44,-7.34v-14.69zM1490.9,1420.4l14.44,7.34v14.69l-14.44,7.34l-14.44,-7.34v-14.69zM1519.8,1420.4l14.44,7.34v14.69l-14.44,7.34l-14.44,-7.34v-14.69zM1548.7,1420.4l14.44,7.34v14.69l-14.44,7.34l-14.44,-7.34v-14.69zM1577.5,1420.4l14.44,7.34v14.69l-14.44,7.34l-14.44,-7.34v-14.69zM1606.4,1420.4l14.44,7.34v14.69l-14.44,7.34l-14.44,-7.34v-14.69zM1635.3,1420.4l14.44,7.34v14.69l-14.44,7.34l-14.44,-7.34v-14.69zM1664.1,1420.4l14.44,7.34v14.69l-14.44,7.34l-14.44,-7.34v-14.69zM1693.0,1420.4l14.44,7.34v14.69l-14.44,7.34l-14.44,-7.34v-14.69zM1721.9,1420.4l14.44,7.34v14.69l-14.44,7.34l-14.44,-7.34v-14.69zM552.6,1442.4l14.44,7.34v14.69l-14.44,7.34l-14.44,-7.34v-14.69zM581.5,1442.4l14.44,7.34v14.69l-14.44,7.34l-14.44,-7.34v-14.69zM610.4,1442.4l14.44,7.34v14.69l-14.44,7.34l-14.44,-7.34v-14.69zM639.3,1442.4l14.44,7.34v14.69l-14.44,7.34l-14.44,-7.34v-14.69zM1014.6,1442.4l14.44,7.34v14.69l-14.44,7.34l-14.44,-7.34v-14.69zM1043.4,1442.4l14.44,7.34v14.69l-14.44,7.34l-14.44,-7.34v-14.69zM1072.3,1442.4l14.44,7.34v14.69l-14.44,7.34l-14.44,-7.34v-14.69zM1101.2,1442.4l14.44,7.34v14.69l-14.44,7.34l-14.44,-7.34v-14.69zM1130.0,1442.4l14.44,7.34v14.69l-14.44,7.34l-14.44,-7.34v-14.69zM1187.8,1442.4l14.44,7.34v14.69l-14.44,7.34l-14.44,-7.34v-14.69zM1274.4,1442.4l14.44,7.34v14.69l-14.44,7.34l-14.44,-7.34v-14.69zM1303.3,1442.4l14.44,7.34v14.69l-14.44,7.34l-14.44,-7.34v-14.69zM1447.6,1442.4l14.44,7.34v14.69l-14.44,7.34l-14.44,-7.34v-14.69zM1476.5,1442.4l14.44,7.34v14.69l-14.44,7.34l-14.44,-7.34v-14.69zM1505.4,1442.4l14.44,7.34v14.69l-14.44,7.34l-14.44,-7.34v-14.69zM1534.2,1442.4l14.44,7.34v14.69l-14.44,7.34l-14.44,-7.34v-14.69zM1563.1,1442.4l14.44,7.34v14.69l-14.44,7.34l-14.44,-7.34v-14.69zM1592.0,1442.4l14.44,7.34v14.69l-14.44,7.34l-14.44,-7.34v-14.69zM1620.8,1442.4l14.44,7.34v14.69l-14.44,7.34l-14.44,-7.34v-14.69zM1649.7,1442.4l14.44,7.34v14.69l-14.44,7.34l-14.44,-7.34v-14.69zM1678.6,1442.4l14.44,7.34v14.69l-14.44,7.34l-14.44,-7.34v-14.69zM1707.5,1442.4l14.44,7.34v14.69l-14.44,7.34l-14.44,-7.34v-14.69zM1736.3,1442.4l14.44,7.34v14.69l-14.44,7.34l-14.44,-7.34v-14.69zM538.2,1464.4l14.44,7.34v14.69l-14.44,7.34l-14.44,-7.34v-14.69zM567.1,1464.4l14.44,7.34v14.69l-14.44,7.34l-14.44,-7.34v-14.69zM596.0,1464.4l14.44,7.34v14.69l-14.44,7.34l-14.44,-7.34v-14.69zM624.8,1464.4l14.44,7.34v14.69l-14.44,7.34l-14.44,-7.34v-14.69zM913.5,1464.4l14.44,7.34v14.69l-14.44,7.34l-14.44,-7.34v-14.69zM1000.1,1464.4l14.44,7.34v14.69l-14.44,7.34l-14.44,-7.34v-14.69zM1086.7,1464.4l14.44,7.34v14.69l-14.44,7.34l-14.44,-7.34v-14.69zM1404.3,1464.4l14.44,7.34v14.69l-14.44,7.34l-14.44,-7.34v-14.69zM1433.2,1464.4l14.44,7.34v14.69l-14.44,7.34l-14.44,-7.34v-14.69zM1462.1,1464.4l14.44,7.34v14.69l-14.44,7.34l-14.44,-7.34v-14.69zM1490.9,1464.4l14.44,7.34v14.69l-14.44,7.34l-14.44,-7.34v-14.69zM1519.8,1464.4l14.44,7.34v14.69l-14.44,7.34l-14.44,-7.34v-14.69zM1548.7,1464.4l14.44,7.34v14.69l-14.44,7.34l-14.44,-7.34v-14.69zM1577.5,1464.4l14.44,7.34v14.69l-14.44,7.34l-14.44,-7.34v-14.69zM1606.4,1464.4l14.44,7.34v14.69l-14.44,7.34l-14.44,-7.34v-14.69zM1635.3,1464.4l14.44,7.34v14.69l-14.44,7.34l-14.44,-7.34v-14.69zM1693.0,1464.4l14.44,7.34v14.69l-14.44,7.34l-14.44,-7.34v-14.69zM581.5,1486.5l14.44,7.34v14.69l-14.44,7.34l-14.44,-7.34v-14.69zM610.4,1486.5l14.44,7.34v14.69l-14.44,7.34l-14.44,-7.34v-14.69zM725.9,1486.5l14.44,7.34v14.69l-14.44,7.34l-14.44,-7.34v-14.69zM899.1,1486.5l14.44,7.34v14.69l-14.44,7.34l-14.44,-7.34v-14.69zM928.0,1486.5l14.44,7.34v14.69l-14.44,7.34l-14.44,-7.34v-14.69zM985.7,1486.5l14.44,7.34v14.69l-14.44,7.34l-14.44,-7.34v-14.69zM1043.4,1486.5l14.44,7.34v14.69l-14.44,7.34l-14.44,-7.34v-14.69zM1072.3,1486.5l14.44,7.34v14.69l-14.44,7.34l-14.44,-7.34v-14.69zM1130.0,1486.5l14.44,7.34v14.69l-14.44,7.34l-14.44,-7.34v-14.69zM1274.4,1486.5l14.44,7.34v14.69l-14.44,7.34l-14.44,-7.34v-14.69zM1332.1,1486.5l14.44,7.34v14.69l-14.44,7.34l-14.44,-7.34v-14.69zM1361.0,1486.5l14.44,7.34v14.69l-14.44,7.34l-14.44,-7.34v-14.69zM1418.8,1486.5l14.44,7.34v14.69l-14.44,7.34l-14.44,-7.34v-14.69zM1447.6,1486.5l14.44,7.34v14.69l-14.44,7.34l-14.44,-7.34v-14.69zM1476.5,1486.5l14.44,7.34v14.69l-14.44,7.34l-14.44,-7.34v-14.69zM1505.4,1486.5l14.44,7.34v14.69l-14.44,7.34l-14.44,-7.34v-14.69zM1534.2,1486.5l14.44,7.34v14.69l-14.44,7.34l-14.44,-7.34v-14.69zM1563.1,1486.5l14.44,7.34v14.69l-14.44,7.34l-14.44,-7.34v-14.69zM1592.0,1486.5l14.44,7.34v14.69l-14.44,7.34l-14.44,-7.34v-14.69zM1620.8,1486.5l14.44,7.34v14.69l-14.44,7.34l-14.44,-7.34v-14.69zM1649.7,1486.5l14.44,7.34v14.69l-14.44,7.34l-14.44,-7.34v-14.69zM1000.1,1508.5l14.44,7.34v14.69l-14.44,7.34l-14.44,-7.34v-14.69zM1029.0,1508.5l14.44,7.34v14.69l-14.44,7.34l-14.44,-7.34v-14.69zM1086.7,1508.5l14.44,7.34v14.69l-14.44,7.34l-14.44,-7.34v-14.69zM1231.1,1508.5l14.44,7.34v14.69l-14.44,7.34l-14.44,-7.34v-14.69zM1288.8,1508.5l14.44,7.34v14.69l-14.44,7.34l-14.44,-7.34v-14.69zM1375.4,1508.5l14.44,7.34v14.69l-14.44,7.34l-14.44,-7.34v-14.69zM1404.3,1508.5l14.44,7.34v14.69l-14.44,7.34l-14.44,-7.34v-14.69zM1433.2,1508.5l14.44,7.34v14.69l-14.44,7.34l-14.44,-7.34v-14.69zM1462.1,1508.5l14.44,7.34v14.69l-14.44,7.34l-14.44,-7.34v-14.69zM1490.9,1508.5l14.44,7.34v14.69l-14.44,7.34l-14.44,-7.34v-14.69zM1519.8,1508.5l14.44,7.34v14.69l-14.44,7.34l-14.44,-7.34v-14.69zM1548.7,1508.5l14.44,7.34v14.69l-14.44,7.34l-14.44,-7.34v-14.69zM1577.5,1508.5l14.44,7.34v14.69l-14.44,7.34l-14.44,-7.34v-14.69zM1606.4,1508.5l14.44,7.34v14.69l-14.44,7.34l-14.44,-7.34v-14.69zM697.0,1530.5l14.44,7.34v14.69l-14.44,7.34l-14.44,-7.34v-14.69zM985.7,1530.5l14.44,7.34v14.69l-14.44,7.34l-14.44,-7.34v-14.69zM1072.3,1530.5l14.44,7.34v14.69l-14.44,7.34l-14.44,-7.34v-14.69zM1158.9,1530.5l14.44,7.34v14.69l-14.44,7.34l-14.44,-7.34v-14.69zM1216.7,1530.5l14.44,7.34v14.69l-14.44,7.34l-14.44,-7.34v-14.69zM1245.5,1530.5l14.44,7.34v14.69l-14.44,7.34l-14.44,-7.34v-14.69zM1303.3,1530.5l14.44,7.34v14.69l-14.44,7.34l-14.44,-7.34v-14.69zM1332.1,1530.5l14.44,7.34v14.69l-14.44,7.34l-14.44,-7.34v-14.69zM1361.0,1530.5l14.44,7.34v14.69l-14.44,7.34l-14.44,-7.34v-14.69zM1505.4,1530.5l14.44,7.34v14.69l-14.44,7.34l-14.44,-7.34v-14.69zM1563.1,1530.5l14.44,7.34v14.69l-14.44,7.34l-14.44,-7.34v-14.69zM1592.0,1530.5l14.44,7.34v14.69l-14.44,7.34l-14.44,-7.34v-14.69zM1620.8,1530.5l14.44,7.34v14.69l-14.44,7.34l-14.44,-7.34v-14.69zM769.2,1552.6l14.44,7.34v14.69l-14.44,7.34l-14.44,-7.34v-14.69zM1057.9,1552.6l14.44,7.34v14.69l-14.44,7.34l-14.44,-7.34v-14.69zM1115.6,1552.6l14.44,7.34v14.69l-14.44,7.34l-14.44,-7.34v-14.69zM1144.5,1552.6l14.44,7.34v14.69l-14.44,7.34l-14.44,-7.34v-14.69zM1202.2,1552.6l14.44,7.34v14.69l-14.44,7.34l-14.44,-7.34v-14.69zM1317.7,1552.6l14.44,7.34v14.69l-14.44,7.34l-14.44,-7.34v-14.69zM1346.6,1552.6l14.44,7.34v14.69l-14.44,7.34l-14.44,-7.34v-14.69zM1433.2,1552.6l14.44,7.34v14.69l-14.44,7.34l-14.44,-7.34v-14.69zM1462.1,1552.6l14.44,7.34v14.69l-14.44,7.34l-14.44,-7.34v-14.69zM1490.9,1552.6l14.44,7.34v14.69l-14.44,7.34l-14.44,-7.34v-14.69zM1519.8,1552.6l14.44,7.34v14.69l-14.44,7.34l-14.44,-7.34v-14.69zM1548.7,1552.6l14.44,7.34v14.69l-14.44,7.34l-14.44,-7.34v-14.69zM1577.5,1552.6l14.44,7.34v14.69l-14.44,7.34l-14.44,-7.34v-14.69zM668.1,1574.6l14.44,7.34v14.69l-14.44,7.34l-14.44,-7.34v-14.69zM697.0,1574.6l14.44,7.34v14.69l-14.44,7.34l-14.44,-7.34v-14.69zM725.9,1574.6l14.44,7.34v14.69l-14.44,7.34l-14.44,-7.34v-14.69zM1101.2,1574.6l14.44,7.34v14.69l-14.44,7.34l-14.44,-7.34v-14.69zM1130.0,1574.6l14.44,7.34v14.69l-14.44,7.34l-14.44,-7.34v-14.69zM1158.9,1574.6l14.44,7.34v14.69l-14.44,7.34l-14.44,-7.34v-14.69zM1187.8,1574.6l14.44,7.34v14.69l-14.44,7.34l-14.44,-7.34v-14.69zM1332.1,1574.6l14.44,7.34v14.69l-14.44,7.34l-14.44,-7.34v-14.69zM1361.0,1574.6l14.44,7.34v14.69l-14.44,7.34l-14.44,-7.34v-14.69zM1389.9,1574.6l14.44,7.34v14.69l-14.44,7.34l-14.44,-7.34v-14.69zM1476.5,1574.6l14.44,7.34v14.69l-14.44,7.34l-14.44,-7.34v-14.69zM1505.4,1574.6l14.44,7.34v14.69l-14.44,7.34l-14.44,-7.34v-14.69zM1563.1,1574.6l14.44,7.34v14.69l-14.44,7.34l-14.44,-7.34v-14.69zM711.4,1596.6l14.44,7.34v14.69l-14.44,7.34l-14.44,-7.34v-14.69zM740.3,1596.6l14.44,7.34v14.69l-14.44,7.34l-14.44,-7.34v-14.69zM769.2,1596.6l14.44,7.34v14.69l-14.44,7.34l-14.44,-7.34v-14.69zM826.9,1596.6l14.44,7.34v14.69l-14.44,7.34l-14.44,-7.34v-14.69zM884.7,1596.6l14.44,7.34v14.69l-14.44,7.34l-14.44,-7.34v-14.69zM942.4,1596.6l14.44,7.34v14.69l-14.44,7.34l-14.44,-7.34v-14.69zM971.3,1596.6l14.44,7.34v14.69l-14.44,7.34l-14.44,-7.34v-14.69zM1000.1,1596.6l14.44,7.34v14.69l-14.44,7.34l-14.44,-7.34v-14.69zM1029.0,1596.6l14.44,7.34v14.69l-14.44,7.34l-14.44,-7.34v-14.69zM1086.7,1596.6l14.44,7.34v14.69l-14.44,7.34l-14.44,-7.34v-14.69zM1115.6,1596.6l14.44,7.34v14.69l-14.44,7.34l-14.44,-7.34v-14.69zM1144.5,1596.6l14.44,7.34v14.69l-14.44,7.34l-14.44,-7.34v-14.69zM1231.1,1596.6l14.44,7.34v14.69l-14.44,7.34l-14.44,-7.34v-14.69zM1375.4,1596.6l14.44,7.34v14.69l-14.44,7.34l-14.44,-7.34v-14.69zM1433.2,1596.6l14.44,7.34v14.69l-14.44,7.34l-14.44,-7.34v-14.69zM1490.9,1596.6l14.44,7.34v14.69l-14.44,7.34l-14.44,-7.34v-14.69zM1519.8,1596.6l14.44,7.34v14.69l-14.44,7.34l-14.44,-7.34v-14.69zM639.3,1618.7l14.44,7.34v14.69l-14.44,7.34l-14.44,-7.34v-14.69zM725.9,1618.7l14.44,7.34v14.69l-14.44,7.34l-14.44,-7.34v-14.69zM841.4,1618.7l14.44,7.34v14.69l-14.44,7.34l-14.44,-7.34v-14.69zM1014.6,1618.7l14.44,7.34v14.69l-14.44,7.34l-14.44,-7.34v-14.69zM1043.4,1618.7l14.44,7.34v14.69l-14.44,7.34l-14.44,-7.34v-14.69zM1101.2,1618.7l14.44,7.34v14.69l-14.44,7.34l-14.44,-7.34v-14.69zM1130.0,1618.7l14.44,7.34v14.69l-14.44,7.34l-14.44,-7.34v-14.69zM1158.9,1618.7l14.44,7.34v14.69l-14.44,7.34l-14.44,-7.34v-14.69zM1216.7,1618.7l14.44,7.34v14.69l-14.44,7.34l-14.44,-7.34v-14.69zM1245.5,1618.7l14.44,7.34v14.69l-14.44,7.34l-14.44,-7.34v-14.69zM1274.4,1618.7l14.44,7.34v14.69l-14.44,7.34l-14.44,-7.34v-14.69zM1332.1,1618.7l14.44,7.34v14.69l-14.44,7.34l-14.44,-7.34v-14.69zM1361.0,1618.7l14.44,7.34v14.69l-14.44,7.34l-14.44,-7.34v-14.69zM1418.8,1618.7l14.44,7.34v14.69l-14.44,7.34l-14.44,-7.34v-14.69zM1447.6,1618.7l14.44,7.34v14.69l-14.44,7.34l-14.44,-7.34v-14.69zM1476.5,1618.7l14.44,7.34v14.69l-14.44,7.34l-14.44,-7.34v-14.69zM1505.4,1618.7l14.44,7.34v14.69l-14.44,7.34l-14.44,-7.34v-14.69zM1534.2,1618.7l14.44,7.34v14.69l-14.44,7.34l-14.44,-7.34v-14.69zM682.6,1640.7l14.44,7.34v14.69l-14.44,7.34l-14.44,-7.34v-14.69zM1000.1,1640.7l14.44,7.34v14.69l-14.44,7.34l-14.44,-7.34v-14.69zM1057.9,1640.7l14.44,7.34v14.69l-14.44,7.34l-14.44,-7.34v-14.69zM1115.6,1640.7l14.44,7.34v14.69l-14.44,7.34l-14.44,-7.34v-14.69zM1144.5,1640.7l14.44,7.34v14.69l-14.44,7.34l-14.44,-7.34v-14.69zM1173.4,1640.7l14.44,7.34v14.69l-14.44,7.34l-14.44,-7.34v-14.69zM1260.0,1640.7l14.44,7.34v14.69l-14.44,7.34l-14.44,-7.34v-14.69zM1317.7,1640.7l14.44,7.34v14.69l-14.44,7.34l-14.44,-7.34v-14.69zM1346.6,1640.7l14.44,7.34v14.69l-14.44,7.34l-14.44,-7.34v-14.69zM1375.4,1640.7l14.44,7.34v14.69l-14.44,7.34l-14.44,-7.34v-14.69zM1404.3,1640.7l14.44,7.34v14.69l-14.44,7.34l-14.44,-7.34v-14.69zM1490.9,1640.7l14.44,7.34v14.69l-14.44,7.34l-14.44,-7.34v-14.69zM1519.8,1640.7l14.44,7.34v14.69l-14.44,7.34l-14.44,-7.34v-14.69zM754.7,1662.7l14.44,7.34v14.69l-14.44,7.34l-14.44,-7.34v-14.69zM985.7,1662.7l14.44,7.34v14.69l-14.44,7.34l-14.44,-7.34v-14.69zM1014.6,1662.7l14.44,7.34v14.69l-14.44,7.34l-14.44,-7.34v-14.69zM1101.2,1662.7l14.44,7.34v14.69l-14.44,7.34l-14.44,-7.34v-14.69zM1187.8,1662.7l14.44,7.34v14.69l-14.44,7.34l-14.44,-7.34v-14.69zM1216.7,1662.7l14.44,7.34v14.69l-14.44,7.34l-14.44,-7.34v-14.69zM1245.5,1662.7l14.44,7.34v14.69l-14.44,7.34l-14.44,-7.34v-14.69zM1303.3,1662.7l14.44,7.34v14.69l-14.44,7.34l-14.44,-7.34v-14.69zM1361.0,1662.7l14.44,7.34v14.69l-14.44,7.34l-14.44,-7.34v-14.69zM1476.5,1662.7l14.44,7.34v14.69l-14.44,7.34l-14.44,-7.34v-14.69zM682.6,1684.7l14.44,7.34v14.69l-14.44,7.34l-14.44,-7.34v-14.69zM769.2,1684.7l14.44,7.34v14.69l-14.44,7.34l-14.44,-7.34v-14.69zM826.9,1684.7l14.44,7.34v14.69l-14.44,7.34l-14.44,-7.34v-14.69zM855.8,1684.7l14.44,7.34v14.69l-14.44,7.34l-14.44,-7.34v-14.69zM971.3,1684.7l14.44,7.34v14.69l-14.44,7.34l-14.44,-7.34v-14.69zM1000.1,1684.7l14.44,7.34v14.69l-14.44,7.34l-14.44,-7.34v-14.69zM1029.0,1684.7l14.44,7.34v14.69l-14.44,7.34l-14.44,-7.34v-14.69zM1173.4,1684.7l14.44,7.34v14.69l-14.44,7.34l-14.44,-7.34v-14.69zM1231.1,1684.7l14.44,7.34v14.69l-14.44,7.34l-14.44,-7.34v-14.69zM1317.7,1684.7l14.44,7.34v14.69l-14.44,7.34l-14.44,-7.34v-14.69zM1375.4,1684.7l14.44,7.34v14.69l-14.44,7.34l-14.44,-7.34v-14.69zM725.9,1706.8l14.44,7.34v14.69l-14.44,7.34l-14.44,-7.34v-14.69zM754.7,1706.8l14.44,7.34v14.69l-14.44,7.34l-14.44,-7.34v-14.69zM812.5,1706.8l14.44,7.34v14.69l-14.44,7.34l-14.44,-7.34v-14.69zM956.8,1706.8l14.44,7.34v14.69l-14.44,7.34l-14.44,-7.34v-14.69zM985.7,1706.8l14.44,7.34v14.69l-14.44,7.34l-14.44,-7.34v-14.69zM1072.3,1706.8l14.44,7.34v14.69l-14.44,7.34l-14.44,-7.34v-14.69zM1389.9,1706.8l14.44,7.34v14.69l-14.44,7.34l-14.44,-7.34v-14.69zM798.0,1728.8l14.44,7.34v14.69l-14.44,7.34l-14.44,-7.34v-14.69zM855.8,1728.8l14.44,7.34v14.69l-14.44,7.34l-14.44,-7.34v-14.69zM913.5,1728.8l14.44,7.34v14.69l-14.44,7.34l-14.44,-7.34v-14.69zM1000.1,1728.8l14.44,7.34v14.69l-14.44,7.34l-14.44,-7.34v-14.69zM1029.0,1728.8l14.44,7.34v14.69l-14.44,7.34l-14.44,-7.34v-14.69zM1144.5,1728.8l14.44,7.34v14.69l-14.44,7.34l-14.44,-7.34v-14.69zM754.7,1750.8l14.44,7.34v14.69l-14.44,7.34l-14.44,-7.34v-14.69zM956.8,1750.8l14.44,7.34v14.69l-14.44,7.34l-14.44,-7.34v-14.69z"/>
</g>
<g fill="none" stroke-width="9" stroke-linejoin="round" stroke-linecap="round">
<path stroke="#4D4D4D" d="M702.7,1012.4Q707.0,1011.0 711.4,1012.1L715.1,1012.9Q719.5,1014.0 721.9,1017.8L761.6,1081.9Q764.0,1085.7 768.5,1085.7L785.2,1085.7Q789.7,1085.7 793.1,1088.6L797.1,1092.1Q800.5,1095.0 802.8,1098.8L833.4,1149.2Q835.7,1153.0 839.4,1155.6L846.3,1160.4Q850.0,1163.0 854.5,1163.0L893.5,1163.4Q898.0,1163.4 902.4,1162.7L1486.4,1066.1Q1490.8,1065.4 1495.2,1066.3L1499.6,1067.1Q1504.0,1068.0 1506.6,1071.6L1509.4,1075.4Q1512.0,1079.0 1511.7,1083.5L1511.3,1087.5Q1511.0,1092.0 1507.3,1094.6L1502.7,1097.9Q1499.0,1100.5 1494.6,1101.5L872.4,1239.0Q868.0,1240.0 864.5,1241.5L864.5,1241.5Q861.0,1243.0 858.4,1246.7L803.1,1326.3Q800.5,1330.0 800.5,1334.5L800.5,1412.3Q800.5,1416.8 798.8,1421.0L796.7,1425.8Q795.0,1430.0 791.0,1431.5L791.0,1431.5Q787.0,1433.0 782.9,1431.1L750.6,1415.9Q746.5,1414.0 744.1,1417.8L698.4,1488.2Q696.0,1492.0 692.5,1494.9L691.5,1495.7Q688.0,1498.6 683.5,1498.6L635.5,1498.6Q631.0,1498.6 627.0,1500.6L592.0,1518.0Q588.0,1520.0 584.0,1520.8L584.0,1520.8Q580.0,1521.6 576.0,1519.6L527.0,1495.0Q523.0,1493.0 520.5,1489.3L463.5,1403.7Q461.0,1400.0 458.8,1396.1L434.2,1352.5Q432.0,1348.6 432.0,1344.1L432.0,1342.5Q432.0,1338.0 435.1,1334.8L436.9,1332.9Q440.0,1329.7 444.5,1329.5L466.5,1328.2Q471.0,1328.0 473.8,1324.4L475.2,1322.6Q478.0,1319.0 478.8,1314.6L490.2,1253.0Q491.0,1248.6 494.3,1245.5L496.2,1243.6Q499.5,1240.5 503.5,1238.5L541.4,1219.6Q545.4,1217.6 549.9,1217.6L570.5,1217.6Q575.0,1217.6 579.3,1216.2L608.7,1206.4Q613.0,1205.0 615.3,1201.2L642.7,1156.5Q645.0,1152.7 649.1,1150.8L678.9,1136.9Q683.0,1135.0 686.0,1131.6L689.7,1127.4Q692.7,1124.0 692.7,1119.5L692.4,1032.1Q692.4,1027.6 694.1,1023.4L696.3,1018.2Q698.0,1014.0 702.3,1012.6Z"/>
<path stroke="#0000FF" d="M886.9,1176.2Q889.7,1173.5 894.2,1173.5L898.5,1173.5Q903.0,1173.5 906.4,1176.5L924.2,1192.0Q927.6,1195.0 929.6,1199.0L936.4,1212.8Q938.4,1216.8 942.9,1217.2L963.5,1219.1Q968.0,1219.5 971.2,1222.7L972.8,1224.4Q976.0,1227.6 976.0,1232.1L976.0,1274.5Q976.0,1279.0 978.6,1282.7L1004.4,1318.3Q1007.0,1322.0 1007.0,1326.0L1007.0,1326.0Q1007.0,1330.0 1004.2,1333.5L1003.3,1334.5Q1000.5,1338.0 996.4,1339.9L958.7,1358.1Q954.6,1360.0 952.3,1363.8L925.8,1407.2Q923.5,1411.0 919.3,1412.7L916.9,1413.7Q912.7,1415.4 908.6,1413.5L907.1,1412.9Q903.0,1411.0 900.7,1407.1L892.0,1392.3Q889.7,1388.4 885.2,1388.4L880.5,1388.4Q876.0,1388.4 872.0,1390.4L837.0,1408.0Q833.0,1410.0 828.5,1409.9L791.5,1408.7Q787.0,1408.6 784.3,1405.0L781.7,1401.4Q779.0,1397.8 779.0,1393.3L779.0,1348.3Q779.0,1343.8 781.3,1340.0L804.7,1301.8Q807.0,1298.0 807.0,1293.5L807.0,1256.5Q807.0,1252.0 809.4,1248.2L811.6,1244.8Q814.0,1241.0 818.1,1239.2L858.6,1221.3Q862.7,1219.5 864.8,1215.5L881.9,1183.0Q884.0,1179.0 886.9,1176.2Z"/>
<path stroke="#87CEEB" d="M498.3,1197.1Q502.0,1194.6 506.5,1194.6L600.5,1194.6Q605.0,1194.6 608.5,1197.4L614.5,1202.2Q618.0,1205.0 618.0,1209.5L618.0,1211.5Q618.0,1216.0 615.5,1219.8L534.5,1342.2Q532.0,1346.0 528.0,1347.3L528.0,1347.3Q524.0,1348.6 520.0,1346.6L517.0,1345.0Q513.0,1343.0 510.5,1339.2L485.5,1300.8Q483.0,1297.0 478.5,1297.1L390.5,1299.9Q386.0,1300.0 382.0,1298.0L379.0,1296.6Q375.0,1294.6 373.0,1290.6L371.7,1287.8Q369.7,1283.8 371.3,1279.6L373.4,1274.2Q375.0,1270.0 379.2,1268.3L386.8,1265.2Q391.0,1263.5 395.3,1262.3L459.7,1244.2Q464.0,1243.0 468.1,1241.1L470.9,1239.9Q475.0,1238.0 477.0,1234.0L492.0,1204.0Q494.0,1200.0 497.7,1197.5Z"/>
<path stroke="#228B22" d="M919.1,1167.9Q923.5,1166.8 927.4,1169.0L929.1,1169.8Q933.0,1172.0 936.1,1175.3L1016.4,1262.1Q1019.5,1265.4 1016.8,1269.0L1011.3,1276.4Q1008.6,1280.0 1011.0,1283.8L1046.6,1340.0Q1049.0,1343.8 1053.1,1342.0L1085.6,1327.8Q1089.7,1326.0 1093.8,1327.8L1094.9,1328.2Q1099.0,1330.0 1101.3,1333.9L1141.5,1402.1Q1143.8,1406.0 1148.3,1406.6L1209.0,1415.4Q1213.5,1416.0 1215.8,1419.9L1219.3,1425.8Q1221.6,1429.7 1221.6,1434.2L1221.6,1655.0Q1221.6,1659.5 1219.5,1663.5L1218.1,1666.0Q1216.0,1670.0 1212.0,1672.1L1209.4,1673.6Q1205.4,1675.7 1200.9,1675.7L1168.0,1675.7Q1163.5,1675.7 1163.5,1680.2L1163.5,1746.5Q1163.5,1751.0 1161.4,1755.0L1158.9,1759.5Q1156.8,1763.5 1152.4,1764.5L1150.4,1765.0Q1146.0,1766.0 1141.7,1764.6L1077.3,1744.4Q1073.0,1743.0 1069.0,1745.0L1036.4,1761.5Q1032.4,1763.5 1027.9,1763.5L1009.9,1763.5Q1005.4,1763.5 1001.4,1765.5L963.5,1784.5Q959.5,1786.5 955.0,1786.5L754.5,1786.5Q750.0,1786.5 746.5,1783.7L743.0,1780.8Q739.5,1778.0 737.0,1774.2L714.5,1740.3Q712.0,1736.5 707.9,1734.6L676.1,1719.5Q672.0,1717.6 668.4,1714.9L615.6,1675.7Q612.0,1673.0 609.4,1669.4L606.6,1665.6Q604.0,1662.0 604.0,1657.5L604.0,1655.5Q604.0,1651.0 606.5,1647.2L643.5,1590.3Q646.0,1586.5 642.0,1584.5L557.0,1542.5Q553.0,1540.5 550.2,1537.0L544.8,1530.5Q542.0,1527.0 542.0,1523.0L542.0,1523.0Q542.0,1519.0 545.2,1515.8L549.8,1511.2Q553.0,1508.0 557.3,1506.7L624.3,1486.3Q628.6,1485.0 630.9,1481.1L647.7,1452.5Q650.0,1448.6 653.4,1445.6L657.6,1442.0Q661.0,1439.0 665.5,1438.8L686.3,1438.0Q690.8,1437.8 694.8,1435.8L719.0,1423.6Q723.0,1421.6 725.3,1417.7L736.1,1398.9Q738.4,1395.0 742.7,1393.7L747.7,1392.3Q752.0,1391.0 756.1,1392.9L785.6,1406.7Q789.7,1408.6 792.4,1405.0L795.1,1401.4Q797.8,1397.8 801.9,1396.0L802.9,1395.6Q807.0,1393.8 811.5,1393.8L823.1,1393.8Q827.6,1393.8 830.4,1390.3L841.0,1377.0Q843.8,1373.5 848.3,1373.5L882.5,1373.5Q887.0,1373.5 891.0,1375.5L915.5,1387.7Q919.5,1389.7 922.0,1386.0L948.0,1347.5Q950.5,1343.8 949.3,1339.5L909.8,1202.1Q908.6,1197.8 908.0,1193.3L906.6,1183.5Q906.0,1179.0 908.6,1175.3L910.1,1173.2Q912.7,1169.5 917.1,1168.4Z"/>
<path stroke="#ADFF2F" d="M708.6,1098.1Q710.0,1093.8 714.3,1092.5L719.2,1091.0Q723.5,1089.7 727.6,1091.6L950.5,1195.9Q954.6,1197.8 959.1,1197.8L969.0,1197.8Q973.5,1197.8 977.0,1200.6L983.5,1205.8Q987.0,1208.6 989.6,1212.3L1022.4,1259.0Q1025.0,1262.7 1029.5,1262.7L1044.5,1262.7Q1049.0,1262.7 1052.6,1265.4L1056.4,1268.1Q1060.0,1270.8 1062.6,1274.5L1076.4,1294.3Q1079.0,1298.0 1082.1,1301.2L1175.3,1396.8Q1178.4,1400.0 1181.5,1403.2L1234.7,1458.8Q1237.8,1462.0 1242.3,1462.0L1263.1,1462.0Q1267.6,1462.0 1271.6,1464.2L1293.0,1475.8Q1297.0,1478.0 1299.5,1474.2L1319.1,1444.3Q1321.6,1440.5 1325.8,1438.9L1328.2,1438.1Q1332.4,1436.5 1336.5,1438.4L1382.4,1460.1Q1386.5,1462.0 1391.0,1461.9L1434.5,1460.9Q1439.0,1460.8 1443.0,1462.9L1563.0,1524.9Q1567.0,1527.0 1571.5,1527.1L1637.1,1527.9Q1641.6,1528.0 1644.7,1531.2L1647.9,1534.6Q1651.0,1537.8 1651.0,1542.3L1651.0,1542.5Q1651.0,1547.0 1648.1,1550.4L1644.5,1554.6Q1641.6,1558.0 1637.6,1560.0L1594.0,1581.8Q1590.0,1583.8 1587.6,1587.6L1535.9,1669.2Q1533.5,1673.0 1529.5,1675.0L1424.0,1727.7Q1420.0,1729.7 1415.9,1731.5L1394.6,1741.2Q1390.5,1743.0 1386.1,1741.9L1385.4,1741.6Q1381.0,1740.5 1378.6,1736.7L1367.4,1718.8Q1365.0,1715.0 1360.9,1713.1L1343.1,1704.6Q1339.0,1702.7 1336.3,1706.3L1329.7,1715.4Q1327.0,1719.0 1322.5,1719.4L1320.5,1719.6Q1316.0,1720.0 1311.9,1718.1L1271.7,1698.9Q1267.6,1697.0 1263.1,1696.9L1239.5,1696.1Q1235.0,1696.0 1232.4,1692.3L1226.9,1684.7Q1224.3,1681.0 1220.2,1682.9L1190.6,1696.7Q1186.5,1698.6 1182.5,1696.6L1182.4,1696.6Q1178.4,1694.6 1175.8,1690.9L1126.9,1619.7Q1124.3,1616.0 1124.3,1612.0L1124.3,1612.0Q1124.3,1608.0 1126.9,1604.3L1150.1,1571.3Q1152.7,1567.6 1150.2,1563.9L1128.2,1530.7Q1125.7,1527.0 1125.7,1523.0L1125.7,1523.0Q1125.7,1519.0 1127.8,1515.0L1143.9,1485.0Q1146.0,1481.0 1143.3,1477.4L1086.5,1403.6Q1083.8,1400.0 1080.8,1396.7L1041.0,1352.3Q1038.0,1349.0 1034.7,1346.0L987.3,1303.5Q984.0,1300.5 980.4,1297.8L933.6,1262.7Q930.0,1260.0 926.4,1257.3L852.6,1203.2Q849.0,1200.5 845.3,1198.0L723.2,1116.5Q719.5,1114.0 716.1,1111.0L710.4,1106.0Q707.0,1103.0 708.4,1098.7Z"/>
<path stroke="#FFFF00" d="M334.8,650.3Q337.3,646.5 341.5,644.9L343.8,644.0Q348.0,642.4 352.5,642.4L367.9,642.4Q372.4,642.4 376.5,640.5L414.3,622.7Q418.4,620.8 422.9,620.8L450.4,620.8Q454.9,620.8 458.8,623.0L463.1,625.4Q467.0,627.6 469.4,631.4L474.1,638.6Q476.5,642.4 481.0,642.4L553.1,642.4Q557.6,642.4 561.6,644.6L565.7,646.8Q569.7,649.0 572.2,652.7L602.4,696.8Q604.9,700.5 607.2,704.3L618.7,723.2Q621.0,727.0 625.4,727.9L644.6,732.1Q649.0,733.0 651.3,736.9L662.7,756.1Q665.0,760.0 669.1,761.7L698.9,774.3Q703.0,776.0 706.4,778.9L716.1,787.1Q719.5,790.0 717.7,794.1L715.8,798.9Q714.0,803.0 710.7,806.1L671.3,842.9Q668.0,846.0 668.3,850.5L671.7,895.5Q672.0,900.0 672.7,904.4L680.3,950.6Q681.0,955.0 685.5,954.6L721.5,950.9Q726.0,950.5 730.4,949.6L1095.6,878.5Q1100.0,877.6 1104.4,876.8L1530.6,799.8Q1535.0,799.0 1537.9,795.6L1548.1,783.4Q1551.0,780.0 1555.1,778.2L1576.9,768.6Q1581.0,766.8 1578.6,763.0L1572.4,752.8Q1570.0,749.0 1572.4,745.2L1611.1,682.8Q1613.5,679.0 1613.5,674.5L1613.5,642.5Q1613.5,638.0 1616.0,634.2L1667.2,556.8Q1669.7,553.0 1673.8,552.3L1673.8,552.3Q1678.0,551.6 1681.4,554.6L1697.4,569.0Q1700.8,572.0 1704.8,569.9L1728.0,557.8Q1732.0,555.7 1736.5,555.7L1838.2,555.7Q1842.7,555.7 1846.3,553.0L1898.4,513.7Q1902.0,511.0 1906.4,510.0L1908.6,509.4Q1913.0,508.4 1917.2,510.0L1919.6,510.8Q1923.8,512.4 1926.2,516.2L1928.1,519.2Q1930.5,523.0 1931.9,527.3L1957.6,608.1Q1959.0,612.4 1961.4,616.2L1986.2,654.6Q1988.6,658.4 1988.6,662.5L1988.6,662.5Q1988.6,666.5 1986.1,670.2L1964.1,703.3Q1961.6,707.0 1964.1,710.7L1975.3,727.7Q1977.8,731.4 1982.3,731.4L2038.2,731.4Q2042.7,731.4 2046.3,734.1L2049.9,736.8Q2053.5,739.5 2054.5,743.9L2055.0,745.6Q2056.0,750.0 2054.1,754.1L2052.7,756.9Q2050.8,761.0 2046.8,763.0L2000.8,786.0Q1996.8,788.0 1993.4,790.8L1993.4,790.8Q1990.0,793.5 1991.8,797.6L2000.2,816.4Q2002.0,820.5 2002.0,825.0L2002.0,867.5Q2002.0,872.0 2000.1,876.1L1998.9,878.9Q1997.0,883.0 1992.6,884.0L1988.2,885.0Q1983.8,886.0 1979.8,883.9L1936.4,861.1Q1932.4,859.0 1928.3,857.1L1893.1,840.5Q1889.0,838.6 1884.5,838.6L1877.5,838.6Q1873.0,838.6 1869.0,840.6L1828.0,861.0Q1824.0,863.0 1819.5,863.0L1774.5,863.0Q1770.0,863.0 1765.6,863.8L1712.4,873.0Q1708.0,873.8 1703.6,873.1L1644.9,863.7Q1640.5,863.0 1636.4,864.9L1636.1,865.1Q1632.0,867.0 1630.5,871.2L1605.5,940.8Q1604.0,945.0 1600.3,947.6L1595.7,950.9Q1592.0,953.5 1588.2,951.2L1581.8,947.3Q1578.0,945.0 1575.8,941.1L1544.2,884.4Q1542.0,880.5 1537.6,881.2L1504.4,886.3Q1500.0,887.0 1495.5,887.5L1277.5,913.5Q1273.0,914.0 1268.6,914.7L1104.4,941.3Q1100.0,942.0 1095.5,942.6L737.5,991.8Q733.0,992.4 728.7,993.6L718.3,996.6Q714.0,997.8 710.2,1000.3L709.8,1000.5Q706.0,1003.0 707.8,1007.1L744.7,1090.9Q746.5,1095.0 746.5,1099.5L746.5,1198.5Q746.5,1203.0 743.8,1205.8L743.8,1205.8Q741.0,1208.6 736.8,1210.3L565.8,1279.3Q561.6,1281.0 557.4,1279.4L495.2,1256.6Q491.0,1255.0 486.5,1255.0L382.3,1254.0Q377.8,1254.0 373.8,1251.9L319.7,1223.7Q315.7,1221.6 315.7,1217.1L315.7,1215.5Q315.7,1211.0 318.9,1207.8L323.3,1203.2Q326.5,1200.0 322.4,1198.2L306.1,1190.8Q302.0,1189.0 297.5,1188.7L271.5,1186.8Q267.0,1186.5 264.4,1182.8L252.1,1165.7Q249.5,1162.0 245.5,1159.9L222.4,1148.1Q218.4,1146.0 213.9,1145.6L185.0,1143.4Q180.5,1143.0 177.9,1139.3L158.6,1111.7Q156.0,1108.0 156.0,1103.5L156.0,1066.5Q156.0,1062.0 157.1,1057.6L157.9,1054.4Q159.0,1050.0 162.8,1047.6L191.6,1029.4Q195.4,1027.0 192.8,1023.3L175.0,998.7Q172.4,995.0 172.4,990.5L172.4,948.3Q172.4,943.8 174.8,940.0L183.6,925.8Q186.0,922.0 186.0,917.5L186.0,883.5Q186.0,879.0 188.5,875.2Z"/>
<path stroke="#FF4500" d="M1211.8,112.6Q1216.0,111.0 1220.1,112.9L1222.9,114.1Q1227.0,116.0 1229.7,119.6L1255.3,154.4Q1258.0,158.0 1261.5,158.0L1261.5,158.0Q1265.0,158.0 1267.1,154.0L1275.9,138.0Q1278.0,134.0 1282.5,133.5L1284.5,133.2Q1289.0,132.7 1293.1,134.5L1294.5,135.0Q1298.6,136.8 1301.1,140.5L1307.0,149.3Q1309.5,153.0 1313.6,151.0L1341.9,137.4Q1346.0,135.4 1350.0,137.4L1379.8,152.3Q1383.8,154.3 1386.0,150.4L1390.8,141.9Q1393.0,138.0 1396.5,136.7L1396.5,136.7Q1400.0,135.4 1404.5,135.4L1461.5,135.4Q1466.0,135.4 1470.0,137.4L1558.0,182.0Q1562.0,184.0 1564.5,187.7L1624.5,276.3Q1627.0,280.0 1627.0,284.5L1627.0,289.0Q1627.0,293.5 1624.1,297.0L1616.4,306.2Q1613.5,309.7 1616.1,313.4L1654.2,368.3Q1656.8,372.0 1656.8,376.0L1656.8,376.0Q1656.8,380.0 1654.2,383.7L1631.0,416.8Q1628.4,420.5 1630.9,424.2L1657.0,462.8Q1659.5,466.5 1664.0,466.5L1684.5,466.5Q1689.0,466.5 1692.3,469.6L1696.7,473.9Q1700.0,477.0 1700.5,481.2L1700.5,481.2Q1701.0,485.4 1698.7,489.2L1685.3,511.2Q1683.0,515.0 1683.0,519.5L1683.0,553.9Q1683.0,558.4 1680.0,561.8L1674.0,568.6Q1671.0,572.0 1672.4,575.3L1672.4,575.3Q1673.8,578.6 1677.9,580.4L1678.9,580.9Q1683.0,582.7 1687.4,583.6L1769.4,600.7Q1773.8,601.6 1777.3,604.5L1967.5,763.6Q1971.0,766.5 1971.0,771.0L1971.0,775.5Q1971.0,780.0 1968.0,783.4L1967.0,784.6Q1964.0,788.0 1968.0,790.0L2033.0,822.6Q2037.0,824.6 2039.7,828.2L2041.3,830.4Q2044.0,834.0 2044.0,838.0L2044.0,838.0Q2044.0,842.0 2042.9,846.4L2030.1,898.6Q2029.0,903.0 2031.4,906.8L2043.0,924.8Q2045.4,928.6 2044.8,933.1L2044.6,935.0Q2044.0,939.5 2040.1,941.7L2011.9,957.8Q2008.0,960.0 2010.6,963.7L2013.9,968.3Q2016.5,972.0 2014.1,975.8L1978.4,1034.2Q1976.0,1038.0 1978.7,1041.6L1982.7,1046.9Q1985.4,1050.5 1987.0,1054.7L2029.8,1166.6Q2031.4,1170.8 2030.8,1175.3L2030.6,1177.1Q2030.0,1181.6 2026.3,1184.1L2021.5,1187.2Q2017.8,1189.7 2013.3,1189.7L1966.9,1189.7Q1962.4,1189.7 1959.9,1193.4L1948.5,1210.3Q1946.0,1214.0 1948.4,1217.8L1969.6,1250.8Q1972.0,1254.6 1972.0,1258.7L1972.0,1258.7Q1972.0,1262.7 1969.7,1266.6L1955.3,1291.1Q1953.0,1295.0 1949.0,1297.0L1913.7,1314.8Q1909.7,1316.8 1907.2,1320.5L1896.0,1337.3Q1893.5,1341.0 1889.5,1343.0L1886.7,1344.5Q1882.7,1346.5 1878.7,1344.4L1847.5,1328.1Q1843.5,1326.0 1841.0,1329.8L1771.5,1436.2Q1769.0,1440.0 1766.8,1443.9L1753.2,1467.7Q1751.0,1471.6 1747.0,1473.6L1624.0,1536.0Q1620.0,1538.0 1617.6,1541.8L1608.9,1555.7Q1606.5,1559.5 1602.6,1561.8L1599.6,1563.7Q1595.7,1566.0 1591.7,1565.5L1591.7,1565.5Q1587.6,1565.0 1583.6,1562.9L1424.0,1480.1Q1420.0,1478.0 1415.8,1476.3L1412.2,1474.7Q1408.0,1473.0 1405.4,1469.3L1397.2,1457.7Q1394.6,1454.0 1392.6,1450.0L1388.5,1441.8Q1386.5,1437.8 1386.5,1433.3L1386.8,1402.3Q1386.8,1397.8 1384.4,1394.0L1382.4,1390.8Q1380.0,1387.0 1376.0,1384.9L1338.0,1364.8Q1334.0,1362.7 1331.6,1358.9L1301.4,1312.4Q1299.0,1308.6 1299.0,1304.1L1299.0,1302.5Q1299.0,1298.0 1301.5,1294.2L1353.2,1214.8Q1355.7,1211.0 1355.7,1206.5L1355.7,1178.0Q1355.7,1173.5 1352.8,1170.1L1347.9,1164.4Q1345.0,1161.0 1341.0,1158.9L1319.0,1147.1Q1315.0,1145.0 1310.5,1145.0L1284.5,1145.0Q1280.0,1145.0 1277.4,1141.3L1266.4,1125.7Q1263.8,1122.0 1259.3,1122.0L1237.2,1122.0Q1232.7,1122.0 1231.6,1126.4L1216.1,1185.3Q1215.0,1189.7 1210.9,1191.5L1207.1,1193.2Q1203.0,1195.0 1198.9,1193.2L1194.9,1191.5Q1190.8,1189.7 1188.4,1185.9L1151.4,1127.3Q1149.0,1123.5 1144.5,1123.5L1113.1,1123.5Q1108.6,1123.5 1106.1,1127.2L1067.9,1183.3Q1065.4,1187.0 1060.9,1187.0L1013.1,1187.0Q1008.6,1187.0 1006.2,1190.8L994.8,1208.9Q992.4,1212.7 987.9,1212.4L951.0,1210.3Q946.5,1210.0 944.0,1206.3L935.5,1193.4Q933.0,1189.7 928.5,1189.7L880.5,1189.7Q876.0,1189.7 873.4,1186.0L862.6,1170.5Q860.0,1166.8 855.5,1166.6L832.1,1165.6Q827.6,1165.4 825.2,1161.6L817.8,1150.3Q815.4,1146.5 811.0,1145.8L810.4,1145.7Q806.0,1145.0 802.2,1147.4L381.8,1408.6Q378.0,1411.0 373.9,1409.2L368.1,1406.8Q364.0,1405.0 362.4,1400.8L360.6,1396.2Q359.0,1392.0 361.2,1388.1L364.8,1381.9Q367.0,1378.0 370.4,1375.0L728.2,1063.0Q731.6,1060.0 729.1,1056.3L703.0,1017.7Q700.5,1014.0 698.5,1010.0L694.4,1001.8Q692.4,997.8 692.3,993.3L691.1,915.5Q691.0,911.0 688.6,907.2L655.9,855.8Q653.5,852.0 651.5,848.0L650.0,845.0Q648.0,841.0 649.0,836.6L658.0,795.4Q659.0,791.0 654.5,790.6L647.2,790.1Q642.7,789.7 640.3,785.9L608.4,736.8Q606.0,733.0 606.0,728.5L606.0,680.5Q606.0,676.0 609.3,672.9L609.7,672.6Q613.0,669.5 609.1,667.3L582.9,652.7Q579.0,650.5 577.8,646.2L576.2,640.0Q575.0,635.7 577.0,631.7L586.6,612.6Q588.6,608.6 592.5,606.3L601.1,601.3Q605.0,599.0 609.5,599.0L624.5,599.0Q629.0,599.0 631.5,595.2L667.5,540.8Q670.0,537.0 674.5,536.8L703.5,535.2Q708.0,535.0 711.8,532.6L723.2,525.4Q727.0,523.0 725.0,519.0L721.0,511.0Q719.0,507.0 721.5,503.3L731.3,489.1Q733.8,485.4 731.3,481.7L721.5,467.5Q719.0,463.8 721.6,460.1L743.4,429.7Q746.0,426.0 750.1,424.1L767.5,415.7Q771.6,413.8 769.3,409.9L750.9,378.5Q748.6,374.6 750.8,370.7L761.3,351.5Q763.5,347.6 763.5,343.1L763.5,308.8Q763.5,304.3 765.9,300.5L776.0,283.8Q778.4,280.0 781.9,277.1L791.1,269.4Q794.6,266.5 798.6,268.5L831.0,284.8Q835.0,286.8 836.8,282.7L841.2,273.1Q843.0,269.0 847.1,267.2L894.5,246.7Q898.6,244.9 902.5,247.1L931.1,262.8Q935.0,265.0 937.1,261.0L940.9,254.0Q943.0,250.0 946.9,247.7L950.1,245.8Q954.0,243.5 957.9,245.7L989.1,262.8Q993.0,265.0 995.5,261.2L1002.9,249.8Q1005.4,246.0 1009.9,246.0L1087.5,246.0Q1092.0,246.0 1092.3,241.5L1095.7,198.0Q1096.0,193.5 1099.2,190.3L1104.8,184.6Q1108.0,181.4 1112.5,181.4L1133.3,181.4Q1137.8,181.4 1141.8,179.3L1169.0,164.5Q1173.0,162.4 1175.5,158.7L1202.9,118.7Q1205.4,115.0 1209.6,113.4Z"/>
<path stroke="#B3B3B3" d="M1185.6,1085.9Q1189.7,1084.0 1193.7,1086.1L1230.0,1104.9Q1234.0,1107.0 1238.5,1107.0L1259.3,1107.0Q1263.8,1107.0 1267.9,1108.9L1305.6,1127.1Q1309.7,1129.0 1314.2,1129.0L1329.5,1129.0Q1334.0,1129.0 1338.0,1131.0L1338.0,1131.0Q1342.0,1133.0 1344.7,1136.6L1380.0,1183.4Q1382.7,1187.0 1382.7,1191.0L1382.7,1191.0Q1382.7,1195.0 1379.8,1198.4L1369.4,1210.6Q1366.5,1214.0 1369.4,1217.5L1382.5,1233.5Q1385.4,1237.0 1389.9,1237.2L1407.9,1238.2Q1412.4,1238.4 1415.1,1242.0L1417.8,1245.4Q1420.5,1249.0 1420.5,1253.5L1420.5,1325.5Q1420.5,1330.0 1423.2,1332.8L1423.2,1332.8Q1426.0,1335.7 1430.1,1337.6L1456.9,1350.1Q1461.0,1352.0 1464.0,1355.4L1467.5,1359.3Q1470.5,1362.7 1470.5,1366.8L1470.5,1366.8Q1470.5,1370.8 1468.1,1374.6L1407.8,1467.8Q1405.4,1471.6 1401.4,1473.6L1358.0,1495.0Q1354.0,1497.0 1349.5,1496.9L1282.9,1496.1Q1278.4,1496.0 1275.8,1492.3L1267.5,1480.7Q1264.9,1477.0 1260.4,1477.0L1231.5,1477.0Q1227.0,1477.0 1224.4,1480.7L1202.6,1512.3Q1200.0,1516.0 1196.0,1518.1L1190.5,1520.9Q1186.5,1523.0 1182.7,1520.6L1179.5,1518.4Q1175.7,1516.0 1173.2,1512.3L1129.5,1446.7Q1127.0,1443.0 1125.9,1438.6L1125.4,1436.8Q1124.3,1432.4 1126.9,1428.7L1135.2,1417.2Q1137.8,1413.5 1135.3,1409.8L1105.5,1366.4Q1103.0,1362.7 1099.1,1360.5L1082.9,1351.2Q1079.0,1349.0 1076.7,1352.9L1073.1,1358.8Q1070.8,1362.7 1067.0,1365.1L1063.8,1367.1Q1060.0,1369.5 1055.8,1367.9L1053.2,1367.0Q1049.0,1365.4 1046.4,1361.7L1032.6,1342.1Q1030.0,1338.4 1025.9,1336.6L996.5,1323.8Q992.4,1322.0 987.9,1321.8L964.5,1321.0Q960.0,1320.8 957.2,1317.2L953.3,1312.2Q950.5,1308.6 950.5,1304.1L950.5,1259.1Q950.5,1254.6 952.8,1250.7L954.7,1247.7Q957.0,1243.8 961.0,1241.8L983.0,1231.0Q987.0,1229.0 984.3,1225.4L982.7,1223.1Q980.0,1219.5 980.0,1215.0L980.0,1213.1Q980.0,1208.6 982.3,1204.8L992.7,1187.8Q995.0,1184.0 998.6,1181.2L1005.0,1176.3Q1008.6,1173.5 1013.1,1173.5L1033.9,1173.5Q1038.4,1173.5 1042.3,1171.3L1072.1,1154.2Q1076.0,1152.0 1078.3,1148.1L1095.5,1119.3Q1097.8,1115.4 1101.4,1112.6L1105.0,1109.8Q1108.6,1107.0 1113.1,1107.0L1136.5,1107.0Q1141.0,1107.0 1145.1,1105.1Z"/>
</g>
<g fill="none" stroke="#000" stroke-width="1.8">
<polyline points="937.0,171.0 1022.0,171.0 1022.0,228.0"/>
<polyline points="645.0,462.0 562.0,462.0 554.0,470.0 554.0,625.0"/>
<polyline points="186.0,1302.7 288.6,1302.7 305.0,1286.0 352.0,1286.0"/>
<polyline points="307.0,1483.8 386.8,1483.8 471.0,1400.0 762.0,1400.0"/>
<polyline points="445.0,1615.4 528.6,1615.4 528.6,1563.5 561.0,1532.4"/>
<polyline points="549.0,1785.0 631.0,1785.0 631.0,1759.5 661.0,1730.0"/>
<polyline points="1566.0,1785.0 1484.9,1785.0 1448.4,1748.6 1448.4,1732.4"/>
<polyline points="1728.0,1643.0 1579.5,1643.0 1417.6,1481.0"/>
</g>
<text class="lb" x="951.4" y="153.0" textLength="67.8" lengthAdjust="spacingAndGlyphs">VMH</text>
<text class="lb" x="577.0" y="444.0" textLength="59.6" lengthAdjust="spacingAndGlyphs">SCN</text>
<text class="lb" x="200.8" y="1335.0" textLength="85.5" lengthAdjust="spacingAndGlyphs">MnPO</text>
<text class="lb" x="320.0" y="1518.0" textLength="58.4" lengthAdjust="spacingAndGlyphs">LHA</text>
<text class="lb" x="458.4" y="1647.5" textLength="59.2" lengthAdjust="spacingAndGlyphs">ARC</text>
<text class="lb" x="563.8" y="1816.0" textLength="61.3" lengthAdjust="spacingAndGlyphs">POA</text>
<text class="lb" x="1498.4" y="1816.0" textLength="60.9" lengthAdjust="spacingAndGlyphs">PVN</text>
<text class="lb" x="1660.5" y="1676.0" textLength="60.9" lengthAdjust="spacingAndGlyphs">VPH</text>
<g stroke="#000" stroke-width="2.2" fill="none">
<line x1="84.6" y1="52" x2="84.6" y2="1849"/>
<line x1="83.5" y1="1848" x2="2117.5" y2="1848"/>
</g>
<g stroke="#333" stroke-width="2.2">
<line x1="144.5" y1="1849" x2="144.5" y2="1854.5"/>
<line x1="810.3" y1="1849" x2="810.3" y2="1854.5"/>
<line x1="1475.6" y1="1849" x2="1475.6" y2="1854.5"/>
<line x1="78.5" y1="573.5" x2="83.5" y2="573.5"/>
<line x1="78.5" y1="1133.3" x2="83.5" y2="1133.3"/>
<line x1="78.5" y1="1693.4" x2="83.5" y2="1693.4"/>
</g>
<text class="tk" text-anchor="middle" x="144.5" y="1874.5">-25</text>
<text class="tk" text-anchor="middle" x="810.3" y="1874.5">0</text>
<text class="tk" text-anchor="middle" x="1475.6" y="1874.5">25</text>
<text class="tk" text-anchor="end" x="74" y="580.5">25</text>
<text class="tk" text-anchor="end" x="74" y="1140.3">0</text>
<text class="tk" text-anchor="end" x="74" y="1700.4">-25</text>
<text class="ax" text-anchor="middle" x="1101" y="1902">XGBoost_densMAP_1</text>
<text class="ax" text-anchor="middle" transform="translate(31,950) rotate(-90)">XGBoost_densMAP_2</text>
<text x="86.5" y="34" style="font-size:30.5px;fill:#000;letter-spacing:1.03px">Mean of mRNA expression of Fbxo2 in logarithmic scale</text>
<defs><linearGradient id="lg" x1="0" y1="1" x2="0" y2="0">
<stop offset="0.0000" stop-color="#ffff00"/>
<stop offset="0.0723" stop-color="#fad700"/>
<stop offset="0.1445" stop-color="#f2aa00"/>
<stop offset="0.2168" stop-color="#e88700"/>
<stop offset="0.2890" stop-color="#dc5f00"/>
<stop offset="0.3757" stop-color="#cd3e00"/>
<stop offset="0.4624" stop-color="#bc260a"/>
<stop offset="0.5202" stop-color="#b21c32"/>
<stop offset="0.5780" stop-color="#a5168c"/>
<stop offset="0.6358" stop-color="#960fc8"/>
<stop offset="0.7225" stop-color="#8a05ff"/>
<stop offset="0.8092" stop-color="#6900e1"/>
<stop offset="0.8671" stop-color="#5500b4"/>
<stop offset="0.9104" stop-color="#46008c"/>
<stop offset="0.9538" stop-color="#281e2d"/>
<stop offset="1.0000" stop-color="#000000"/>
</linearGradient></defs>
<rect x="2154.2" y="860.3" width="38" height="191.5" fill="url(#lg)"/>
<g stroke="#fff" stroke-width="1">
<line x1="2154.2" y1="996.4" x2="2161.8" y2="996.4"/><line x1="2184.6" y1="996.4" x2="2192.2" y2="996.4"/>
<line x1="2154.2" y1="941.0" x2="2161.8" y2="941.0"/><line x1="2184.6" y1="941.0" x2="2192.2" y2="941.0"/>
<line x1="2154.2" y1="885.6" x2="2161.8" y2="885.6"/><line x1="2184.6" y1="885.6" x2="2192.2" y2="885.6"/>
</g>
<text class="lg" x="2204" y="1059.1">0</text>
<text class="lg" x="2204" y="1003.7">1</text>
<text class="lg" x="2204" y="948.3">2</text>
<text class="lg" x="2204" y="892.9">3</text>
</svg>
</body></html>
